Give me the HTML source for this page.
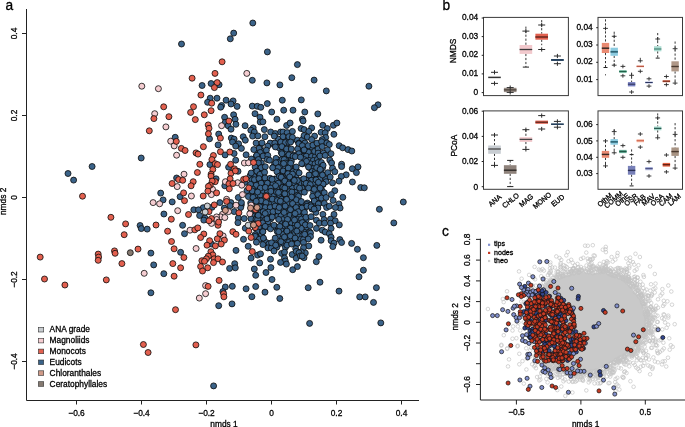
<!DOCTYPE html>
<html><head><meta charset="utf-8"><style>
html,body{margin:0;padding:0;background:#fff;width:685px;height:427px;overflow:hidden}
svg{display:block;font-family:"Liberation Sans",sans-serif;will-change:transform}
.pa circle{stroke:#0a0a0a;stroke-width:0.8}
</style></head><body>
<svg width="685" height="427" viewBox="0 0 685 427">
<g class="pa">
<path d="M26.5 9 V400.5 H419" fill="none" stroke="#222" stroke-width="1"/>
<line x1="76.5" y1="400.5" x2="76.5" y2="404.5" stroke="#222" stroke-width="1"/>
<text transform="translate(76.50 415.60) scale(0.95 1)" font-size="8.8" text-anchor="middle" fill="#000" stroke="#000" stroke-width="0.3">−0.6</text>
<line x1="141.5" y1="400.5" x2="141.5" y2="404.5" stroke="#222" stroke-width="1"/>
<text transform="translate(141.50 415.60) scale(0.95 1)" font-size="8.8" text-anchor="middle" fill="#000" stroke="#000" stroke-width="0.3">−0.4</text>
<line x1="206.5" y1="400.5" x2="206.5" y2="404.5" stroke="#222" stroke-width="1"/>
<text transform="translate(206.50 415.60) scale(0.95 1)" font-size="8.8" text-anchor="middle" fill="#000" stroke="#000" stroke-width="0.3">−0.2</text>
<line x1="271.5" y1="400.5" x2="271.5" y2="404.5" stroke="#222" stroke-width="1"/>
<text transform="translate(271.50 415.60) scale(0.95 1)" font-size="8.8" text-anchor="middle" fill="#000" stroke="#000" stroke-width="0.3">0</text>
<line x1="336.5" y1="400.5" x2="336.5" y2="404.5" stroke="#222" stroke-width="1"/>
<text transform="translate(336.50 415.60) scale(0.95 1)" font-size="8.8" text-anchor="middle" fill="#000" stroke="#000" stroke-width="0.3">0.2</text>
<line x1="401.5" y1="400.5" x2="401.5" y2="404.5" stroke="#222" stroke-width="1"/>
<text transform="translate(401.50 415.60) scale(0.95 1)" font-size="8.8" text-anchor="middle" fill="#000" stroke="#000" stroke-width="0.3">0.4</text>
<line x1="22" y1="33.5" x2="26.5" y2="33.5" stroke="#222" stroke-width="1"/>
<text transform="translate(17.30 33.50) rotate(-90) scale(0.95 1)" font-size="8.8" text-anchor="middle" fill="#000" stroke="#000" stroke-width="0.3">0.4</text>
<line x1="22" y1="115.5" x2="26.5" y2="115.5" stroke="#222" stroke-width="1"/>
<text transform="translate(17.30 115.50) rotate(-90) scale(0.95 1)" font-size="8.8" text-anchor="middle" fill="#000" stroke="#000" stroke-width="0.3">0.2</text>
<line x1="22" y1="197.5" x2="26.5" y2="197.5" stroke="#222" stroke-width="1"/>
<text transform="translate(17.30 197.50) rotate(-90) scale(0.95 1)" font-size="8.8" text-anchor="middle" fill="#000" stroke="#000" stroke-width="0.3">0</text>
<line x1="22" y1="279.5" x2="26.5" y2="279.5" stroke="#222" stroke-width="1"/>
<text transform="translate(17.30 279.50) rotate(-90) scale(0.95 1)" font-size="8.8" text-anchor="middle" fill="#000" stroke="#000" stroke-width="0.3">−0.2</text>
<line x1="22" y1="361.5" x2="26.5" y2="361.5" stroke="#222" stroke-width="1"/>
<text transform="translate(17.30 361.50) rotate(-90) scale(0.95 1)" font-size="8.8" text-anchor="middle" fill="#000" stroke="#000" stroke-width="0.3">−0.4</text>
<text transform="translate(224.00 426.70) scale(0.95 1)" font-size="8.8" text-anchor="middle" fill="#000" stroke="#000" stroke-width="0.3">nmds 1</text>
<text transform="translate(5.80 201.40) rotate(-90) scale(0.95 1)" font-size="8.8" text-anchor="middle" fill="#000" stroke="#000" stroke-width="0.3">nmds 2</text>
<text transform="translate(5.60 9.80) scale(0.95 1)" font-size="14.5" text-anchor="start" fill="#000" stroke="#000" stroke-width="0.3">a</text>
<circle cx="278.3" cy="139.1" r="3.0" fill="#3b6389"/>
<circle cx="284.6" cy="140.6" r="3.0" fill="#3b6389"/>
<circle cx="287.5" cy="139.9" r="3.0" fill="#3b6389"/>
<circle cx="292.5" cy="139.5" r="3.0" fill="#3b6389"/>
<circle cx="297.2" cy="140.2" r="3.0" fill="#3b6389"/>
<circle cx="302.3" cy="139.6" r="3.0" fill="#3b6389"/>
<circle cx="271.7" cy="143.8" r="3.0" fill="#3b6389"/>
<circle cx="276.0" cy="144.5" r="3.0" fill="#3b6389"/>
<circle cx="281.7" cy="144.7" r="3.0" fill="#3b6389"/>
<circle cx="286.6" cy="144.2" r="3.0" fill="#3b6389"/>
<circle cx="298.8" cy="143.2" r="3.0" fill="#3b6389"/>
<circle cx="304.9" cy="143.0" r="3.0" fill="#3b6389"/>
<circle cx="260.2" cy="147.2" r="3.0" fill="#3b6389"/>
<circle cx="278.8" cy="147.7" r="3.0" fill="#3b6389"/>
<circle cx="282.9" cy="147.9" r="3.0" fill="#3b6389"/>
<circle cx="302.4" cy="147.9" r="3.0" fill="#3b6389"/>
<circle cx="306.7" cy="148.2" r="3.0" fill="#3b6389"/>
<circle cx="312.1" cy="147.2" r="3.0" fill="#3b6389"/>
<circle cx="258.4" cy="151.6" r="3.0" fill="#3b6389"/>
<circle cx="262.3" cy="151.6" r="3.0" fill="#3b6389"/>
<circle cx="281.3" cy="152.5" r="3.0" fill="#3b6389"/>
<circle cx="286.6" cy="152.0" r="3.0" fill="#3b6389"/>
<circle cx="300.3" cy="152.8" r="3.0" fill="#3b6389"/>
<circle cx="304.3" cy="151.3" r="3.0" fill="#3b6389"/>
<circle cx="308.5" cy="152.3" r="3.0" fill="#3b6389"/>
<circle cx="314.0" cy="152.8" r="3.0" fill="#3b6389"/>
<circle cx="256.3" cy="156.2" r="3.0" fill="#3b6389"/>
<circle cx="259.7" cy="155.5" r="3.0" fill="#3b6389"/>
<circle cx="265.2" cy="155.8" r="3.0" fill="#3b6389"/>
<circle cx="283.2" cy="156.2" r="3.0" fill="#3b6389"/>
<circle cx="287.5" cy="156.6" r="3.0" fill="#3b6389"/>
<circle cx="293.7" cy="155.0" r="3.0" fill="#3b6389"/>
<circle cx="298.4" cy="155.6" r="3.0" fill="#3b6389"/>
<circle cx="302.6" cy="156.4" r="3.0" fill="#3b6389"/>
<circle cx="306.3" cy="156.2" r="3.0" fill="#3b6389"/>
<circle cx="311.6" cy="156.5" r="3.0" fill="#3b6389"/>
<circle cx="315.4" cy="156.4" r="3.0" fill="#3b6389"/>
<circle cx="253.5" cy="160.3" r="3.0" fill="#3b6389"/>
<circle cx="258.6" cy="159.9" r="3.0" fill="#3b6389"/>
<circle cx="277.3" cy="159.9" r="3.0" fill="#3b6389"/>
<circle cx="281.9" cy="159.6" r="3.0" fill="#3b6389"/>
<circle cx="285.5" cy="159.6" r="3.0" fill="#3b6389"/>
<circle cx="291.3" cy="158.9" r="3.0" fill="#3b6389"/>
<circle cx="304.1" cy="159.6" r="3.0" fill="#3b6389"/>
<circle cx="309.1" cy="160.4" r="3.0" fill="#3b6389"/>
<circle cx="313.3" cy="160.5" r="3.0" fill="#3b6389"/>
<circle cx="317.4" cy="159.4" r="3.0" fill="#3b6389"/>
<circle cx="255.5" cy="163.3" r="3.0" fill="#3b6389"/>
<circle cx="261.3" cy="162.9" r="3.0" fill="#3b6389"/>
<circle cx="274.6" cy="164.0" r="3.0" fill="#3b6389"/>
<circle cx="279.4" cy="164.8" r="3.0" fill="#3b6389"/>
<circle cx="284.1" cy="163.4" r="3.0" fill="#3b6389"/>
<circle cx="289.0" cy="163.8" r="3.0" fill="#3b6389"/>
<circle cx="302.4" cy="163.8" r="3.0" fill="#3b6389"/>
<circle cx="306.7" cy="163.7" r="3.0" fill="#3b6389"/>
<circle cx="310.7" cy="163.9" r="3.0" fill="#3b6389"/>
<circle cx="315.0" cy="163.8" r="3.0" fill="#3b6389"/>
<circle cx="320.8" cy="163.7" r="3.0" fill="#3b6389"/>
<circle cx="259.3" cy="168.2" r="3.0" fill="#3b6389"/>
<circle cx="263.5" cy="167.5" r="3.0" fill="#3b6389"/>
<circle cx="272.9" cy="167.7" r="3.0" fill="#3b6389"/>
<circle cx="277.3" cy="167.8" r="3.0" fill="#3b6389"/>
<circle cx="280.6" cy="166.9" r="3.0" fill="#3b6389"/>
<circle cx="285.2" cy="167.2" r="3.0" fill="#3b6389"/>
<circle cx="289.9" cy="167.8" r="3.0" fill="#3b6389"/>
<circle cx="295.6" cy="167.9" r="3.0" fill="#3b6389"/>
<circle cx="309.5" cy="167.6" r="3.0" fill="#3b6389"/>
<circle cx="313.0" cy="168.6" r="3.0" fill="#3b6389"/>
<circle cx="318.6" cy="167.5" r="3.0" fill="#3b6389"/>
<circle cx="322.5" cy="167.9" r="3.0" fill="#3b6389"/>
<circle cx="255.4" cy="171.8" r="3.0" fill="#3b6389"/>
<circle cx="259.8" cy="170.8" r="3.0" fill="#3b6389"/>
<circle cx="278.2" cy="172.7" r="3.0" fill="#3b6389"/>
<circle cx="283.1" cy="171.0" r="3.0" fill="#3b6389"/>
<circle cx="288.2" cy="171.1" r="3.0" fill="#3b6389"/>
<circle cx="293.1" cy="171.5" r="3.0" fill="#3b6389"/>
<circle cx="296.7" cy="170.9" r="3.0" fill="#3b6389"/>
<circle cx="312.2" cy="171.4" r="3.0" fill="#3b6389"/>
<circle cx="315.4" cy="171.3" r="3.0" fill="#3b6389"/>
<circle cx="321.1" cy="172.0" r="3.0" fill="#3b6389"/>
<circle cx="250.1" cy="175.7" r="3.0" fill="#3b6389"/>
<circle cx="254.4" cy="176.6" r="3.0" fill="#3b6389"/>
<circle cx="259.3" cy="174.8" r="3.0" fill="#3b6389"/>
<circle cx="262.6" cy="176.0" r="3.0" fill="#3b6389"/>
<circle cx="281.1" cy="176.1" r="3.0" fill="#3b6389"/>
<circle cx="286.9" cy="175.1" r="3.0" fill="#3b6389"/>
<circle cx="291.1" cy="176.2" r="3.0" fill="#3b6389"/>
<circle cx="295.9" cy="175.9" r="3.0" fill="#3b6389"/>
<circle cx="309.6" cy="175.7" r="3.0" fill="#3b6389"/>
<circle cx="313.1" cy="175.1" r="3.0" fill="#3b6389"/>
<circle cx="318.6" cy="176.0" r="3.0" fill="#3b6389"/>
<circle cx="323.2" cy="175.5" r="3.0" fill="#3b6389"/>
<circle cx="252.2" cy="179.7" r="3.0" fill="#3b6389"/>
<circle cx="256.9" cy="180.2" r="3.0" fill="#3b6389"/>
<circle cx="260.4" cy="179.5" r="3.0" fill="#3b6389"/>
<circle cx="264.4" cy="179.6" r="3.0" fill="#3b6389"/>
<circle cx="274.6" cy="179.0" r="3.0" fill="#3b6389"/>
<circle cx="278.3" cy="180.1" r="3.0" fill="#3b6389"/>
<circle cx="283.2" cy="178.9" r="3.0" fill="#3b6389"/>
<circle cx="287.6" cy="180.0" r="3.0" fill="#3b6389"/>
<circle cx="293.1" cy="178.8" r="3.0" fill="#3b6389"/>
<circle cx="297.0" cy="180.7" r="3.0" fill="#3b6389"/>
<circle cx="301.5" cy="179.9" r="3.0" fill="#3b6389"/>
<circle cx="306.5" cy="180.3" r="3.0" fill="#3b6389"/>
<circle cx="311.5" cy="180.3" r="3.0" fill="#3b6389"/>
<circle cx="316.0" cy="179.1" r="3.0" fill="#3b6389"/>
<circle cx="319.9" cy="178.9" r="3.0" fill="#3b6389"/>
<circle cx="325.8" cy="179.0" r="3.0" fill="#3b6389"/>
<circle cx="253.7" cy="183.0" r="3.0" fill="#3b6389"/>
<circle cx="259.1" cy="183.9" r="3.0" fill="#3b6389"/>
<circle cx="263.6" cy="183.1" r="3.0" fill="#3b6389"/>
<circle cx="267.7" cy="183.7" r="3.0" fill="#3b6389"/>
<circle cx="272.7" cy="182.9" r="3.0" fill="#3b6389"/>
<circle cx="276.5" cy="183.7" r="3.0" fill="#3b6389"/>
<circle cx="280.5" cy="183.8" r="3.0" fill="#3b6389"/>
<circle cx="286.5" cy="183.6" r="3.0" fill="#3b6389"/>
<circle cx="290.9" cy="183.9" r="3.0" fill="#3b6389"/>
<circle cx="294.6" cy="183.4" r="3.0" fill="#3b6389"/>
<circle cx="300.8" cy="183.4" r="3.0" fill="#3b6389"/>
<circle cx="304.3" cy="182.9" r="3.0" fill="#3b6389"/>
<circle cx="308.4" cy="183.1" r="3.0" fill="#3b6389"/>
<circle cx="314.5" cy="184.2" r="3.0" fill="#3b6389"/>
<circle cx="318.9" cy="184.7" r="3.0" fill="#3b6389"/>
<circle cx="323.0" cy="184.6" r="3.0" fill="#3b6389"/>
<circle cx="250.9" cy="186.9" r="3.0" fill="#3b6389"/>
<circle cx="256.5" cy="187.3" r="3.0" fill="#3b6389"/>
<circle cx="260.7" cy="188.0" r="3.0" fill="#3b6389"/>
<circle cx="264.4" cy="188.2" r="3.0" fill="#3b6389"/>
<circle cx="269.5" cy="187.6" r="3.0" fill="#3b6389"/>
<circle cx="274.2" cy="188.2" r="3.0" fill="#3b6389"/>
<circle cx="279.6" cy="187.3" r="3.0" fill="#3b6389"/>
<circle cx="282.9" cy="187.3" r="3.0" fill="#3b6389"/>
<circle cx="288.1" cy="186.9" r="3.0" fill="#3b6389"/>
<circle cx="292.2" cy="188.2" r="3.0" fill="#3b6389"/>
<circle cx="297.9" cy="188.7" r="3.0" fill="#3b6389"/>
<circle cx="303.1" cy="188.5" r="3.0" fill="#3b6389"/>
<circle cx="306.4" cy="187.0" r="3.0" fill="#3b6389"/>
<circle cx="310.9" cy="187.6" r="3.0" fill="#3b6389"/>
<circle cx="316.0" cy="187.8" r="3.0" fill="#3b6389"/>
<circle cx="320.2" cy="188.4" r="3.0" fill="#3b6389"/>
<circle cx="249.7" cy="191.6" r="3.0" fill="#3b6389"/>
<circle cx="254.8" cy="192.3" r="3.0" fill="#3b6389"/>
<circle cx="259.4" cy="190.8" r="3.0" fill="#3b6389"/>
<circle cx="262.4" cy="190.7" r="3.0" fill="#3b6389"/>
<circle cx="267.5" cy="191.4" r="3.0" fill="#3b6389"/>
<circle cx="271.3" cy="191.8" r="3.0" fill="#3b6389"/>
<circle cx="276.0" cy="191.3" r="3.0" fill="#3b6389"/>
<circle cx="280.9" cy="192.3" r="3.0" fill="#3b6389"/>
<circle cx="285.8" cy="191.2" r="3.0" fill="#3b6389"/>
<circle cx="289.7" cy="191.6" r="3.0" fill="#3b6389"/>
<circle cx="295.5" cy="192.1" r="3.0" fill="#3b6389"/>
<circle cx="300.6" cy="192.3" r="3.0" fill="#3b6389"/>
<circle cx="313.6" cy="192.4" r="3.0" fill="#3b6389"/>
<circle cx="318.3" cy="191.3" r="3.0" fill="#3b6389"/>
<circle cx="322.1" cy="190.7" r="3.0" fill="#3b6389"/>
<circle cx="251.9" cy="196.7" r="3.0" fill="#3b6389"/>
<circle cx="256.2" cy="195.5" r="3.0" fill="#3b6389"/>
<circle cx="260.4" cy="195.6" r="3.0" fill="#3b6389"/>
<circle cx="265.9" cy="195.6" r="3.0" fill="#3b6389"/>
<circle cx="270.8" cy="195.0" r="3.0" fill="#3b6389"/>
<circle cx="274.1" cy="195.7" r="3.0" fill="#3b6389"/>
<circle cx="278.9" cy="196.4" r="3.0" fill="#3b6389"/>
<circle cx="284.4" cy="196.6" r="3.0" fill="#3b6389"/>
<circle cx="288.5" cy="194.7" r="3.0" fill="#3b6389"/>
<circle cx="293.0" cy="195.8" r="3.0" fill="#3b6389"/>
<circle cx="297.5" cy="195.2" r="3.0" fill="#3b6389"/>
<circle cx="316.7" cy="196.6" r="3.0" fill="#3b6389"/>
<circle cx="320.8" cy="195.1" r="3.0" fill="#3b6389"/>
<circle cx="253.2" cy="198.8" r="3.0" fill="#3b6389"/>
<circle cx="258.5" cy="200.2" r="3.0" fill="#3b6389"/>
<circle cx="263.7" cy="199.9" r="3.0" fill="#3b6389"/>
<circle cx="268.2" cy="198.7" r="3.0" fill="#3b6389"/>
<circle cx="271.8" cy="200.6" r="3.0" fill="#3b6389"/>
<circle cx="275.9" cy="199.2" r="3.0" fill="#3b6389"/>
<circle cx="281.4" cy="199.2" r="3.0" fill="#3b6389"/>
<circle cx="286.1" cy="198.8" r="3.0" fill="#3b6389"/>
<circle cx="290.1" cy="200.6" r="3.0" fill="#3b6389"/>
<circle cx="294.5" cy="200.5" r="3.0" fill="#3b6389"/>
<circle cx="299.2" cy="200.7" r="3.0" fill="#3b6389"/>
<circle cx="314.1" cy="199.0" r="3.0" fill="#3b6389"/>
<circle cx="317.6" cy="200.3" r="3.0" fill="#3b6389"/>
<circle cx="250.7" cy="203.0" r="3.0" fill="#3b6389"/>
<circle cx="257.0" cy="204.6" r="3.0" fill="#3b6389"/>
<circle cx="261.7" cy="203.1" r="3.0" fill="#3b6389"/>
<circle cx="265.0" cy="204.6" r="3.0" fill="#3b6389"/>
<circle cx="269.9" cy="204.1" r="3.0" fill="#3b6389"/>
<circle cx="274.1" cy="202.7" r="3.0" fill="#3b6389"/>
<circle cx="278.8" cy="204.2" r="3.0" fill="#3b6389"/>
<circle cx="284.3" cy="203.8" r="3.0" fill="#3b6389"/>
<circle cx="288.2" cy="203.7" r="3.0" fill="#3b6389"/>
<circle cx="292.8" cy="203.7" r="3.0" fill="#3b6389"/>
<circle cx="298.2" cy="203.1" r="3.0" fill="#3b6389"/>
<circle cx="302.3" cy="204.5" r="3.0" fill="#3b6389"/>
<circle cx="307.4" cy="203.0" r="3.0" fill="#3b6389"/>
<circle cx="312.2" cy="204.3" r="3.0" fill="#3b6389"/>
<circle cx="315.2" cy="203.2" r="3.0" fill="#3b6389"/>
<circle cx="319.9" cy="202.8" r="3.0" fill="#3b6389"/>
<circle cx="253.4" cy="207.7" r="3.0" fill="#3b6389"/>
<circle cx="258.1" cy="207.3" r="3.0" fill="#3b6389"/>
<circle cx="262.7" cy="207.8" r="3.0" fill="#3b6389"/>
<circle cx="268.6" cy="208.5" r="3.0" fill="#3b6389"/>
<circle cx="272.9" cy="208.3" r="3.0" fill="#3b6389"/>
<circle cx="276.4" cy="208.6" r="3.0" fill="#3b6389"/>
<circle cx="280.9" cy="206.9" r="3.0" fill="#3b6389"/>
<circle cx="286.0" cy="208.1" r="3.0" fill="#3b6389"/>
<circle cx="290.3" cy="207.9" r="3.0" fill="#3b6389"/>
<circle cx="294.8" cy="208.6" r="3.0" fill="#3b6389"/>
<circle cx="299.7" cy="207.6" r="3.0" fill="#3b6389"/>
<circle cx="304.5" cy="208.4" r="3.0" fill="#3b6389"/>
<circle cx="317.3" cy="207.5" r="3.0" fill="#3b6389"/>
<circle cx="251.1" cy="211.6" r="3.0" fill="#3b6389"/>
<circle cx="255.9" cy="211.4" r="3.0" fill="#3b6389"/>
<circle cx="261.0" cy="212.4" r="3.0" fill="#3b6389"/>
<circle cx="265.5" cy="210.9" r="3.0" fill="#3b6389"/>
<circle cx="269.3" cy="211.4" r="3.0" fill="#3b6389"/>
<circle cx="274.7" cy="210.9" r="3.0" fill="#3b6389"/>
<circle cx="278.3" cy="211.3" r="3.0" fill="#3b6389"/>
<circle cx="283.3" cy="210.7" r="3.0" fill="#3b6389"/>
<circle cx="288.4" cy="212.5" r="3.0" fill="#3b6389"/>
<circle cx="293.0" cy="212.1" r="3.0" fill="#3b6389"/>
<circle cx="298.2" cy="212.3" r="3.0" fill="#3b6389"/>
<circle cx="302.9" cy="211.5" r="3.0" fill="#3b6389"/>
<circle cx="315.9" cy="212.4" r="3.0" fill="#3b6389"/>
<circle cx="254.8" cy="216.0" r="3.0" fill="#3b6389"/>
<circle cx="257.6" cy="215.5" r="3.0" fill="#3b6389"/>
<circle cx="263.5" cy="216.6" r="3.0" fill="#3b6389"/>
<circle cx="266.7" cy="214.6" r="3.0" fill="#3b6389"/>
<circle cx="272.2" cy="215.5" r="3.0" fill="#3b6389"/>
<circle cx="277.6" cy="216.3" r="3.0" fill="#3b6389"/>
<circle cx="281.1" cy="215.4" r="3.0" fill="#3b6389"/>
<circle cx="286.2" cy="216.4" r="3.0" fill="#3b6389"/>
<circle cx="290.0" cy="215.4" r="3.0" fill="#3b6389"/>
<circle cx="294.4" cy="215.9" r="3.0" fill="#3b6389"/>
<circle cx="298.9" cy="216.5" r="3.0" fill="#3b6389"/>
<circle cx="304.4" cy="215.8" r="3.0" fill="#3b6389"/>
<circle cx="250.9" cy="218.7" r="3.0" fill="#3b6389"/>
<circle cx="256.0" cy="219.2" r="3.0" fill="#3b6389"/>
<circle cx="260.1" cy="220.3" r="3.0" fill="#3b6389"/>
<circle cx="264.7" cy="220.2" r="3.0" fill="#3b6389"/>
<circle cx="270.8" cy="218.8" r="3.0" fill="#3b6389"/>
<circle cx="282.8" cy="219.6" r="3.0" fill="#3b6389"/>
<circle cx="288.1" cy="220.3" r="3.0" fill="#3b6389"/>
<circle cx="293.6" cy="218.7" r="3.0" fill="#3b6389"/>
<circle cx="297.3" cy="219.4" r="3.0" fill="#3b6389"/>
<circle cx="301.5" cy="219.1" r="3.0" fill="#3b6389"/>
<circle cx="306.2" cy="220.0" r="3.0" fill="#3b6389"/>
<circle cx="253.3" cy="224.4" r="3.0" fill="#3b6389"/>
<circle cx="258.8" cy="223.0" r="3.0" fill="#3b6389"/>
<circle cx="263.6" cy="224.5" r="3.0" fill="#3b6389"/>
<circle cx="267.3" cy="224.6" r="3.0" fill="#3b6389"/>
<circle cx="281.9" cy="223.7" r="3.0" fill="#3b6389"/>
<circle cx="285.2" cy="223.6" r="3.0" fill="#3b6389"/>
<circle cx="291.3" cy="223.5" r="3.0" fill="#3b6389"/>
<circle cx="295.3" cy="224.3" r="3.0" fill="#3b6389"/>
<circle cx="299.7" cy="223.6" r="3.0" fill="#3b6389"/>
<circle cx="304.6" cy="224.2" r="3.0" fill="#3b6389"/>
<circle cx="255.3" cy="227.7" r="3.0" fill="#3b6389"/>
<circle cx="260.3" cy="228.0" r="3.0" fill="#3b6389"/>
<circle cx="264.6" cy="227.3" r="3.0" fill="#3b6389"/>
<circle cx="269.3" cy="227.4" r="3.0" fill="#3b6389"/>
<circle cx="274.7" cy="226.8" r="3.0" fill="#3b6389"/>
<circle cx="278.2" cy="227.5" r="3.0" fill="#3b6389"/>
<circle cx="283.1" cy="227.6" r="3.0" fill="#3b6389"/>
<circle cx="287.6" cy="226.8" r="3.0" fill="#3b6389"/>
<circle cx="293.0" cy="228.4" r="3.0" fill="#3b6389"/>
<circle cx="298.2" cy="227.6" r="3.0" fill="#3b6389"/>
<circle cx="301.9" cy="226.7" r="3.0" fill="#3b6389"/>
<circle cx="306.3" cy="227.2" r="3.0" fill="#3b6389"/>
<circle cx="257.7" cy="231.9" r="3.0" fill="#3b6389"/>
<circle cx="262.5" cy="231.6" r="3.0" fill="#3b6389"/>
<circle cx="277.2" cy="231.4" r="3.0" fill="#3b6389"/>
<circle cx="282.0" cy="231.1" r="3.0" fill="#3b6389"/>
<circle cx="286.1" cy="231.7" r="3.0" fill="#3b6389"/>
<circle cx="290.4" cy="230.6" r="3.0" fill="#3b6389"/>
<circle cx="294.5" cy="231.8" r="3.0" fill="#3b6389"/>
<circle cx="299.2" cy="232.1" r="3.0" fill="#3b6389"/>
<circle cx="304.4" cy="232.4" r="3.0" fill="#3b6389"/>
<circle cx="309.7" cy="232.0" r="3.0" fill="#3b6389"/>
<circle cx="255.1" cy="234.7" r="3.0" fill="#3b6389"/>
<circle cx="261.3" cy="235.3" r="3.0" fill="#3b6389"/>
<circle cx="278.7" cy="235.9" r="3.0" fill="#3b6389"/>
<circle cx="283.0" cy="234.6" r="3.0" fill="#3b6389"/>
<circle cx="288.3" cy="235.2" r="3.0" fill="#3b6389"/>
<circle cx="293.8" cy="234.7" r="3.0" fill="#3b6389"/>
<circle cx="298.1" cy="235.3" r="3.0" fill="#3b6389"/>
<circle cx="302.7" cy="235.4" r="3.0" fill="#3b6389"/>
<circle cx="307.0" cy="235.2" r="3.0" fill="#3b6389"/>
<circle cx="258.0" cy="238.6" r="3.0" fill="#3b6389"/>
<circle cx="263.6" cy="239.5" r="3.0" fill="#3b6389"/>
<circle cx="282.4" cy="238.8" r="3.0" fill="#3b6389"/>
<circle cx="285.7" cy="240.5" r="3.0" fill="#3b6389"/>
<circle cx="289.8" cy="239.5" r="3.0" fill="#3b6389"/>
<circle cx="295.2" cy="239.0" r="3.0" fill="#3b6389"/>
<circle cx="300.6" cy="239.3" r="3.0" fill="#3b6389"/>
<circle cx="303.4" cy="239.5" r="3.0" fill="#3b6389"/>
<circle cx="266.2" cy="242.5" r="3.0" fill="#3b6389"/>
<circle cx="269.0" cy="243.8" r="3.0" fill="#3b6389"/>
<circle cx="275.4" cy="243.3" r="3.0" fill="#3b6389"/>
<circle cx="279.5" cy="243.6" r="3.0" fill="#3b6389"/>
<circle cx="283.5" cy="243.4" r="3.0" fill="#3b6389"/>
<circle cx="288.5" cy="242.5" r="3.0" fill="#3b6389"/>
<circle cx="297.0" cy="243.4" r="3.0" fill="#3b6389"/>
<circle cx="267.9" cy="247.9" r="3.0" fill="#3b6389"/>
<circle cx="271.4" cy="248.0" r="3.0" fill="#3b6389"/>
<circle cx="276.8" cy="247.2" r="3.0" fill="#3b6389"/>
<circle cx="285.4" cy="247.3" r="3.0" fill="#3b6389"/>
<circle cx="252.8" cy="23.0" r="3.0" fill="#3b6389"/>
<circle cx="233.7" cy="33.1" r="3.0" fill="#3b6389"/>
<circle cx="230.3" cy="38.8" r="3.0" fill="#3b6389"/>
<circle cx="267.4" cy="51.9" r="3.0" fill="#3b6389"/>
<circle cx="181.5" cy="44.0" r="3.0" fill="#3b6389"/>
<circle cx="297.4" cy="64.6" r="3.0" fill="#3b6389"/>
<circle cx="291.8" cy="77.7" r="3.0" fill="#3b6389"/>
<circle cx="314.1" cy="80.1" r="3.0" fill="#3b6389"/>
<circle cx="326.3" cy="90.9" r="3.0" fill="#3b6389"/>
<circle cx="368.9" cy="86.2" r="3.0" fill="#3b6389"/>
<circle cx="202.1" cy="85.5" r="3.0" fill="#3b6389"/>
<circle cx="211.1" cy="83.5" r="3.0" fill="#3b6389"/>
<circle cx="219.1" cy="84.7" r="3.0" fill="#3b6389"/>
<circle cx="210.2" cy="98.2" r="3.0" fill="#3b6389"/>
<circle cx="217.0" cy="98.2" r="3.0" fill="#3b6389"/>
<circle cx="207.6" cy="102.3" r="3.0" fill="#3b6389"/>
<circle cx="226.1" cy="100.2" r="3.0" fill="#3b6389"/>
<circle cx="233.1" cy="100.9" r="3.0" fill="#3b6389"/>
<circle cx="231.0" cy="104.0" r="3.0" fill="#3b6389"/>
<circle cx="237.1" cy="106.4" r="3.0" fill="#3b6389"/>
<circle cx="221.6" cy="105.5" r="3.0" fill="#3b6389"/>
<circle cx="220.7" cy="107.2" r="3.0" fill="#3b6389"/>
<circle cx="224.6" cy="117.3" r="3.0" fill="#3b6389"/>
<circle cx="233.6" cy="114.8" r="3.0" fill="#3b6389"/>
<circle cx="235.1" cy="119.3" r="3.0" fill="#3b6389"/>
<circle cx="225.2" cy="122.4" r="3.0" fill="#3b6389"/>
<circle cx="235.9" cy="124.3" r="3.0" fill="#3b6389"/>
<circle cx="228.1" cy="125.7" r="3.0" fill="#3b6389"/>
<circle cx="245.1" cy="125.7" r="3.0" fill="#3b6389"/>
<circle cx="231.0" cy="129.2" r="3.0" fill="#3b6389"/>
<circle cx="252.3" cy="80.3" r="3.0" fill="#3b6389"/>
<circle cx="266.9" cy="82.9" r="3.0" fill="#3b6389"/>
<circle cx="279.9" cy="84.9" r="3.0" fill="#3b6389"/>
<circle cx="282.3" cy="100.2" r="3.0" fill="#3b6389"/>
<circle cx="301.3" cy="99.9" r="3.0" fill="#3b6389"/>
<circle cx="267.3" cy="103.6" r="3.0" fill="#3b6389"/>
<circle cx="252.3" cy="106.1" r="3.0" fill="#3b6389"/>
<circle cx="257.3" cy="106.3" r="3.0" fill="#3b6389"/>
<circle cx="260.8" cy="107.3" r="3.0" fill="#3b6389"/>
<circle cx="271.7" cy="112.0" r="3.0" fill="#3b6389"/>
<circle cx="283.7" cy="110.2" r="3.0" fill="#3b6389"/>
<circle cx="293.0" cy="110.2" r="3.0" fill="#3b6389"/>
<circle cx="304.8" cy="112.0" r="3.0" fill="#3b6389"/>
<circle cx="255.0" cy="113.7" r="3.0" fill="#3b6389"/>
<circle cx="260.0" cy="117.2" r="3.0" fill="#3b6389"/>
<circle cx="276.9" cy="119.2" r="3.0" fill="#3b6389"/>
<circle cx="302.4" cy="119.2" r="3.0" fill="#3b6389"/>
<circle cx="317.8" cy="113.9" r="3.0" fill="#3b6389"/>
<circle cx="378.0" cy="104.8" r="3.0" fill="#3b6389"/>
<circle cx="374.4" cy="107.7" r="3.0" fill="#3b6389"/>
<circle cx="175.2" cy="137.3" r="3.0" fill="#3b6389"/>
<circle cx="141.2" cy="158.0" r="3.0" fill="#3b6389"/>
<circle cx="92.1" cy="166.5" r="3.0" fill="#3b6389"/>
<circle cx="68.0" cy="173.5" r="3.0" fill="#3b6389"/>
<circle cx="73.6" cy="180.1" r="3.0" fill="#3b6389"/>
<circle cx="140.1" cy="225.5" r="3.0" fill="#3b6389"/>
<circle cx="141.3" cy="228.6" r="3.0" fill="#3b6389"/>
<circle cx="147.2" cy="229.1" r="3.0" fill="#3b6389"/>
<circle cx="176.6" cy="178.0" r="3.0" fill="#3b6389"/>
<circle cx="160.7" cy="193.1" r="3.0" fill="#3b6389"/>
<circle cx="180.1" cy="196.7" r="3.0" fill="#3b6389"/>
<circle cx="163.1" cy="199.9" r="3.0" fill="#3b6389"/>
<circle cx="172.2" cy="201.9" r="3.0" fill="#3b6389"/>
<circle cx="163.9" cy="214.0" r="3.0" fill="#3b6389"/>
<circle cx="209.5" cy="138.8" r="3.0" fill="#3b6389"/>
<circle cx="218.7" cy="134.1" r="3.0" fill="#3b6389"/>
<circle cx="231.3" cy="138.1" r="3.0" fill="#3b6389"/>
<circle cx="234.1" cy="139.1" r="3.0" fill="#3b6389"/>
<circle cx="232.5" cy="142.0" r="3.0" fill="#3b6389"/>
<circle cx="238.6" cy="143.8" r="3.0" fill="#3b6389"/>
<circle cx="235.7" cy="146.1" r="3.0" fill="#3b6389"/>
<circle cx="218.1" cy="144.9" r="3.0" fill="#3b6389"/>
<circle cx="225.1" cy="154.9" r="3.0" fill="#3b6389"/>
<circle cx="234.1" cy="153.5" r="3.0" fill="#3b6389"/>
<circle cx="235.7" cy="160.2" r="3.0" fill="#3b6389"/>
<circle cx="209.9" cy="164.6" r="3.0" fill="#3b6389"/>
<circle cx="228.6" cy="167.2" r="3.0" fill="#3b6389"/>
<circle cx="238.0" cy="171.3" r="3.0" fill="#3b6389"/>
<circle cx="260.2" cy="122.0" r="3.0" fill="#3b6389"/>
<circle cx="262.9" cy="121.8" r="3.0" fill="#3b6389"/>
<circle cx="286.6" cy="125.5" r="3.0" fill="#3b6389"/>
<circle cx="290.1" cy="123.0" r="3.0" fill="#3b6389"/>
<circle cx="253.2" cy="127.9" r="3.0" fill="#3b6389"/>
<circle cx="250.8" cy="130.2" r="3.0" fill="#3b6389"/>
<circle cx="254.3" cy="132.0" r="3.0" fill="#3b6389"/>
<circle cx="264.3" cy="129.6" r="3.0" fill="#3b6389"/>
<circle cx="270.7" cy="132.0" r="3.0" fill="#3b6389"/>
<circle cx="275.4" cy="133.5" r="3.0" fill="#3b6389"/>
<circle cx="280.7" cy="132.0" r="3.0" fill="#3b6389"/>
<circle cx="283.0" cy="132.0" r="3.0" fill="#3b6389"/>
<circle cx="287.2" cy="132.6" r="3.0" fill="#3b6389"/>
<circle cx="292.4" cy="131.4" r="3.0" fill="#3b6389"/>
<circle cx="252.6" cy="136.1" r="3.0" fill="#3b6389"/>
<circle cx="257.9" cy="135.9" r="3.0" fill="#3b6389"/>
<circle cx="264.9" cy="136.7" r="3.0" fill="#3b6389"/>
<circle cx="274.3" cy="136.1" r="3.0" fill="#3b6389"/>
<circle cx="283.0" cy="136.7" r="3.0" fill="#3b6389"/>
<circle cx="288.9" cy="136.7" r="3.0" fill="#3b6389"/>
<circle cx="292.4" cy="137.3" r="3.0" fill="#3b6389"/>
<circle cx="243.2" cy="136.7" r="3.0" fill="#3b6389"/>
<circle cx="245.3" cy="140.2" r="3.0" fill="#3b6389"/>
<circle cx="241.4" cy="148.4" r="3.0" fill="#3b6389"/>
<circle cx="256.1" cy="143.1" r="3.0" fill="#3b6389"/>
<circle cx="262.0" cy="142.9" r="3.0" fill="#3b6389"/>
<circle cx="270.2" cy="143.1" r="3.0" fill="#3b6389"/>
<circle cx="274.8" cy="143.1" r="3.0" fill="#3b6389"/>
<circle cx="275.4" cy="146.9" r="3.0" fill="#3b6389"/>
<circle cx="267.8" cy="146.1" r="3.0" fill="#3b6389"/>
<circle cx="259.0" cy="148.4" r="3.0" fill="#3b6389"/>
<circle cx="253.8" cy="149.6" r="3.0" fill="#3b6389"/>
<circle cx="266.4" cy="150.2" r="3.0" fill="#3b6389"/>
<circle cx="260.2" cy="152.5" r="3.0" fill="#3b6389"/>
<circle cx="256.7" cy="155.4" r="3.0" fill="#3b6389"/>
<circle cx="263.1" cy="156.0" r="3.0" fill="#3b6389"/>
<circle cx="267.8" cy="155.4" r="3.0" fill="#3b6389"/>
<circle cx="246.1" cy="154.8" r="3.0" fill="#3b6389"/>
<circle cx="251.4" cy="159.0" r="3.0" fill="#3b6389"/>
<circle cx="258.4" cy="159.5" r="3.0" fill="#3b6389"/>
<circle cx="267.2" cy="159.5" r="3.0" fill="#3b6389"/>
<circle cx="258.4" cy="163.0" r="3.0" fill="#3b6389"/>
<circle cx="280.7" cy="142.0" r="3.0" fill="#3b6389"/>
<circle cx="285.4" cy="142.5" r="3.0" fill="#3b6389"/>
<circle cx="288.9" cy="142.5" r="3.0" fill="#3b6389"/>
<circle cx="281.9" cy="146.6" r="3.0" fill="#3b6389"/>
<circle cx="286.6" cy="149.0" r="3.0" fill="#3b6389"/>
<circle cx="291.3" cy="149.0" r="3.0" fill="#3b6389"/>
<circle cx="281.9" cy="153.7" r="3.0" fill="#3b6389"/>
<circle cx="288.9" cy="154.8" r="3.0" fill="#3b6389"/>
<circle cx="293.0" cy="156.0" r="3.0" fill="#3b6389"/>
<circle cx="276.0" cy="158.4" r="3.0" fill="#3b6389"/>
<circle cx="284.2" cy="159.5" r="3.0" fill="#3b6389"/>
<circle cx="291.3" cy="161.3" r="3.0" fill="#3b6389"/>
<circle cx="277.8" cy="162.5" r="3.0" fill="#3b6389"/>
<circle cx="285.4" cy="163.0" r="3.0" fill="#3b6389"/>
<circle cx="303.1" cy="120.9" r="3.0" fill="#3b6389"/>
<circle cx="322.8" cy="125.3" r="3.0" fill="#3b6389"/>
<circle cx="327.3" cy="128.5" r="3.0" fill="#3b6389"/>
<circle cx="333.4" cy="125.3" r="3.0" fill="#3b6389"/>
<circle cx="336.9" cy="123.0" r="3.0" fill="#3b6389"/>
<circle cx="301.1" cy="128.5" r="3.0" fill="#3b6389"/>
<circle cx="304.1" cy="129.6" r="3.0" fill="#3b6389"/>
<circle cx="311.7" cy="127.9" r="3.0" fill="#3b6389"/>
<circle cx="308.8" cy="131.4" r="3.0" fill="#3b6389"/>
<circle cx="321.1" cy="132.3" r="3.0" fill="#3b6389"/>
<circle cx="325.2" cy="132.8" r="3.0" fill="#3b6389"/>
<circle cx="333.9" cy="134.3" r="3.0" fill="#3b6389"/>
<circle cx="304.1" cy="135.5" r="3.0" fill="#3b6389"/>
<circle cx="307.3" cy="137.0" r="3.0" fill="#3b6389"/>
<circle cx="314.6" cy="136.1" r="3.0" fill="#3b6389"/>
<circle cx="311.7" cy="139.6" r="3.0" fill="#3b6389"/>
<circle cx="325.7" cy="137.5" r="3.0" fill="#3b6389"/>
<circle cx="322.2" cy="139.6" r="3.0" fill="#3b6389"/>
<circle cx="290.6" cy="142.0" r="3.0" fill="#3b6389"/>
<circle cx="298.8" cy="143.7" r="3.0" fill="#3b6389"/>
<circle cx="302.3" cy="145.7" r="3.0" fill="#3b6389"/>
<circle cx="308.2" cy="145.7" r="3.0" fill="#3b6389"/>
<circle cx="312.9" cy="145.2" r="3.0" fill="#3b6389"/>
<circle cx="317.0" cy="143.1" r="3.0" fill="#3b6389"/>
<circle cx="321.6" cy="141.7" r="3.0" fill="#3b6389"/>
<circle cx="326.9" cy="142.9" r="3.0" fill="#3b6389"/>
<circle cx="329.3" cy="144.5" r="3.0" fill="#3b6389"/>
<circle cx="339.2" cy="145.7" r="3.0" fill="#3b6389"/>
<circle cx="342.7" cy="147.8" r="3.0" fill="#3b6389"/>
<circle cx="348.0" cy="149.6" r="3.0" fill="#3b6389"/>
<circle cx="297.6" cy="149.0" r="3.0" fill="#3b6389"/>
<circle cx="304.1" cy="149.9" r="3.0" fill="#3b6389"/>
<circle cx="314.6" cy="151.3" r="3.0" fill="#3b6389"/>
<circle cx="318.1" cy="149.0" r="3.0" fill="#3b6389"/>
<circle cx="322.2" cy="146.6" r="3.0" fill="#3b6389"/>
<circle cx="327.5" cy="149.9" r="3.0" fill="#3b6389"/>
<circle cx="331.0" cy="153.7" r="3.0" fill="#3b6389"/>
<circle cx="318.1" cy="153.1" r="3.0" fill="#3b6389"/>
<circle cx="323.4" cy="153.1" r="3.0" fill="#3b6389"/>
<circle cx="298.8" cy="153.7" r="3.0" fill="#3b6389"/>
<circle cx="295.3" cy="156.6" r="3.0" fill="#3b6389"/>
<circle cx="300.5" cy="157.2" r="3.0" fill="#3b6389"/>
<circle cx="319.9" cy="156.0" r="3.0" fill="#3b6389"/>
<circle cx="325.2" cy="155.4" r="3.0" fill="#3b6389"/>
<circle cx="306.4" cy="161.3" r="3.0" fill="#3b6389"/>
<circle cx="301.7" cy="163.6" r="3.0" fill="#3b6389"/>
<circle cx="318.1" cy="162.5" r="3.0" fill="#3b6389"/>
<circle cx="321.4" cy="162.5" r="3.0" fill="#3b6389"/>
<circle cx="329.8" cy="160.1" r="3.0" fill="#3b6389"/>
<circle cx="331.6" cy="163.0" r="3.0" fill="#3b6389"/>
<circle cx="341.6" cy="164.2" r="3.0" fill="#3b6389"/>
<circle cx="351.8" cy="151.0" r="3.0" fill="#3b6389"/>
<circle cx="341.6" cy="166.6" r="3.0" fill="#3b6389"/>
<circle cx="352.3" cy="168.7" r="3.0" fill="#3b6389"/>
<circle cx="358.0" cy="166.9" r="3.0" fill="#3b6389"/>
<circle cx="356.4" cy="172.6" r="3.0" fill="#3b6389"/>
<circle cx="346.2" cy="174.8" r="3.0" fill="#3b6389"/>
<circle cx="341.3" cy="176.4" r="3.0" fill="#3b6389"/>
<circle cx="216.1" cy="178.8" r="3.0" fill="#3b6389"/>
<circle cx="224.8" cy="185.8" r="3.0" fill="#3b6389"/>
<circle cx="238.3" cy="197.5" r="3.0" fill="#3b6389"/>
<circle cx="219.9" cy="202.6" r="3.0" fill="#3b6389"/>
<circle cx="212.0" cy="207.3" r="3.0" fill="#3b6389"/>
<circle cx="230.9" cy="202.6" r="3.0" fill="#3b6389"/>
<circle cx="230.1" cy="205.7" r="3.0" fill="#3b6389"/>
<circle cx="241.3" cy="204.9" r="3.0" fill="#3b6389"/>
<circle cx="240.7" cy="207.5" r="3.0" fill="#3b6389"/>
<circle cx="224.3" cy="208.1" r="3.0" fill="#3b6389"/>
<circle cx="234.2" cy="211.6" r="3.0" fill="#3b6389"/>
<circle cx="203.2" cy="207.7" r="3.0" fill="#3b6389"/>
<circle cx="193.8" cy="209.8" r="3.0" fill="#3b6389"/>
<circle cx="198.5" cy="209.8" r="3.0" fill="#3b6389"/>
<circle cx="199.6" cy="215.5" r="3.0" fill="#3b6389"/>
<circle cx="204.9" cy="218.0" r="3.0" fill="#3b6389"/>
<circle cx="238.3" cy="218.0" r="3.0" fill="#3b6389"/>
<circle cx="244.2" cy="218.6" r="3.0" fill="#3b6389"/>
<circle cx="296.2" cy="167.0" r="3.0" fill="#3b6389"/>
<circle cx="308.5" cy="167.0" r="3.0" fill="#3b6389"/>
<circle cx="323.1" cy="165.3" r="3.0" fill="#3b6389"/>
<circle cx="316.7" cy="167.6" r="3.0" fill="#3b6389"/>
<circle cx="320.2" cy="169.4" r="3.0" fill="#3b6389"/>
<circle cx="332.5" cy="168.2" r="3.0" fill="#3b6389"/>
<circle cx="334.8" cy="171.7" r="3.0" fill="#3b6389"/>
<circle cx="299.1" cy="172.9" r="3.0" fill="#3b6389"/>
<circle cx="309.1" cy="175.0" r="3.0" fill="#3b6389"/>
<circle cx="315.5" cy="173.8" r="3.0" fill="#3b6389"/>
<circle cx="322.5" cy="175.0" r="3.0" fill="#3b6389"/>
<circle cx="327.8" cy="172.7" r="3.0" fill="#3b6389"/>
<circle cx="330.2" cy="177.0" r="3.0" fill="#3b6389"/>
<circle cx="339.0" cy="181.1" r="3.0" fill="#3b6389"/>
<circle cx="352.4" cy="182.0" r="3.0" fill="#3b6389"/>
<circle cx="332.5" cy="182.9" r="3.0" fill="#3b6389"/>
<circle cx="326.1" cy="181.7" r="3.0" fill="#3b6389"/>
<circle cx="323.1" cy="184.0" r="3.0" fill="#3b6389"/>
<circle cx="316.1" cy="179.9" r="3.0" fill="#3b6389"/>
<circle cx="318.4" cy="182.3" r="3.0" fill="#3b6389"/>
<circle cx="303.8" cy="178.8" r="3.0" fill="#3b6389"/>
<circle cx="297.3" cy="180.5" r="3.0" fill="#3b6389"/>
<circle cx="306.1" cy="183.4" r="3.0" fill="#3b6389"/>
<circle cx="310.2" cy="184.6" r="3.0" fill="#3b6389"/>
<circle cx="296.8" cy="187.0" r="3.0" fill="#3b6389"/>
<circle cx="302.0" cy="188.1" r="3.0" fill="#3b6389"/>
<circle cx="308.5" cy="188.1" r="3.0" fill="#3b6389"/>
<circle cx="314.3" cy="189.3" r="3.0" fill="#3b6389"/>
<circle cx="320.2" cy="188.1" r="3.0" fill="#3b6389"/>
<circle cx="324.3" cy="192.8" r="3.0" fill="#3b6389"/>
<circle cx="334.8" cy="190.7" r="3.0" fill="#3b6389"/>
<circle cx="331.3" cy="194.6" r="3.0" fill="#3b6389"/>
<circle cx="304.4" cy="192.2" r="3.0" fill="#3b6389"/>
<circle cx="298.5" cy="196.3" r="3.0" fill="#3b6389"/>
<circle cx="312.6" cy="196.3" r="3.0" fill="#3b6389"/>
<circle cx="317.9" cy="194.6" r="3.0" fill="#3b6389"/>
<circle cx="321.4" cy="198.1" r="3.0" fill="#3b6389"/>
<circle cx="326.1" cy="197.5" r="3.0" fill="#3b6389"/>
<circle cx="333.1" cy="200.4" r="3.0" fill="#3b6389"/>
<circle cx="342.8" cy="197.3" r="3.0" fill="#3b6389"/>
<circle cx="296.2" cy="199.8" r="3.0" fill="#3b6389"/>
<circle cx="301.4" cy="201.6" r="3.0" fill="#3b6389"/>
<circle cx="306.7" cy="204.5" r="3.0" fill="#3b6389"/>
<circle cx="310.8" cy="205.1" r="3.0" fill="#3b6389"/>
<circle cx="314.3" cy="201.0" r="3.0" fill="#3b6389"/>
<circle cx="318.4" cy="203.9" r="3.0" fill="#3b6389"/>
<circle cx="324.3" cy="203.4" r="3.0" fill="#3b6389"/>
<circle cx="326.6" cy="207.5" r="3.0" fill="#3b6389"/>
<circle cx="317.9" cy="208.0" r="3.0" fill="#3b6389"/>
<circle cx="302.0" cy="208.0" r="3.0" fill="#3b6389"/>
<circle cx="338.9" cy="203.9" r="3.0" fill="#3b6389"/>
<circle cx="340.1" cy="208.0" r="3.0" fill="#3b6389"/>
<circle cx="335.4" cy="207.5" r="3.0" fill="#3b6389"/>
<circle cx="255.1" cy="167.0" r="3.0" fill="#3b6389"/>
<circle cx="261.1" cy="167.7" r="3.0" fill="#3b6389"/>
<circle cx="265.3" cy="166.7" r="3.0" fill="#3b6389"/>
<circle cx="269.5" cy="160.2" r="3.0" fill="#3b6389"/>
<circle cx="275.9" cy="162.8" r="3.0" fill="#3b6389"/>
<circle cx="272.7" cy="167.7" r="3.0" fill="#3b6389"/>
<circle cx="278.3" cy="167.7" r="3.0" fill="#3b6389"/>
<circle cx="251.2" cy="173.0" r="3.0" fill="#3b6389"/>
<circle cx="256.9" cy="171.2" r="3.0" fill="#3b6389"/>
<circle cx="260.0" cy="174.4" r="3.0" fill="#3b6389"/>
<circle cx="264.6" cy="172.3" r="3.0" fill="#3b6389"/>
<circle cx="276.9" cy="171.6" r="3.0" fill="#3b6389"/>
<circle cx="254.4" cy="179.7" r="3.0" fill="#3b6389"/>
<circle cx="259.0" cy="178.6" r="3.0" fill="#3b6389"/>
<circle cx="265.0" cy="177.9" r="3.0" fill="#3b6389"/>
<circle cx="270.2" cy="178.3" r="3.0" fill="#3b6389"/>
<circle cx="275.9" cy="179.0" r="3.0" fill="#3b6389"/>
<circle cx="279.4" cy="176.2" r="3.0" fill="#3b6389"/>
<circle cx="261.1" cy="183.2" r="3.0" fill="#3b6389"/>
<circle cx="267.4" cy="183.2" r="3.0" fill="#3b6389"/>
<circle cx="273.0" cy="183.9" r="3.0" fill="#3b6389"/>
<circle cx="278.3" cy="183.2" r="3.0" fill="#3b6389"/>
<circle cx="256.2" cy="185.3" r="3.0" fill="#3b6389"/>
<circle cx="260.4" cy="188.1" r="3.0" fill="#3b6389"/>
<circle cx="265.3" cy="187.4" r="3.0" fill="#3b6389"/>
<circle cx="270.9" cy="188.1" r="3.0" fill="#3b6389"/>
<circle cx="276.6" cy="188.1" r="3.0" fill="#3b6389"/>
<circle cx="252.3" cy="188.8" r="3.0" fill="#3b6389"/>
<circle cx="244.6" cy="182.5" r="3.0" fill="#3b6389"/>
<circle cx="250.5" cy="184.3" r="3.0" fill="#3b6389"/>
<circle cx="283.7" cy="163.5" r="3.0" fill="#3b6389"/>
<circle cx="290.7" cy="163.2" r="3.0" fill="#3b6389"/>
<circle cx="288.3" cy="168.1" r="3.0" fill="#3b6389"/>
<circle cx="287.9" cy="173.7" r="3.0" fill="#3b6389"/>
<circle cx="292.5" cy="174.1" r="3.0" fill="#3b6389"/>
<circle cx="281.2" cy="177.2" r="3.0" fill="#3b6389"/>
<circle cx="272.1" cy="179.3" r="3.0" fill="#3b6389"/>
<circle cx="289.7" cy="176.9" r="3.0" fill="#3b6389"/>
<circle cx="294.3" cy="180.4" r="3.0" fill="#3b6389"/>
<circle cx="284.8" cy="181.1" r="3.0" fill="#3b6389"/>
<circle cx="289.0" cy="183.9" r="3.0" fill="#3b6389"/>
<circle cx="275.6" cy="185.7" r="3.0" fill="#3b6389"/>
<circle cx="284.8" cy="188.1" r="3.0" fill="#3b6389"/>
<circle cx="299.5" cy="188.1" r="3.0" fill="#3b6389"/>
<circle cx="247.0" cy="190.6" r="3.0" fill="#3b6389"/>
<circle cx="252.3" cy="191.0" r="3.0" fill="#3b6389"/>
<circle cx="257.6" cy="192.0" r="3.0" fill="#3b6389"/>
<circle cx="248.4" cy="196.6" r="3.0" fill="#3b6389"/>
<circle cx="253.0" cy="197.3" r="3.0" fill="#3b6389"/>
<circle cx="261.1" cy="200.8" r="3.0" fill="#3b6389"/>
<circle cx="256.2" cy="201.2" r="3.0" fill="#3b6389"/>
<circle cx="270.9" cy="191.3" r="3.0" fill="#3b6389"/>
<circle cx="276.6" cy="192.0" r="3.0" fill="#3b6389"/>
<circle cx="272.3" cy="199.1" r="3.0" fill="#3b6389"/>
<circle cx="277.3" cy="200.5" r="3.0" fill="#3b6389"/>
<circle cx="266.0" cy="202.6" r="3.0" fill="#3b6389"/>
<circle cx="241.4" cy="202.6" r="3.0" fill="#3b6389"/>
<circle cx="259.7" cy="206.8" r="3.0" fill="#3b6389"/>
<circle cx="265.3" cy="207.5" r="3.0" fill="#3b6389"/>
<circle cx="270.2" cy="207.5" r="3.0" fill="#3b6389"/>
<circle cx="275.1" cy="206.1" r="3.0" fill="#3b6389"/>
<circle cx="263.2" cy="211.7" r="3.0" fill="#3b6389"/>
<circle cx="268.1" cy="212.1" r="3.0" fill="#3b6389"/>
<circle cx="273.0" cy="211.7" r="3.0" fill="#3b6389"/>
<circle cx="278.0" cy="211.0" r="3.0" fill="#3b6389"/>
<circle cx="278.5" cy="192.4" r="3.0" fill="#3b6389"/>
<circle cx="284.8" cy="193.8" r="3.0" fill="#3b6389"/>
<circle cx="291.9" cy="192.0" r="3.0" fill="#3b6389"/>
<circle cx="291.5" cy="197.0" r="3.0" fill="#3b6389"/>
<circle cx="280.3" cy="201.2" r="3.0" fill="#3b6389"/>
<circle cx="286.6" cy="199.4" r="3.0" fill="#3b6389"/>
<circle cx="292.6" cy="203.6" r="3.0" fill="#3b6389"/>
<circle cx="285.2" cy="206.1" r="3.0" fill="#3b6389"/>
<circle cx="279.2" cy="207.5" r="3.0" fill="#3b6389"/>
<circle cx="290.5" cy="209.6" r="3.0" fill="#3b6389"/>
<circle cx="296.1" cy="207.5" r="3.0" fill="#3b6389"/>
<circle cx="284.1" cy="212.4" r="3.0" fill="#3b6389"/>
<circle cx="298.2" cy="211.7" r="3.0" fill="#3b6389"/>
<circle cx="304.5" cy="212.4" r="3.0" fill="#3b6389"/>
<circle cx="311.9" cy="208.9" r="3.0" fill="#3b6389"/>
<circle cx="360.7" cy="187.5" r="3.0" fill="#3b6389"/>
<circle cx="364.3" cy="187.8" r="3.0" fill="#3b6389"/>
<circle cx="403.3" cy="202.0" r="3.0" fill="#3b6389"/>
<circle cx="379.4" cy="209.3" r="3.0" fill="#3b6389"/>
<circle cx="393.8" cy="222.9" r="3.0" fill="#3b6389"/>
<circle cx="307.0" cy="206.2" r="3.0" fill="#3b6389"/>
<circle cx="311.1" cy="206.8" r="3.0" fill="#3b6389"/>
<circle cx="314.1" cy="209.1" r="3.0" fill="#3b6389"/>
<circle cx="329.3" cy="206.2" r="3.0" fill="#3b6389"/>
<circle cx="305.9" cy="217.3" r="3.0" fill="#3b6389"/>
<circle cx="311.1" cy="216.7" r="3.0" fill="#3b6389"/>
<circle cx="322.9" cy="214.4" r="3.0" fill="#3b6389"/>
<circle cx="334.0" cy="214.4" r="3.0" fill="#3b6389"/>
<circle cx="316.4" cy="220.2" r="3.0" fill="#3b6389"/>
<circle cx="319.3" cy="223.2" r="3.0" fill="#3b6389"/>
<circle cx="324.0" cy="219.6" r="3.0" fill="#3b6389"/>
<circle cx="324.6" cy="223.2" r="3.0" fill="#3b6389"/>
<circle cx="330.5" cy="219.1" r="3.0" fill="#3b6389"/>
<circle cx="335.2" cy="220.8" r="3.0" fill="#3b6389"/>
<circle cx="330.5" cy="223.2" r="3.0" fill="#3b6389"/>
<circle cx="339.3" cy="224.9" r="3.0" fill="#3b6389"/>
<circle cx="302.3" cy="222.6" r="3.0" fill="#3b6389"/>
<circle cx="305.3" cy="224.9" r="3.0" fill="#3b6389"/>
<circle cx="310.0" cy="225.5" r="3.0" fill="#3b6389"/>
<circle cx="316.4" cy="228.4" r="3.0" fill="#3b6389"/>
<circle cx="322.3" cy="230.2" r="3.0" fill="#3b6389"/>
<circle cx="325.2" cy="232.0" r="3.0" fill="#3b6389"/>
<circle cx="331.1" cy="228.4" r="3.0" fill="#3b6389"/>
<circle cx="329.3" cy="233.7" r="3.0" fill="#3b6389"/>
<circle cx="301.2" cy="228.4" r="3.0" fill="#3b6389"/>
<circle cx="304.7" cy="234.3" r="3.0" fill="#3b6389"/>
<circle cx="310.5" cy="233.1" r="3.0" fill="#3b6389"/>
<circle cx="310.5" cy="236.6" r="3.0" fill="#3b6389"/>
<circle cx="308.2" cy="239.0" r="3.0" fill="#3b6389"/>
<circle cx="321.1" cy="240.2" r="3.0" fill="#3b6389"/>
<circle cx="331.1" cy="237.2" r="3.0" fill="#3b6389"/>
<circle cx="331.1" cy="240.7" r="3.0" fill="#3b6389"/>
<circle cx="334.0" cy="243.1" r="3.0" fill="#3b6389"/>
<circle cx="332.8" cy="246.6" r="3.0" fill="#3b6389"/>
<circle cx="339.8" cy="239.6" r="3.0" fill="#3b6389"/>
<circle cx="341.6" cy="242.5" r="3.0" fill="#3b6389"/>
<circle cx="351.6" cy="243.4" r="3.0" fill="#3b6389"/>
<circle cx="357.4" cy="249.3" r="3.0" fill="#3b6389"/>
<circle cx="303.5" cy="242.5" r="3.0" fill="#3b6389"/>
<circle cx="308.8" cy="246.0" r="3.0" fill="#3b6389"/>
<circle cx="303.5" cy="247.8" r="3.0" fill="#3b6389"/>
<circle cx="305.3" cy="253.0" r="3.0" fill="#3b6389"/>
<circle cx="301.2" cy="251.9" r="3.0" fill="#3b6389"/>
<circle cx="245.3" cy="228.2" r="3.0" fill="#3b6389"/>
<circle cx="257.6" cy="219.4" r="3.0" fill="#3b6389"/>
<circle cx="258.2" cy="215.3" r="3.0" fill="#3b6389"/>
<circle cx="265.2" cy="213.5" r="3.0" fill="#3b6389"/>
<circle cx="262.9" cy="222.9" r="3.0" fill="#3b6389"/>
<circle cx="268.1" cy="221.7" r="3.0" fill="#3b6389"/>
<circle cx="265.2" cy="226.4" r="3.0" fill="#3b6389"/>
<circle cx="270.5" cy="228.8" r="3.0" fill="#3b6389"/>
<circle cx="262.9" cy="231.7" r="3.0" fill="#3b6389"/>
<circle cx="267.0" cy="218.8" r="3.0" fill="#3b6389"/>
<circle cx="272.2" cy="217.0" r="3.0" fill="#3b6389"/>
<circle cx="295.1" cy="213.5" r="3.0" fill="#3b6389"/>
<circle cx="278.7" cy="219.4" r="3.0" fill="#3b6389"/>
<circle cx="287.5" cy="219.4" r="3.0" fill="#3b6389"/>
<circle cx="294.5" cy="220.0" r="3.0" fill="#3b6389"/>
<circle cx="274.0" cy="225.2" r="3.0" fill="#3b6389"/>
<circle cx="279.8" cy="226.4" r="3.0" fill="#3b6389"/>
<circle cx="285.7" cy="224.1" r="3.0" fill="#3b6389"/>
<circle cx="290.4" cy="228.2" r="3.0" fill="#3b6389"/>
<circle cx="297.4" cy="225.2" r="3.0" fill="#3b6389"/>
<circle cx="278.7" cy="231.7" r="3.0" fill="#3b6389"/>
<circle cx="286.9" cy="231.1" r="3.0" fill="#3b6389"/>
<circle cx="296.8" cy="231.1" r="3.0" fill="#3b6389"/>
<circle cx="243.5" cy="239.3" r="3.0" fill="#3b6389"/>
<circle cx="255.2" cy="236.4" r="3.0" fill="#3b6389"/>
<circle cx="259.3" cy="239.3" r="3.0" fill="#3b6389"/>
<circle cx="263.4" cy="238.1" r="3.0" fill="#3b6389"/>
<circle cx="256.4" cy="242.2" r="3.0" fill="#3b6389"/>
<circle cx="262.9" cy="244.6" r="3.0" fill="#3b6389"/>
<circle cx="275.2" cy="238.1" r="3.0" fill="#3b6389"/>
<circle cx="271.6" cy="242.8" r="3.0" fill="#3b6389"/>
<circle cx="275.7" cy="245.2" r="3.0" fill="#3b6389"/>
<circle cx="281.0" cy="241.6" r="3.0" fill="#3b6389"/>
<circle cx="284.5" cy="237.0" r="3.0" fill="#3b6389"/>
<circle cx="290.4" cy="235.8" r="3.0" fill="#3b6389"/>
<circle cx="295.1" cy="238.1" r="3.0" fill="#3b6389"/>
<circle cx="286.9" cy="245.2" r="3.0" fill="#3b6389"/>
<circle cx="291.6" cy="244.0" r="3.0" fill="#3b6389"/>
<circle cx="297.4" cy="243.4" r="3.0" fill="#3b6389"/>
<circle cx="295.7" cy="248.7" r="3.0" fill="#3b6389"/>
<circle cx="274.0" cy="251.0" r="3.0" fill="#3b6389"/>
<circle cx="281.6" cy="253.4" r="3.0" fill="#3b6389"/>
<circle cx="284.5" cy="252.2" r="3.0" fill="#3b6389"/>
<circle cx="292.2" cy="254.5" r="3.0" fill="#3b6389"/>
<circle cx="284.5" cy="258.0" r="3.0" fill="#3b6389"/>
<circle cx="248.2" cy="246.3" r="3.0" fill="#3b6389"/>
<circle cx="257.6" cy="255.1" r="3.0" fill="#3b6389"/>
<circle cx="260.5" cy="253.9" r="3.0" fill="#3b6389"/>
<circle cx="251.1" cy="258.0" r="3.0" fill="#3b6389"/>
<circle cx="270.5" cy="259.2" r="3.0" fill="#3b6389"/>
<circle cx="203.8" cy="220.1" r="3.0" fill="#3b6389"/>
<circle cx="182.6" cy="225.3" r="3.0" fill="#3b6389"/>
<circle cx="184.5" cy="233.7" r="3.0" fill="#3b6389"/>
<circle cx="211.5" cy="244.0" r="3.0" fill="#3b6389"/>
<circle cx="237.9" cy="222.7" r="3.0" fill="#3b6389"/>
<circle cx="180.6" cy="252.3" r="3.0" fill="#3b6389"/>
<circle cx="236.0" cy="250.4" r="3.0" fill="#3b6389"/>
<circle cx="234.7" cy="263.7" r="3.0" fill="#3b6389"/>
<circle cx="229.6" cy="268.4" r="3.0" fill="#3b6389"/>
<circle cx="235.3" cy="267.8" r="3.0" fill="#3b6389"/>
<circle cx="150.9" cy="253.1" r="3.0" fill="#3b6389"/>
<circle cx="153.7" cy="264.9" r="3.0" fill="#3b6389"/>
<circle cx="163.8" cy="273.7" r="3.0" fill="#3b6389"/>
<circle cx="150.9" cy="292.8" r="3.0" fill="#3b6389"/>
<circle cx="225.3" cy="287.0" r="3.0" fill="#3b6389"/>
<circle cx="232.3" cy="286.3" r="3.0" fill="#3b6389"/>
<circle cx="222.9" cy="291.6" r="3.0" fill="#3b6389"/>
<circle cx="246.1" cy="288.8" r="3.0" fill="#3b6389"/>
<circle cx="218.7" cy="305.7" r="3.0" fill="#3b6389"/>
<circle cx="232.0" cy="303.9" r="3.0" fill="#3b6389"/>
<circle cx="251.9" cy="296.7" r="3.0" fill="#3b6389"/>
<circle cx="259.7" cy="262.9" r="3.0" fill="#3b6389"/>
<circle cx="285.3" cy="261.0" r="3.0" fill="#3b6389"/>
<circle cx="280.5" cy="262.4" r="3.0" fill="#3b6389"/>
<circle cx="286.4" cy="264.1" r="3.0" fill="#3b6389"/>
<circle cx="296.2" cy="251.4" r="3.0" fill="#3b6389"/>
<circle cx="299.0" cy="252.8" r="3.0" fill="#3b6389"/>
<circle cx="296.2" cy="258.2" r="3.0" fill="#3b6389"/>
<circle cx="300.4" cy="255.9" r="3.0" fill="#3b6389"/>
<circle cx="304.0" cy="257.7" r="3.0" fill="#3b6389"/>
<circle cx="292.7" cy="269.7" r="3.0" fill="#3b6389"/>
<circle cx="297.4" cy="266.6" r="3.0" fill="#3b6389"/>
<circle cx="270.9" cy="267.6" r="3.0" fill="#3b6389"/>
<circle cx="254.3" cy="269.0" r="3.0" fill="#3b6389"/>
<circle cx="255.7" cy="275.3" r="3.0" fill="#3b6389"/>
<circle cx="266.0" cy="272.5" r="3.0" fill="#3b6389"/>
<circle cx="272.0" cy="279.5" r="3.0" fill="#3b6389"/>
<circle cx="255.7" cy="286.5" r="3.0" fill="#3b6389"/>
<circle cx="265.0" cy="292.2" r="3.0" fill="#3b6389"/>
<circle cx="276.8" cy="287.3" r="3.0" fill="#3b6389"/>
<circle cx="279.8" cy="298.5" r="3.0" fill="#3b6389"/>
<circle cx="308.2" cy="287.7" r="3.0" fill="#3b6389"/>
<circle cx="302.2" cy="256.1" r="3.0" fill="#3b6389"/>
<circle cx="318.9" cy="256.6" r="3.0" fill="#3b6389"/>
<circle cx="316.3" cy="261.7" r="3.0" fill="#3b6389"/>
<circle cx="376.8" cy="245.4" r="3.0" fill="#3b6389"/>
<circle cx="363.4" cy="257.7" r="3.0" fill="#3b6389"/>
<circle cx="363.4" cy="270.2" r="3.0" fill="#3b6389"/>
<circle cx="359.0" cy="276.8" r="3.0" fill="#3b6389"/>
<circle cx="320.0" cy="282.2" r="3.0" fill="#3b6389"/>
<circle cx="339.0" cy="291.1" r="3.0" fill="#3b6389"/>
<circle cx="376.4" cy="287.7" r="3.0" fill="#3b6389"/>
<circle cx="359.7" cy="296.9" r="3.0" fill="#3b6389"/>
<circle cx="365.2" cy="296.9" r="3.0" fill="#3b6389"/>
<circle cx="373.5" cy="302.4" r="3.0" fill="#3b6389"/>
<circle cx="309.6" cy="323.4" r="3.0" fill="#3b6389"/>
<circle cx="380.8" cy="322.9" r="3.0" fill="#3b6389"/>
<circle cx="213.6" cy="385.9" r="3.0" fill="#3b6389"/>
<circle cx="246.8" cy="73.4" r="3.0" fill="#f5cdd1"/>
<circle cx="141.8" cy="86.2" r="3.0" fill="#f5cdd1"/>
<circle cx="158.4" cy="88.7" r="3.0" fill="#f5cdd1"/>
<circle cx="154.7" cy="113.7" r="3.0" fill="#f5cdd1"/>
<circle cx="165.9" cy="126.9" r="3.0" fill="#f5cdd1"/>
<circle cx="221.6" cy="125.7" r="3.0" fill="#f5cdd1"/>
<circle cx="170.7" cy="141.2" r="3.0" fill="#f5cdd1"/>
<circle cx="174.2" cy="145.9" r="3.0" fill="#f5cdd1"/>
<circle cx="176.6" cy="155.2" r="3.0" fill="#f5cdd1"/>
<circle cx="184.0" cy="174.2" r="3.0" fill="#f5cdd1"/>
<circle cx="177.2" cy="186.6" r="3.0" fill="#f5cdd1"/>
<circle cx="153.1" cy="202.6" r="3.0" fill="#f5cdd1"/>
<circle cx="159.6" cy="203.8" r="3.0" fill="#f5cdd1"/>
<circle cx="177.7" cy="210.7" r="3.0" fill="#f5cdd1"/>
<circle cx="244.4" cy="163.0" r="3.0" fill="#f5cdd1"/>
<circle cx="248.5" cy="162.8" r="3.0" fill="#f5cdd1"/>
<circle cx="212.5" cy="189.3" r="3.0" fill="#f5cdd1"/>
<circle cx="211.4" cy="194.6" r="3.0" fill="#f5cdd1"/>
<circle cx="191.4" cy="196.0" r="3.0" fill="#f5cdd1"/>
<circle cx="225.4" cy="181.7" r="3.0" fill="#f5cdd1"/>
<circle cx="237.7" cy="182.7" r="3.0" fill="#f5cdd1"/>
<circle cx="241.8" cy="185.2" r="3.0" fill="#f5cdd1"/>
<circle cx="242.4" cy="194.6" r="3.0" fill="#f5cdd1"/>
<circle cx="226.6" cy="199.3" r="3.0" fill="#f5cdd1"/>
<circle cx="236.0" cy="205.2" r="3.0" fill="#f5cdd1"/>
<circle cx="228.6" cy="211.6" r="3.0" fill="#f5cdd1"/>
<circle cx="222.5" cy="214.3" r="3.0" fill="#f5cdd1"/>
<circle cx="220.7" cy="216.9" r="3.0" fill="#f5cdd1"/>
<circle cx="224.8" cy="217.5" r="3.0" fill="#f5cdd1"/>
<circle cx="216.6" cy="216.9" r="3.0" fill="#f5cdd1"/>
<circle cx="251.1" cy="205.1" r="3.0" fill="#f5cdd1"/>
<circle cx="249.8" cy="213.8" r="3.0" fill="#f5cdd1"/>
<circle cx="216.7" cy="219.5" r="3.0" fill="#f5cdd1"/>
<circle cx="211.5" cy="223.4" r="3.0" fill="#f5cdd1"/>
<circle cx="190.0" cy="230.2" r="3.0" fill="#f5cdd1"/>
<circle cx="223.1" cy="235.9" r="3.0" fill="#f5cdd1"/>
<circle cx="196.1" cy="248.5" r="3.0" fill="#f5cdd1"/>
<circle cx="144.2" cy="273.3" r="3.0" fill="#f5cdd1"/>
<circle cx="199.3" cy="298.1" r="3.0" fill="#f5cdd1"/>
<circle cx="205.6" cy="285.6" r="3.0" fill="#f5cdd1"/>
<circle cx="205.6" cy="293.7" r="3.0" fill="#f5cdd1"/>
<circle cx="222.1" cy="61.8" r="3.0" fill="#e3604f"/>
<circle cx="215.0" cy="73.4" r="3.0" fill="#e3604f"/>
<circle cx="192.1" cy="78.2" r="3.0" fill="#e3604f"/>
<circle cx="163.7" cy="106.8" r="3.0" fill="#e3604f"/>
<circle cx="190.6" cy="112.4" r="3.0" fill="#e3604f"/>
<circle cx="153.9" cy="118.6" r="3.0" fill="#e3604f"/>
<circle cx="168.9" cy="116.7" r="3.0" fill="#e3604f"/>
<circle cx="149.3" cy="130.8" r="3.0" fill="#e3604f"/>
<circle cx="217.2" cy="82.6" r="3.0" fill="#e3604f"/>
<circle cx="214.4" cy="87.6" r="3.0" fill="#e3604f"/>
<circle cx="200.9" cy="95.0" r="3.0" fill="#e3604f"/>
<circle cx="211.7" cy="103.2" r="3.0" fill="#e3604f"/>
<circle cx="193.5" cy="106.7" r="3.0" fill="#e3604f"/>
<circle cx="211.1" cy="110.7" r="3.0" fill="#e3604f"/>
<circle cx="204.3" cy="114.8" r="3.0" fill="#e3604f"/>
<circle cx="195.3" cy="119.6" r="3.0" fill="#e3604f"/>
<circle cx="228.9" cy="121.0" r="3.0" fill="#e3604f"/>
<circle cx="208.2" cy="124.9" r="3.0" fill="#e3604f"/>
<circle cx="209.0" cy="128.3" r="3.0" fill="#e3604f"/>
<circle cx="176.3" cy="141.4" r="3.0" fill="#e3604f"/>
<circle cx="181.3" cy="148.4" r="3.0" fill="#e3604f"/>
<circle cx="185.1" cy="150.5" r="3.0" fill="#e3604f"/>
<circle cx="196.0" cy="152.9" r="3.0" fill="#e3604f"/>
<circle cx="198.0" cy="154.1" r="3.0" fill="#e3604f"/>
<circle cx="199.8" cy="164.3" r="3.0" fill="#e3604f"/>
<circle cx="197.4" cy="172.5" r="3.0" fill="#e3604f"/>
<circle cx="82.5" cy="196.2" r="3.0" fill="#e3604f"/>
<circle cx="110.9" cy="217.3" r="3.0" fill="#e3604f"/>
<circle cx="125.6" cy="223.9" r="3.0" fill="#e3604f"/>
<circle cx="124.2" cy="234.7" r="3.0" fill="#e3604f"/>
<circle cx="178.7" cy="179.6" r="3.0" fill="#e3604f"/>
<circle cx="182.7" cy="180.3" r="3.0" fill="#e3604f"/>
<circle cx="172.1" cy="183.5" r="3.0" fill="#e3604f"/>
<circle cx="183.6" cy="192.9" r="3.0" fill="#e3604f"/>
<circle cx="184.5" cy="200.7" r="3.0" fill="#e3604f"/>
<circle cx="171.3" cy="219.2" r="3.0" fill="#e3604f"/>
<circle cx="208.4" cy="133.8" r="3.0" fill="#e3604f"/>
<circle cx="220.4" cy="138.1" r="3.0" fill="#e3604f"/>
<circle cx="203.4" cy="146.7" r="3.0" fill="#e3604f"/>
<circle cx="220.4" cy="151.7" r="3.0" fill="#e3604f"/>
<circle cx="229.8" cy="152.0" r="3.0" fill="#e3604f"/>
<circle cx="213.4" cy="155.5" r="3.0" fill="#e3604f"/>
<circle cx="211.9" cy="159.6" r="3.0" fill="#e3604f"/>
<circle cx="215.2" cy="163.7" r="3.0" fill="#e3604f"/>
<circle cx="217.5" cy="164.6" r="3.0" fill="#e3604f"/>
<circle cx="212.8" cy="169.5" r="3.0" fill="#e3604f"/>
<circle cx="230.6" cy="164.3" r="3.0" fill="#e3604f"/>
<circle cx="234.5" cy="168.9" r="3.0" fill="#e3604f"/>
<circle cx="211.1" cy="174.2" r="3.0" fill="#e3604f"/>
<circle cx="231.0" cy="173.3" r="3.0" fill="#e3604f"/>
<circle cx="253.5" cy="162.5" r="3.0" fill="#e3604f"/>
<circle cx="211.0" cy="176.1" r="3.0" fill="#e3604f"/>
<circle cx="215.2" cy="181.7" r="3.0" fill="#e3604f"/>
<circle cx="212.2" cy="181.1" r="3.0" fill="#e3604f"/>
<circle cx="193.2" cy="181.7" r="3.0" fill="#e3604f"/>
<circle cx="191.1" cy="185.8" r="3.0" fill="#e3604f"/>
<circle cx="210.2" cy="185.2" r="3.0" fill="#e3604f"/>
<circle cx="208.4" cy="186.4" r="3.0" fill="#e3604f"/>
<circle cx="207.9" cy="191.1" r="3.0" fill="#e3604f"/>
<circle cx="216.6" cy="192.9" r="3.0" fill="#e3604f"/>
<circle cx="203.2" cy="196.0" r="3.0" fill="#e3604f"/>
<circle cx="235.4" cy="170.9" r="3.0" fill="#e3604f"/>
<circle cx="230.1" cy="178.8" r="3.0" fill="#e3604f"/>
<circle cx="228.9" cy="183.8" r="3.0" fill="#e3604f"/>
<circle cx="233.0" cy="183.5" r="3.0" fill="#e3604f"/>
<circle cx="243.6" cy="179.4" r="3.0" fill="#e3604f"/>
<circle cx="229.3" cy="188.8" r="3.0" fill="#e3604f"/>
<circle cx="226.6" cy="201.4" r="3.0" fill="#e3604f"/>
<circle cx="214.3" cy="204.9" r="3.0" fill="#e3604f"/>
<circle cx="238.9" cy="212.8" r="3.0" fill="#e3604f"/>
<circle cx="209.0" cy="211.6" r="3.0" fill="#e3604f"/>
<circle cx="188.5" cy="214.5" r="3.0" fill="#e3604f"/>
<circle cx="211.4" cy="218.6" r="3.0" fill="#e3604f"/>
<circle cx="245.9" cy="178.8" r="3.0" fill="#e3604f"/>
<circle cx="248.8" cy="187.9" r="3.0" fill="#e3604f"/>
<circle cx="266.4" cy="196.3" r="3.0" fill="#e3604f"/>
<circle cx="255.5" cy="209.6" r="3.0" fill="#e3604f"/>
<circle cx="258.2" cy="223.5" r="3.0" fill="#e3604f"/>
<circle cx="255.2" cy="227.6" r="3.0" fill="#e3604f"/>
<circle cx="248.8" cy="231.1" r="3.0" fill="#e3604f"/>
<circle cx="251.1" cy="237.5" r="3.0" fill="#e3604f"/>
<circle cx="252.3" cy="251.6" r="3.0" fill="#e3604f"/>
<circle cx="209.0" cy="220.8" r="3.0" fill="#e3604f"/>
<circle cx="218.0" cy="225.3" r="3.0" fill="#e3604f"/>
<circle cx="218.6" cy="222.1" r="3.0" fill="#e3604f"/>
<circle cx="194.8" cy="229.8" r="3.0" fill="#e3604f"/>
<circle cx="197.8" cy="227.9" r="3.0" fill="#e3604f"/>
<circle cx="203.8" cy="234.0" r="3.0" fill="#e3604f"/>
<circle cx="200.6" cy="237.5" r="3.0" fill="#e3604f"/>
<circle cx="219.9" cy="233.7" r="3.0" fill="#e3604f"/>
<circle cx="217.3" cy="238.8" r="3.0" fill="#e3604f"/>
<circle cx="224.4" cy="240.1" r="3.0" fill="#e3604f"/>
<circle cx="221.2" cy="244.0" r="3.0" fill="#e3604f"/>
<circle cx="209.6" cy="240.7" r="3.0" fill="#e3604f"/>
<circle cx="207.0" cy="245.2" r="3.0" fill="#e3604f"/>
<circle cx="215.4" cy="245.9" r="3.0" fill="#e3604f"/>
<circle cx="232.8" cy="231.7" r="3.0" fill="#e3604f"/>
<circle cx="236.0" cy="234.3" r="3.0" fill="#e3604f"/>
<circle cx="210.9" cy="251.7" r="3.0" fill="#e3604f"/>
<circle cx="212.8" cy="254.9" r="3.0" fill="#e3604f"/>
<circle cx="208.3" cy="256.2" r="3.0" fill="#e3604f"/>
<circle cx="206.4" cy="258.8" r="3.0" fill="#e3604f"/>
<circle cx="214.1" cy="258.8" r="3.0" fill="#e3604f"/>
<circle cx="218.0" cy="258.8" r="3.0" fill="#e3604f"/>
<circle cx="201.9" cy="260.7" r="3.0" fill="#e3604f"/>
<circle cx="204.5" cy="261.3" r="3.0" fill="#e3604f"/>
<circle cx="213.5" cy="262.6" r="3.0" fill="#e3604f"/>
<circle cx="222.5" cy="262.0" r="3.0" fill="#e3604f"/>
<circle cx="200.6" cy="266.5" r="3.0" fill="#e3604f"/>
<circle cx="207.7" cy="267.8" r="3.0" fill="#e3604f"/>
<circle cx="183.9" cy="257.5" r="3.0" fill="#e3604f"/>
<circle cx="180.6" cy="267.8" r="3.0" fill="#e3604f"/>
<circle cx="156.0" cy="225.0" r="3.0" fill="#e3604f"/>
<circle cx="167.6" cy="231.2" r="3.0" fill="#e3604f"/>
<circle cx="171.5" cy="241.5" r="3.0" fill="#e3604f"/>
<circle cx="174.1" cy="248.8" r="3.0" fill="#e3604f"/>
<circle cx="138.0" cy="249.1" r="3.0" fill="#e3604f"/>
<circle cx="121.9" cy="263.6" r="3.0" fill="#e3604f"/>
<circle cx="172.8" cy="263.6" r="3.0" fill="#e3604f"/>
<circle cx="174.1" cy="276.2" r="3.0" fill="#e3604f"/>
<circle cx="40.2" cy="257.1" r="3.0" fill="#e3604f"/>
<circle cx="98.2" cy="254.1" r="3.0" fill="#e3604f"/>
<circle cx="98.6" cy="257.1" r="3.0" fill="#e3604f"/>
<circle cx="98.2" cy="260.3" r="3.0" fill="#e3604f"/>
<circle cx="114.5" cy="250.9" r="3.0" fill="#e3604f"/>
<circle cx="115.1" cy="253.3" r="3.0" fill="#e3604f"/>
<circle cx="44.5" cy="279.0" r="3.0" fill="#e3604f"/>
<circle cx="64.9" cy="285.0" r="3.0" fill="#e3604f"/>
<circle cx="106.3" cy="279.9" r="3.0" fill="#e3604f"/>
<circle cx="175.5" cy="309.7" r="3.0" fill="#e3604f"/>
<circle cx="143.4" cy="344.5" r="3.0" fill="#e3604f"/>
<circle cx="195.9" cy="344.9" r="3.0" fill="#e3604f"/>
<circle cx="202.5" cy="271.0" r="3.0" fill="#e3604f"/>
<circle cx="219.1" cy="280.4" r="3.0" fill="#e3604f"/>
<circle cx="208.1" cy="286.4" r="3.0" fill="#e3604f"/>
<circle cx="223.6" cy="293.7" r="3.0" fill="#e3604f"/>
<circle cx="223.9" cy="296.8" r="3.0" fill="#e3604f"/>
<circle cx="148.1" cy="352.5" r="3.0" fill="#e3604f"/>
<circle cx="207.3" cy="206.0" r="3.0" fill="#c8ccd0"/>
<circle cx="205.2" cy="212.0" r="3.0" fill="#c8ccd0"/>
<circle cx="248.2" cy="225.2" r="3.0" fill="#c8ccd0"/>
<circle cx="225.4" cy="210.4" r="3.0" fill="#cf9a88"/>
<circle cx="250.5" cy="208.0" r="3.0" fill="#cf9a88"/>
<circle cx="257.0" cy="207.5" r="3.0" fill="#cf9a88"/>
<circle cx="253.5" cy="225.0" r="3.0" fill="#cf9a88"/>
<circle cx="130.3" cy="252.7" r="3.0" fill="#857970"/>
<rect x="38.4" y="327.4" width="5.3" height="4.6" fill="#c8ccd0" stroke="#333" stroke-width="0.6"/>
<text transform="translate(49.60 332.30) scale(0.95 1)" font-size="8.8" text-anchor="start" fill="#000" stroke="#000" stroke-width="0.3">ANA grade</text>
<rect x="38.4" y="338.3" width="5.3" height="4.6" fill="#f5cdd1" stroke="#333" stroke-width="0.6"/>
<text transform="translate(49.60 343.16) scale(0.95 1)" font-size="8.8" text-anchor="start" fill="#000" stroke="#000" stroke-width="0.3">Magnoliids</text>
<rect x="38.4" y="349.1" width="5.3" height="4.6" fill="#e3604f" stroke="#333" stroke-width="0.6"/>
<text transform="translate(49.60 354.02) scale(0.95 1)" font-size="8.8" text-anchor="start" fill="#000" stroke="#000" stroke-width="0.3">Monocots</text>
<rect x="38.4" y="360.0" width="5.3" height="4.6" fill="#3b6389" stroke="#333" stroke-width="0.6"/>
<text transform="translate(49.60 364.88) scale(0.95 1)" font-size="8.8" text-anchor="start" fill="#000" stroke="#000" stroke-width="0.3">Eudicots</text>
<rect x="38.4" y="370.8" width="5.3" height="4.6" fill="#cf9a88" stroke="#333" stroke-width="0.6"/>
<text transform="translate(49.60 375.74) scale(0.95 1)" font-size="8.8" text-anchor="start" fill="#000" stroke="#000" stroke-width="0.3">Chloranthales</text>
<rect x="38.4" y="381.7" width="5.3" height="4.6" fill="#857970" stroke="#333" stroke-width="0.6"/>
<text transform="translate(49.60 386.60) scale(0.95 1)" font-size="8.8" text-anchor="start" fill="#000" stroke="#000" stroke-width="0.3">Ceratophyllales</text>
</g><text transform="translate(442.40 9.80) scale(0.95 1)" font-size="14.5" text-anchor="start" fill="#000" stroke="#000" stroke-width="0.3">b</text>
<rect x="483.5" y="17.4" width="84.89999999999998" height="78.19999999999999" fill="none" stroke="#3a3a3a" stroke-width="1"/>
<rect x="598" y="17.4" width="84.5" height="78.19999999999999" fill="none" stroke="#3a3a3a" stroke-width="1"/>
<rect x="483.5" y="110.9" width="84.89999999999998" height="78.4" fill="none" stroke="#3a3a3a" stroke-width="1"/>
<rect x="598" y="110.9" width="84.5" height="78.4" fill="none" stroke="#3a3a3a" stroke-width="1"/>
<line x1="481.7" y1="18.0" x2="483.5" y2="18.0" stroke="#222" stroke-width="1"/><text transform="translate(478.20 20.10) scale(0.95 1)" font-size="8.8" text-anchor="end" fill="#000" stroke="#000" stroke-width="0.3">0.04</text><line x1="481.7" y1="36.6" x2="483.5" y2="36.6" stroke="#222" stroke-width="1"/><text transform="translate(478.20 38.75) scale(0.95 1)" font-size="8.8" text-anchor="end" fill="#000" stroke="#000" stroke-width="0.3">0.03</text><line x1="481.7" y1="55.3" x2="483.5" y2="55.3" stroke="#222" stroke-width="1"/><text transform="translate(478.20 57.40) scale(0.95 1)" font-size="8.8" text-anchor="end" fill="#000" stroke="#000" stroke-width="0.3">0.02</text><line x1="481.7" y1="73.9" x2="483.5" y2="73.9" stroke="#222" stroke-width="1"/><text transform="translate(478.20 76.05) scale(0.95 1)" font-size="8.8" text-anchor="end" fill="#000" stroke="#000" stroke-width="0.3">0.01</text><line x1="481.7" y1="92.6" x2="483.5" y2="92.6" stroke="#222" stroke-width="1"/><text transform="translate(478.20 94.70) scale(0.95 1)" font-size="8.8" text-anchor="end" fill="#000" stroke="#000" stroke-width="0.3">0</text>
<line x1="596.2" y1="27.7" x2="598" y2="27.7" stroke="#222" stroke-width="1"/><text transform="translate(592.70 29.80) scale(0.95 1)" font-size="8.8" text-anchor="end" fill="#000" stroke="#000" stroke-width="0.3">0.04</text><line x1="596.2" y1="45.0" x2="598" y2="45.0" stroke="#222" stroke-width="1"/><text transform="translate(592.70 47.10) scale(0.95 1)" font-size="8.8" text-anchor="end" fill="#000" stroke="#000" stroke-width="0.3">0.03</text><line x1="596.2" y1="62.3" x2="598" y2="62.3" stroke="#222" stroke-width="1"/><text transform="translate(592.70 64.40) scale(0.95 1)" font-size="8.8" text-anchor="end" fill="#000" stroke="#000" stroke-width="0.3">0.02</text><line x1="596.2" y1="79.6" x2="598" y2="79.6" stroke="#222" stroke-width="1"/><text transform="translate(592.70 81.70) scale(0.95 1)" font-size="8.8" text-anchor="end" fill="#000" stroke="#000" stroke-width="0.3">0.01</text>
<line x1="481.7" y1="111.2" x2="483.5" y2="111.2" stroke="#222" stroke-width="1"/><text transform="translate(478.20 114.12) scale(0.95 1)" font-size="8.8" text-anchor="end" fill="#000" stroke="#000" stroke-width="0.3">0.06</text><line x1="481.7" y1="136.4" x2="483.5" y2="136.4" stroke="#222" stroke-width="1"/><text transform="translate(478.20 139.28) scale(0.95 1)" font-size="8.8" text-anchor="end" fill="#000" stroke="#000" stroke-width="0.3">0.04</text><line x1="481.7" y1="161.5" x2="483.5" y2="161.5" stroke="#222" stroke-width="1"/><text transform="translate(478.20 164.44) scale(0.95 1)" font-size="8.8" text-anchor="end" fill="#000" stroke="#000" stroke-width="0.3">0.02</text><line x1="481.7" y1="186.7" x2="483.5" y2="186.7" stroke="#222" stroke-width="1"/><text transform="translate(478.20 189.60) scale(0.95 1)" font-size="8.8" text-anchor="end" fill="#000" stroke="#000" stroke-width="0.3">0</text>
<line x1="596.2" y1="124.6" x2="598" y2="124.6" stroke="#222" stroke-width="1"/><text transform="translate(592.70 127.22) scale(0.95 1)" font-size="8.8" text-anchor="end" fill="#000" stroke="#000" stroke-width="0.3">0.06</text><line x1="596.2" y1="140.9" x2="598" y2="140.9" stroke="#222" stroke-width="1"/><text transform="translate(592.70 143.55) scale(0.95 1)" font-size="8.8" text-anchor="end" fill="#000" stroke="#000" stroke-width="0.3">0.05</text><line x1="596.2" y1="157.3" x2="598" y2="157.3" stroke="#222" stroke-width="1"/><text transform="translate(592.70 159.88) scale(0.95 1)" font-size="8.8" text-anchor="end" fill="#000" stroke="#000" stroke-width="0.3">0.04</text><line x1="596.2" y1="173.6" x2="598" y2="173.6" stroke="#222" stroke-width="1"/><text transform="translate(592.70 176.21) scale(0.95 1)" font-size="8.8" text-anchor="end" fill="#000" stroke="#000" stroke-width="0.3">0.03</text>
<text transform="translate(456.30 51.05) rotate(-90) scale(0.95 1)" font-size="8.8" text-anchor="middle" fill="#000" stroke="#000" stroke-width="0.3">NMDS</text>
<text transform="translate(456.50 145.60) rotate(-90) scale(0.95 1)" font-size="8.8" text-anchor="middle" fill="#000" stroke="#000" stroke-width="0.3">PCoA</text>
<line x1="488.2" y1="77.4" x2="500.8" y2="77.4" stroke="#333" stroke-width="1.5"/><line x1="491.0" y1="72.3" x2="498.0" y2="72.3" stroke="#2a2a2a" stroke-width="1.0"/><line x1="494.5" y1="70.2" x2="494.5" y2="74.4" stroke="#2a2a2a" stroke-width="1.0"/><line x1="491.0" y1="83.4" x2="498.0" y2="83.4" stroke="#2a2a2a" stroke-width="1.0"/><line x1="494.5" y1="81.3" x2="494.5" y2="85.5" stroke="#2a2a2a" stroke-width="1.0"/>
<rect x="503.9" y="87.8" width="12.6" height="4.3" fill="#978c85"/><line x1="503.9" y1="89.9" x2="516.5" y2="89.9" stroke="#4a403a" stroke-width="1.3"/><line x1="506.7" y1="87.6" x2="513.7" y2="87.6" stroke="#2a2a2a" stroke-width="1.0"/><line x1="510.2" y1="85.5" x2="510.2" y2="89.7" stroke="#2a2a2a" stroke-width="1.0"/><line x1="506.7" y1="92.4" x2="513.7" y2="92.4" stroke="#2a2a2a" stroke-width="1.0"/><line x1="510.2" y1="90.3" x2="510.2" y2="94.5" stroke="#2a2a2a" stroke-width="1.0"/>
<line x1="525.9" y1="26.6" x2="525.9" y2="45.0" stroke="#222" stroke-width="0.9" stroke-dasharray="2.2 1.8"/><line x1="525.9" y1="53.9" x2="525.9" y2="67.1" stroke="#222" stroke-width="0.9" stroke-dasharray="2.2 1.8"/><line x1="522.8" y1="67.1" x2="529.0" y2="67.1" stroke="#222" stroke-width="1"/><rect x="519.6" y="45.0" width="12.6" height="8.9" fill="#f2c9cd"/><line x1="519.6" y1="49.5" x2="532.2" y2="49.5" stroke="#3a3a3a" stroke-width="1.3"/><line x1="522.4" y1="31.1" x2="529.4" y2="31.1" stroke="#2a2a2a" stroke-width="1.0"/><line x1="525.9" y1="29.0" x2="525.9" y2="33.2" stroke="#2a2a2a" stroke-width="1.0"/>
<line x1="541.7" y1="20.1" x2="541.7" y2="33.7" stroke="#222" stroke-width="0.9" stroke-dasharray="2.2 1.8"/><line x1="541.7" y1="39.7" x2="541.7" y2="45.2" stroke="#222" stroke-width="0.9" stroke-dasharray="2.2 1.8"/><rect x="535.4" y="33.7" width="12.6" height="6.0" fill="#e0604f"/><line x1="535.4" y1="37.0" x2="548.0" y2="37.0" stroke="#7a2e24" stroke-width="1.8"/><line x1="538.2" y1="25.0" x2="545.2" y2="25.0" stroke="#2a2a2a" stroke-width="1.0"/><line x1="541.7" y1="22.9" x2="541.7" y2="27.1" stroke="#2a2a2a" stroke-width="1.0"/><line x1="538.2" y1="49.5" x2="545.2" y2="49.5" stroke="#2a2a2a" stroke-width="1.0"/><line x1="541.7" y1="47.4" x2="541.7" y2="51.6" stroke="#2a2a2a" stroke-width="1.0"/>
<rect x="551.1" y="59.0" width="12.6" height="1.9" fill="#2b4d6b"/><line x1="551.1" y1="60.0" x2="563.7" y2="60.0" stroke="#1d3550" stroke-width="1.0"/><line x1="553.9" y1="56.0" x2="560.9" y2="56.0" stroke="#2a2a2a" stroke-width="1.0"/><line x1="557.4" y1="53.9" x2="557.4" y2="58.1" stroke="#2a2a2a" stroke-width="1.0"/><line x1="553.9" y1="63.7" x2="560.9" y2="63.7" stroke="#2a2a2a" stroke-width="1.0"/><line x1="557.4" y1="61.6" x2="557.4" y2="65.8" stroke="#2a2a2a" stroke-width="1.0"/>
<line x1="605.5" y1="19.3" x2="605.5" y2="42.9" stroke="#222" stroke-width="0.9" stroke-dasharray="2.2 1.8"/><line x1="605.5" y1="53.0" x2="605.5" y2="67.5" stroke="#222" stroke-width="0.9" stroke-dasharray="2.2 1.8"/><line x1="603.5" y1="67.5" x2="607.5" y2="67.5" stroke="#222" stroke-width="1"/><line x1="605.5" y1="74.2" x2="605.5" y2="75.4" stroke="#333" stroke-width="0.9"/><rect x="601.8" y="42.9" width="7.4" height="10.1" fill="#e98a72"/><line x1="601.8" y1="48.2" x2="609.2" y2="48.2" stroke="#3a2a25" stroke-width="1.5"/><line x1="603.1" y1="28.4" x2="607.9" y2="28.4" stroke="#2a2a2a" stroke-width="0.9"/><line x1="605.5" y1="26.5" x2="605.5" y2="30.3" stroke="#2a2a2a" stroke-width="0.9"/>
<line x1="614.2" y1="31.7" x2="614.2" y2="47.7" stroke="#222" stroke-width="0.9" stroke-dasharray="2.2 1.8"/><line x1="614.2" y1="55.8" x2="614.2" y2="65.2" stroke="#222" stroke-width="0.9" stroke-dasharray="2.2 1.8"/><rect x="610.5" y="47.7" width="7.4" height="8.1" fill="#8ccbe0"/><line x1="610.5" y1="51.8" x2="617.9" y2="51.8" stroke="#2e6474" stroke-width="1.8"/><line x1="611.8" y1="36.3" x2="616.6" y2="36.3" stroke="#2a2a2a" stroke-width="0.9"/><line x1="614.2" y1="34.4" x2="614.2" y2="38.2" stroke="#2a2a2a" stroke-width="0.9"/><line x1="611.8" y1="65.2" x2="616.6" y2="65.2" stroke="#2a2a2a" stroke-width="0.9"/><line x1="614.2" y1="63.3" x2="614.2" y2="67.1" stroke="#2a2a2a" stroke-width="0.9"/>
<rect x="619.2" y="70.2" width="7.4" height="2.6" fill="#6ab49a"/><line x1="619.2" y1="71.5" x2="626.6" y2="71.5" stroke="#1e6048" stroke-width="1.1"/><line x1="620.5" y1="66.4" x2="625.3" y2="66.4" stroke="#2a2a2a" stroke-width="0.9"/><line x1="622.9" y1="64.5" x2="622.9" y2="68.3" stroke="#2a2a2a" stroke-width="0.9"/><line x1="620.5" y1="75.8" x2="625.3" y2="75.8" stroke="#2a2a2a" stroke-width="0.9"/><line x1="622.9" y1="73.9" x2="622.9" y2="77.7" stroke="#2a2a2a" stroke-width="0.9"/>
<line x1="631.6" y1="72.6" x2="631.6" y2="82.1" stroke="#222" stroke-width="0.9" stroke-dasharray="2.2 1.8"/><rect x="627.9" y="82.1" width="7.4" height="4.3" fill="#7880c0"/><line x1="627.9" y1="84.2" x2="635.3" y2="84.2" stroke="#2a2f55" stroke-width="1.0"/><line x1="629.2" y1="75.3" x2="634.0" y2="75.3" stroke="#2a2a2a" stroke-width="0.9"/><line x1="631.6" y1="73.4" x2="631.6" y2="77.2" stroke="#2a2a2a" stroke-width="0.9"/><line x1="629.2" y1="92.0" x2="634.0" y2="92.0" stroke="#2a2a2a" stroke-width="0.9"/><line x1="631.6" y1="90.1" x2="631.6" y2="93.9" stroke="#2a2a2a" stroke-width="0.9"/>
<line x1="640.3" y1="57.8" x2="640.3" y2="59.0" stroke="#333" stroke-width="0.9"/><rect x="636.6" y="65.6" width="7.4" height="1.6" fill="#ee9a80"/><line x1="636.6" y1="66.3" x2="644.0" y2="66.3" stroke="#b04a38" stroke-width="1.0"/><line x1="637.9" y1="60.8" x2="642.7" y2="60.8" stroke="#2a2a2a" stroke-width="0.9"/><line x1="640.3" y1="58.9" x2="640.3" y2="62.7" stroke="#2a2a2a" stroke-width="0.9"/><line x1="637.9" y1="71.3" x2="642.7" y2="71.3" stroke="#2a2a2a" stroke-width="0.9"/><line x1="640.3" y1="69.4" x2="640.3" y2="73.2" stroke="#2a2a2a" stroke-width="0.9"/>
<rect x="645.3" y="81.6" width="7.4" height="1.8" fill="#9ca4d0"/><line x1="645.3" y1="82.5" x2="652.7" y2="82.5" stroke="#2a3560" stroke-width="1.0"/><line x1="646.6" y1="78.8" x2="651.4" y2="78.8" stroke="#2a2a2a" stroke-width="0.9"/><line x1="649.0" y1="76.9" x2="649.0" y2="80.7" stroke="#2a2a2a" stroke-width="0.9"/><line x1="646.6" y1="86.1" x2="651.4" y2="86.1" stroke="#2a2a2a" stroke-width="0.9"/><line x1="649.0" y1="84.2" x2="649.0" y2="88.0" stroke="#2a2a2a" stroke-width="0.9"/>
<line x1="657.7" y1="33.0" x2="657.7" y2="46.2" stroke="#222" stroke-width="0.9" stroke-dasharray="2.2 1.8"/><line x1="657.7" y1="51.3" x2="657.7" y2="58.1" stroke="#222" stroke-width="0.9" stroke-dasharray="2.2 1.8"/><line x1="655.7" y1="58.1" x2="659.7" y2="58.1" stroke="#222" stroke-width="1"/><rect x="654.0" y="46.2" width="7.4" height="5.1" fill="#acdcd2"/><line x1="654.0" y1="49.0" x2="661.4" y2="49.0" stroke="#3c7a6a" stroke-width="1.1"/><line x1="655.3" y1="39.0" x2="660.1" y2="39.0" stroke="#2a2a2a" stroke-width="0.9"/><line x1="657.7" y1="37.1" x2="657.7" y2="40.9" stroke="#2a2a2a" stroke-width="0.9"/>
<rect x="662.7" y="80.3" width="7.4" height="1.9" fill="#e06848"/><line x1="662.7" y1="81.2" x2="670.1" y2="81.2" stroke="#6a2418" stroke-width="1.0"/><line x1="664.0" y1="76.5" x2="668.8" y2="76.5" stroke="#2a2a2a" stroke-width="0.9"/><line x1="666.4" y1="74.6" x2="666.4" y2="78.4" stroke="#2a2a2a" stroke-width="0.9"/><line x1="664.0" y1="84.6" x2="668.8" y2="84.6" stroke="#2a2a2a" stroke-width="0.9"/><line x1="666.4" y1="82.7" x2="666.4" y2="86.5" stroke="#2a2a2a" stroke-width="0.9"/>
<line x1="675.1" y1="41.5" x2="675.1" y2="61.3" stroke="#222" stroke-width="0.9" stroke-dasharray="2.2 1.8"/><line x1="675.1" y1="71.4" x2="675.1" y2="83.1" stroke="#222" stroke-width="0.9" stroke-dasharray="2.2 1.8"/><rect x="671.4" y="61.3" width="7.4" height="10.1" fill="#b09888"/><line x1="671.4" y1="66.5" x2="678.8" y2="66.5" stroke="#4a3a30" stroke-width="1.4"/><line x1="672.7" y1="48.7" x2="677.5" y2="48.7" stroke="#2a2a2a" stroke-width="0.9"/><line x1="675.1" y1="46.8" x2="675.1" y2="50.6" stroke="#2a2a2a" stroke-width="0.9"/><line x1="672.7" y1="83.1" x2="677.5" y2="83.1" stroke="#2a2a2a" stroke-width="0.9"/><line x1="675.1" y1="81.2" x2="675.1" y2="85.0" stroke="#2a2a2a" stroke-width="0.9"/>
<line x1="494.5" y1="135.0" x2="494.5" y2="145.5" stroke="#222" stroke-width="0.9" stroke-dasharray="2.2 1.8"/><line x1="494.5" y1="153.8" x2="494.5" y2="165.4" stroke="#222" stroke-width="0.9" stroke-dasharray="2.2 1.8"/><rect x="488.2" y="145.5" width="12.6" height="8.3" fill="#c8cdd2"/><line x1="488.2" y1="149.0" x2="500.8" y2="149.0" stroke="#444" stroke-width="1.3"/><line x1="491.0" y1="135.0" x2="498.0" y2="135.0" stroke="#2a2a2a" stroke-width="1.0"/><line x1="494.5" y1="132.9" x2="494.5" y2="137.1" stroke="#2a2a2a" stroke-width="1.0"/><line x1="491.0" y1="165.4" x2="498.0" y2="165.4" stroke="#2a2a2a" stroke-width="1.0"/><line x1="494.5" y1="163.3" x2="494.5" y2="167.5" stroke="#2a2a2a" stroke-width="1.0"/>
<line x1="510.2" y1="160.4" x2="510.2" y2="165.2" stroke="#222" stroke-width="0.9" stroke-dasharray="2.2 1.8"/><line x1="510.2" y1="173.8" x2="510.2" y2="186.6" stroke="#222" stroke-width="0.9" stroke-dasharray="2.2 1.8"/><line x1="507.1" y1="160.4" x2="513.4" y2="160.4" stroke="#222" stroke-width="1"/><line x1="507.1" y1="186.6" x2="513.4" y2="186.6" stroke="#222" stroke-width="1"/><rect x="503.9" y="165.2" width="12.6" height="8.6" fill="#8e827b"/><line x1="503.9" y1="170.2" x2="516.5" y2="170.2" stroke="#2f2a28" stroke-width="1.4"/>
<line x1="525.9" y1="129.7" x2="525.9" y2="137.2" stroke="#222" stroke-width="0.9" stroke-dasharray="2.2 1.8"/><line x1="525.9" y1="141.9" x2="525.9" y2="149.4" stroke="#222" stroke-width="0.9" stroke-dasharray="2.2 1.8"/><rect x="519.6" y="137.2" width="12.6" height="4.7" fill="#f2c9cd"/><line x1="519.6" y1="139.4" x2="532.2" y2="139.4" stroke="#444" stroke-width="1.3"/><line x1="522.4" y1="129.7" x2="529.4" y2="129.7" stroke="#2a2a2a" stroke-width="1.0"/><line x1="525.9" y1="127.6" x2="525.9" y2="131.8" stroke="#2a2a2a" stroke-width="1.0"/><line x1="522.4" y1="149.4" x2="529.4" y2="149.4" stroke="#2a2a2a" stroke-width="1.0"/><line x1="525.9" y1="147.3" x2="525.9" y2="151.5" stroke="#2a2a2a" stroke-width="1.0"/>
<rect x="535.4" y="120.6" width="12.6" height="3.2" fill="#e0604f"/><line x1="535.4" y1="122.2" x2="548.0" y2="122.2" stroke="#3a1a14" stroke-width="1.0"/><line x1="538.2" y1="115.6" x2="545.2" y2="115.6" stroke="#2a2a2a" stroke-width="1.0"/><line x1="541.7" y1="113.5" x2="541.7" y2="117.7" stroke="#2a2a2a" stroke-width="1.0"/><line x1="538.2" y1="129.0" x2="545.2" y2="129.0" stroke="#2a2a2a" stroke-width="1.0"/><line x1="541.7" y1="126.9" x2="541.7" y2="131.1" stroke="#2a2a2a" stroke-width="1.0"/>
<rect x="551.1" y="123.5" width="12.6" height="1.4" fill="#2b4d6b"/><line x1="551.1" y1="124.2" x2="563.7" y2="124.2" stroke="#1d3550" stroke-width="1.0"/><line x1="553.9" y1="121.4" x2="560.9" y2="121.4" stroke="#2a2a2a" stroke-width="1.0"/><line x1="557.4" y1="119.3" x2="557.4" y2="123.5" stroke="#2a2a2a" stroke-width="1.0"/><line x1="553.9" y1="127.2" x2="560.9" y2="127.2" stroke="#2a2a2a" stroke-width="1.0"/><line x1="557.4" y1="125.1" x2="557.4" y2="129.3" stroke="#2a2a2a" stroke-width="1.0"/>
<line x1="605.5" y1="140.9" x2="605.5" y2="150.9" stroke="#222" stroke-width="0.9" stroke-dasharray="2.2 1.8"/><line x1="605.5" y1="157.8" x2="605.5" y2="169.6" stroke="#222" stroke-width="0.9" stroke-dasharray="2.2 1.8"/><rect x="601.8" y="150.9" width="7.4" height="6.9" fill="#e98a72"/><line x1="601.8" y1="154.4" x2="609.2" y2="154.4" stroke="#3a2a25" stroke-width="1.4"/><line x1="603.1" y1="140.9" x2="607.9" y2="140.9" stroke="#2a2a2a" stroke-width="0.9"/><line x1="605.5" y1="139.0" x2="605.5" y2="142.8" stroke="#2a2a2a" stroke-width="0.9"/><line x1="603.1" y1="165.9" x2="607.9" y2="165.9" stroke="#2a2a2a" stroke-width="0.9"/><line x1="605.5" y1="164.0" x2="605.5" y2="167.8" stroke="#2a2a2a" stroke-width="0.9"/>
<line x1="614.2" y1="129.1" x2="614.2" y2="139.1" stroke="#222" stroke-width="0.9" stroke-dasharray="2.2 1.8"/><line x1="614.2" y1="144.7" x2="614.2" y2="152.8" stroke="#222" stroke-width="0.9" stroke-dasharray="2.2 1.8"/><rect x="610.5" y="139.1" width="7.4" height="5.6" fill="#8ccbe0"/><line x1="610.5" y1="141.9" x2="617.9" y2="141.9" stroke="#2a6070" stroke-width="1.6"/><line x1="611.8" y1="131.6" x2="616.6" y2="131.6" stroke="#2a2a2a" stroke-width="0.9"/><line x1="614.2" y1="129.7" x2="614.2" y2="133.5" stroke="#2a2a2a" stroke-width="0.9"/><line x1="611.8" y1="152.8" x2="616.6" y2="152.8" stroke="#2a2a2a" stroke-width="0.9"/><line x1="614.2" y1="150.9" x2="614.2" y2="154.7" stroke="#2a2a2a" stroke-width="0.9"/>
<rect x="619.2" y="149.9" width="7.4" height="3.2" fill="#6ab09a"/><line x1="619.2" y1="151.5" x2="626.6" y2="151.5" stroke="#1f5a48" stroke-width="1.3"/><line x1="620.5" y1="145.6" x2="625.3" y2="145.6" stroke="#2a2a2a" stroke-width="0.9"/><line x1="622.9" y1="143.7" x2="622.9" y2="147.5" stroke="#2a2a2a" stroke-width="0.9"/><line x1="620.5" y1="157.3" x2="625.3" y2="157.3" stroke="#2a2a2a" stroke-width="0.9"/><line x1="622.9" y1="155.4" x2="622.9" y2="159.2" stroke="#2a2a2a" stroke-width="0.9"/>
<line x1="631.6" y1="149.4" x2="631.6" y2="165.9" stroke="#222" stroke-width="0.9" stroke-dasharray="2.2 1.8"/><line x1="631.6" y1="174.7" x2="631.6" y2="185.9" stroke="#222" stroke-width="0.9" stroke-dasharray="2.2 1.8"/><line x1="629.6" y1="154.6" x2="633.6" y2="154.6" stroke="#222" stroke-width="1"/><line x1="629.6" y1="185.9" x2="633.6" y2="185.9" stroke="#222" stroke-width="1"/><rect x="627.9" y="165.9" width="7.4" height="8.8" fill="#7880b8"/><line x1="627.9" y1="170.4" x2="635.3" y2="170.4" stroke="#2a2f55" stroke-width="1.4"/>
<rect x="636.6" y="139.3" width="7.4" height="2.9" fill="#f2b4a0"/><line x1="636.6" y1="140.7" x2="644.0" y2="140.7" stroke="#d06048" stroke-width="1.0"/><line x1="637.9" y1="134.0" x2="642.7" y2="134.0" stroke="#2a2a2a" stroke-width="0.9"/><line x1="640.3" y1="132.1" x2="640.3" y2="135.9" stroke="#2a2a2a" stroke-width="0.9"/><line x1="637.9" y1="147.1" x2="642.7" y2="147.1" stroke="#2a2a2a" stroke-width="0.9"/><line x1="640.3" y1="145.2" x2="640.3" y2="149.0" stroke="#2a2a2a" stroke-width="0.9"/>
<rect x="645.3" y="167.0" width="7.4" height="3.2" fill="#a8b0d8"/><line x1="645.3" y1="168.6" x2="652.7" y2="168.6" stroke="#3a4070" stroke-width="0.9"/><line x1="646.6" y1="161.6" x2="651.4" y2="161.6" stroke="#2a2a2a" stroke-width="0.9"/><line x1="649.0" y1="159.7" x2="649.0" y2="163.5" stroke="#2a2a2a" stroke-width="0.9"/><line x1="646.6" y1="176.0" x2="651.4" y2="176.0" stroke="#2a2a2a" stroke-width="0.9"/><line x1="649.0" y1="174.1" x2="649.0" y2="177.9" stroke="#2a2a2a" stroke-width="0.9"/>
<line x1="657.7" y1="113.4" x2="657.7" y2="126.5" stroke="#222" stroke-width="0.9" stroke-dasharray="2.2 1.8"/><line x1="657.7" y1="130.3" x2="657.7" y2="137.8" stroke="#222" stroke-width="0.9" stroke-dasharray="2.2 1.8"/><rect x="654.0" y="126.5" width="7.4" height="3.8" fill="#a8dcd0"/><line x1="654.0" y1="128.4" x2="661.4" y2="128.4" stroke="#2a5a50" stroke-width="1.3"/><line x1="655.3" y1="117.9" x2="660.1" y2="117.9" stroke="#2a2a2a" stroke-width="0.9"/><line x1="657.7" y1="116.0" x2="657.7" y2="119.8" stroke="#2a2a2a" stroke-width="0.9"/><line x1="655.3" y1="137.8" x2="660.1" y2="137.8" stroke="#2a2a2a" stroke-width="0.9"/><line x1="657.7" y1="135.9" x2="657.7" y2="139.7" stroke="#2a2a2a" stroke-width="0.9"/>
<rect x="662.7" y="162.9" width="7.4" height="3.7" fill="#e06040"/><line x1="662.7" y1="164.7" x2="670.1" y2="164.7" stroke="#5a1a10" stroke-width="1.2"/><line x1="664.0" y1="155.0" x2="668.8" y2="155.0" stroke="#2a2a2a" stroke-width="0.9"/><line x1="666.4" y1="153.1" x2="666.4" y2="156.9" stroke="#2a2a2a" stroke-width="0.9"/><line x1="664.0" y1="171.9" x2="668.8" y2="171.9" stroke="#2a2a2a" stroke-width="0.9"/><line x1="666.4" y1="170.0" x2="666.4" y2="173.8" stroke="#2a2a2a" stroke-width="0.9"/>
<line x1="675.1" y1="123.1" x2="675.1" y2="147.5" stroke="#222" stroke-width="0.9" stroke-dasharray="2.2 1.8"/><line x1="675.1" y1="155.9" x2="675.1" y2="168.1" stroke="#222" stroke-width="0.9" stroke-dasharray="2.2 1.8"/><rect x="671.4" y="147.5" width="7.4" height="8.4" fill="#a89484"/><line x1="671.4" y1="151.6" x2="678.8" y2="151.6" stroke="#4a3a30" stroke-width="1.4"/><line x1="672.7" y1="134.4" x2="677.5" y2="134.4" stroke="#2a2a2a" stroke-width="0.9"/><line x1="675.1" y1="132.5" x2="675.1" y2="136.3" stroke="#2a2a2a" stroke-width="0.9"/><line x1="672.7" y1="168.1" x2="677.5" y2="168.1" stroke="#2a2a2a" stroke-width="0.9"/><line x1="675.1" y1="166.2" x2="675.1" y2="170.0" stroke="#2a2a2a" stroke-width="0.9"/>
<text transform="translate(496.50 202.40) rotate(-40) scale(0.95 1)" font-size="7.3" text-anchor="middle" fill="#000" stroke="#000" stroke-width="0.3">ANA</text>
<text transform="translate(512.20 202.40) rotate(-40) scale(0.95 1)" font-size="7.3" text-anchor="middle" fill="#000" stroke="#000" stroke-width="0.3">CHLO</text>
<text transform="translate(527.90 202.40) rotate(-40) scale(0.95 1)" font-size="7.3" text-anchor="middle" fill="#000" stroke="#000" stroke-width="0.3">MAG</text>
<text transform="translate(543.70 202.40) rotate(-40) scale(0.95 1)" font-size="7.3" text-anchor="middle" fill="#000" stroke="#000" stroke-width="0.3">MONO</text>
<text transform="translate(559.40 202.40) rotate(-40) scale(0.95 1)" font-size="7.3" text-anchor="middle" fill="#000" stroke="#000" stroke-width="0.3">EUD</text>
<text transform="translate(606.40 201.70) rotate(-40) scale(0.95 1)" font-size="7.3" text-anchor="middle" fill="#000" stroke="#000" stroke-width="0.3">OthM</text>
<text transform="translate(615.10 201.70) rotate(-40) scale(0.95 1)" font-size="7.3" text-anchor="middle" fill="#000" stroke="#000" stroke-width="0.3">COMM</text>
<text transform="translate(623.80 201.70) rotate(-40) scale(0.95 1)" font-size="7.3" text-anchor="middle" fill="#000" stroke="#000" stroke-width="0.3">OthE</text>
<text transform="translate(632.50 201.70) rotate(-40) scale(0.95 1)" font-size="7.3" text-anchor="middle" fill="#000" stroke="#000" stroke-width="0.3">OSR</text>
<text transform="translate(641.20 201.70) rotate(-40) scale(0.95 1)" font-size="7.3" text-anchor="middle" fill="#000" stroke="#000" stroke-width="0.3">FAB</text>
<text transform="translate(649.90 201.70) rotate(-40) scale(0.95 1)" font-size="7.3" text-anchor="middle" fill="#000" stroke="#000" stroke-width="0.3">MAV</text>
<text transform="translate(658.60 201.70) rotate(-40) scale(0.95 1)" font-size="7.3" text-anchor="middle" fill="#000" stroke="#000" stroke-width="0.3">OSA</text>
<text transform="translate(667.30 201.70) rotate(-40) scale(0.95 1)" font-size="7.3" text-anchor="middle" fill="#000" stroke="#000" stroke-width="0.3">CAM</text>
<text transform="translate(676.00 201.70) rotate(-40) scale(0.95 1)" font-size="7.3" text-anchor="middle" fill="#000" stroke="#000" stroke-width="0.3">LAM</text><text transform="translate(442.00 236.40) scale(0.95 1)" font-size="14.5" text-anchor="start" fill="#000" stroke="#000" stroke-width="0.3">c</text>
<defs><clipPath id="cc"><rect x="481" y="230" width="204" height="169.5"/></clipPath></defs>
<g clip-path="url(#cc)">
<polygon points="548,290 552,282 561,277 572,274 582,272 593,273.5 603,272 614,276 625,280.5 631,287 637,295 641.5,301.5 644,310 646,320 645,330 641,340 634,348 626,354 615,360 605,366 596,370 585,372 570,371 558,368 545,360 535,340 535,310 540,295" fill="#c9c9c9"/>
<g fill="none" stroke="#c4c4c4" stroke-width="0.7"><circle cx="600.4" cy="270.6" r="1.8"/><circle cx="608.6" cy="364.9" r="1.8"/><circle cx="597.9" cy="376.3" r="1.8"/><circle cx="646.0" cy="334.5" r="1.8"/><circle cx="599.8" cy="263.8" r="1.8"/><circle cx="572.0" cy="371.9" r="1.8"/><circle cx="617.9" cy="273.4" r="1.8"/><circle cx="546.6" cy="364.7" r="1.8"/><circle cx="551.7" cy="364.1" r="1.8"/><circle cx="587.9" cy="372.8" r="1.8"/><circle cx="589.2" cy="266.8" r="1.8"/><circle cx="565.2" cy="272.2" r="1.8"/><circle cx="536.5" cy="304.2" r="1.8"/><circle cx="628.7" cy="279.0" r="1.8"/><circle cx="545.8" cy="291.2" r="1.8"/><circle cx="648.4" cy="329.2" r="1.8"/><circle cx="641.7" cy="301.7" r="1.8"/><circle cx="539.1" cy="353.1" r="1.8"/><circle cx="547.1" cy="290.2" r="1.8"/><circle cx="551.0" cy="370.2" r="1.8"/><circle cx="645.5" cy="301.8" r="1.8"/><circle cx="608.0" cy="272.7" r="1.8"/><circle cx="644.8" cy="335.2" r="1.8"/><circle cx="644.4" cy="303.6" r="1.8"/><circle cx="584.6" cy="373.0" r="1.8"/><circle cx="628.7" cy="277.6" r="1.8"/><circle cx="593.1" cy="267.4" r="1.8"/><circle cx="532.3" cy="340.0" r="1.8"/><circle cx="537.5" cy="345.5" r="1.8"/><circle cx="626.9" cy="269.3" r="1.8"/><circle cx="618.3" cy="269.5" r="1.8"/><circle cx="611.3" cy="274.9" r="1.8"/><circle cx="590.5" cy="376.2" r="1.8"/><circle cx="622.8" cy="278.4" r="1.8"/><circle cx="534.2" cy="305.8" r="1.8"/><circle cx="628.1" cy="362.3" r="1.8"/><circle cx="575.7" cy="373.9" r="1.8"/><circle cx="629.7" cy="282.0" r="1.8"/><circle cx="655.6" cy="315.2" r="1.8"/><circle cx="621.6" cy="278.2" r="1.8"/><circle cx="546.2" cy="373.4" r="1.8"/><circle cx="638.2" cy="293.6" r="1.8"/><circle cx="650.3" cy="314.1" r="1.8"/><circle cx="613.1" cy="362.2" r="1.8"/><circle cx="630.7" cy="280.7" r="1.8"/><circle cx="625.9" cy="354.7" r="1.8"/><circle cx="539.0" cy="349.6" r="1.8"/><circle cx="545.6" cy="361.8" r="1.8"/><circle cx="617.1" cy="275.6" r="1.8"/><circle cx="613.7" cy="275.2" r="1.8"/><circle cx="633.9" cy="354.0" r="1.8"/><circle cx="610.6" cy="268.1" r="1.8"/><circle cx="606.0" cy="267.1" r="1.8"/><circle cx="646.1" cy="295.4" r="1.8"/><circle cx="535.5" cy="290.9" r="1.8"/><circle cx="540.7" cy="355.0" r="1.8"/><circle cx="610.3" cy="366.4" r="1.8"/><circle cx="650.2" cy="366.5" r="1.8"/><circle cx="648.2" cy="300.9" r="1.8"/><circle cx="560.7" cy="269.3" r="1.8"/><circle cx="544.2" cy="288.2" r="1.8"/><circle cx="546.3" cy="378.9" r="1.8"/><circle cx="637.0" cy="284.6" r="1.8"/><circle cx="623.9" cy="355.4" r="1.8"/><circle cx="592.8" cy="258.8" r="1.8"/><circle cx="557.8" cy="271.5" r="1.8"/><circle cx="646.6" cy="324.5" r="1.8"/><circle cx="542.9" cy="359.7" r="1.8"/><circle cx="632.7" cy="284.3" r="1.8"/><circle cx="626.0" cy="276.9" r="1.8"/><circle cx="572.1" cy="376.8" r="1.8"/><circle cx="592.7" cy="376.4" r="1.8"/><circle cx="582.6" cy="372.8" r="1.8"/><circle cx="584.9" cy="270.6" r="1.8"/><circle cx="566.3" cy="372.5" r="1.8"/><circle cx="639.7" cy="285.3" r="1.8"/><circle cx="580.6" cy="372.5" r="1.8"/><circle cx="562.2" cy="370.2" r="1.8"/><circle cx="610.0" cy="364.2" r="1.8"/><circle cx="639.9" cy="297.6" r="1.8"/><circle cx="655.3" cy="288.2" r="1.8"/><circle cx="596.3" cy="268.5" r="1.8"/><circle cx="603.0" cy="368.9" r="1.8"/><circle cx="573.6" cy="268.8" r="1.8"/><circle cx="529.7" cy="305.6" r="1.8"/><circle cx="625.6" cy="281.0" r="1.8"/><circle cx="632.3" cy="287.5" r="1.8"/><circle cx="557.9" cy="274.8" r="1.8"/><circle cx="568.2" cy="371.6" r="1.8"/><circle cx="624.9" cy="356.1" r="1.8"/><circle cx="544.5" cy="361.6" r="1.8"/><circle cx="563.1" cy="374.1" r="1.8"/><circle cx="636.1" cy="287.5" r="1.8"/><circle cx="544.1" cy="359.7" r="1.8"/><circle cx="608.5" cy="383.2" r="1.8"/><circle cx="526.8" cy="321.1" r="1.8"/><circle cx="622.4" cy="376.8" r="1.8"/><circle cx="618.4" cy="272.0" r="1.8"/><circle cx="618.3" cy="362.0" r="1.8"/><circle cx="652.8" cy="320.0" r="1.8"/><circle cx="646.7" cy="314.9" r="1.8"/><circle cx="537.5" cy="300.6" r="1.8"/><circle cx="658.2" cy="353.3" r="1.8"/><circle cx="526.8" cy="358.6" r="1.8"/><circle cx="644.7" cy="346.6" r="1.8"/><circle cx="587.1" cy="269.5" r="1.8"/><circle cx="599.4" cy="269.2" r="1.8"/><circle cx="543.4" cy="290.8" r="1.8"/><circle cx="615.5" cy="269.2" r="1.8"/><circle cx="539.4" cy="285.2" r="1.8"/><circle cx="555.0" cy="277.6" r="1.8"/><circle cx="550.7" cy="363.9" r="1.8"/><circle cx="645.8" cy="297.2" r="1.8"/><circle cx="606.8" cy="369.2" r="1.8"/><circle cx="623.8" cy="279.9" r="1.8"/><circle cx="628.6" cy="277.5" r="1.8"/><circle cx="540.7" cy="353.2" r="1.8"/><circle cx="536.8" cy="298.9" r="1.8"/><circle cx="550.3" cy="262.4" r="1.8"/><circle cx="562.6" cy="276.3" r="1.8"/><circle cx="566.4" cy="274.9" r="1.8"/><circle cx="645.9" cy="305.7" r="1.8"/><circle cx="575.9" cy="371.9" r="1.8"/><circle cx="592.9" cy="266.5" r="1.8"/><circle cx="593.9" cy="371.3" r="1.8"/><circle cx="586.5" cy="265.5" r="1.8"/><circle cx="571.4" cy="372.6" r="1.8"/><circle cx="533.4" cy="324.6" r="1.8"/><circle cx="532.4" cy="339.0" r="1.8"/><circle cx="562.3" cy="274.3" r="1.8"/><circle cx="603.4" cy="271.8" r="1.8"/><circle cx="649.0" cy="317.7" r="1.8"/><circle cx="528.9" cy="294.4" r="1.8"/><circle cx="618.9" cy="358.7" r="1.8"/><circle cx="640.4" cy="294.8" r="1.8"/><circle cx="605.6" cy="269.8" r="1.8"/><circle cx="642.9" cy="357.8" r="1.8"/><circle cx="556.8" cy="277.1" r="1.8"/><circle cx="644.6" cy="312.5" r="1.8"/><circle cx="577.0" cy="372.2" r="1.8"/><circle cx="538.1" cy="351.1" r="1.8"/><circle cx="533.7" cy="344.0" r="1.8"/><circle cx="625.6" cy="280.9" r="1.8"/><circle cx="552.8" cy="365.1" r="1.8"/><circle cx="595.6" cy="374.5" r="1.8"/><circle cx="611.7" cy="274.8" r="1.8"/><circle cx="645.5" cy="333.4" r="1.8"/><circle cx="621.2" cy="278.0" r="1.8"/><circle cx="629.3" cy="366.3" r="1.8"/><circle cx="611.3" cy="368.6" r="1.8"/><circle cx="630.6" cy="281.0" r="1.8"/><circle cx="576.9" cy="373.6" r="1.8"/><circle cx="528.1" cy="299.0" r="1.8"/><circle cx="645.6" cy="342.5" r="1.8"/><circle cx="583.8" cy="268.5" r="1.8"/><circle cx="619.0" cy="277.8" r="1.8"/><circle cx="555.2" cy="275.5" r="1.8"/><circle cx="638.2" cy="289.8" r="1.8"/><circle cx="619.0" cy="360.9" r="1.8"/><circle cx="603.5" cy="373.7" r="1.8"/><circle cx="582.4" cy="379.5" r="1.8"/><circle cx="648.1" cy="314.0" r="1.8"/><circle cx="577.9" cy="372.9" r="1.8"/><circle cx="597.9" cy="383.4" r="1.8"/><circle cx="573.4" cy="268.0" r="1.8"/><circle cx="649.3" cy="309.5" r="1.8"/><circle cx="595.0" cy="375.0" r="1.8"/><circle cx="566.1" cy="372.1" r="1.8"/><circle cx="533.4" cy="298.6" r="1.8"/><circle cx="541.8" cy="292.3" r="1.8"/><circle cx="603.6" cy="265.3" r="1.8"/><circle cx="647.1" cy="311.4" r="1.8"/><circle cx="646.5" cy="310.0" r="1.8"/><circle cx="535.1" cy="358.1" r="1.8"/><circle cx="633.5" cy="285.9" r="1.8"/><circle cx="533.5" cy="303.0" r="1.8"/><circle cx="614.1" cy="275.9" r="1.8"/><circle cx="639.3" cy="287.4" r="1.8"/><circle cx="553.6" cy="375.9" r="1.8"/><circle cx="610.4" cy="372.8" r="1.8"/><circle cx="578.2" cy="377.2" r="1.8"/><circle cx="645.8" cy="315.6" r="1.8"/><circle cx="642.5" cy="337.8" r="1.8"/><circle cx="618.7" cy="367.7" r="1.8"/><circle cx="631.1" cy="283.3" r="1.8"/><circle cx="643.6" cy="306.7" r="1.8"/><circle cx="645.4" cy="311.1" r="1.8"/><circle cx="618.6" cy="268.1" r="1.8"/><circle cx="533.1" cy="315.7" r="1.8"/><circle cx="632.9" cy="355.4" r="1.8"/><circle cx="536.7" cy="304.2" r="1.8"/><circle cx="613.3" cy="364.7" r="1.8"/><circle cx="648.0" cy="314.4" r="1.8"/><circle cx="521.9" cy="308.4" r="1.8"/><circle cx="605.9" cy="269.8" r="1.8"/><circle cx="640.8" cy="295.0" r="1.8"/><circle cx="552.8" cy="369.5" r="1.8"/><circle cx="537.0" cy="293.3" r="1.8"/><circle cx="641.6" cy="300.1" r="1.8"/><circle cx="610.0" cy="367.4" r="1.8"/><circle cx="564.0" cy="276.0" r="1.8"/><circle cx="646.6" cy="327.0" r="1.8"/><circle cx="646.4" cy="337.2" r="1.8"/><circle cx="623.2" cy="361.5" r="1.8"/><circle cx="628.9" cy="352.2" r="1.8"/><circle cx="554.1" cy="280.1" r="1.8"/><circle cx="599.9" cy="383.4" r="1.8"/><circle cx="648.7" cy="325.3" r="1.8"/><circle cx="569.5" cy="274.5" r="1.8"/><circle cx="550.8" cy="275.3" r="1.8"/><circle cx="650.6" cy="330.3" r="1.8"/><circle cx="612.7" cy="261.6" r="1.8"/><circle cx="638.7" cy="358.5" r="1.8"/><circle cx="636.2" cy="367.5" r="1.8"/><circle cx="604.5" cy="366.3" r="1.8"/><circle cx="644.3" cy="336.9" r="1.8"/><circle cx="531.4" cy="285.3" r="1.8"/><circle cx="548.6" cy="376.2" r="1.8"/><circle cx="535.9" cy="285.7" r="1.8"/><circle cx="556.0" cy="368.0" r="1.8"/><circle cx="571.4" cy="270.9" r="1.8"/><circle cx="639.5" cy="343.5" r="1.8"/><circle cx="629.4" cy="354.6" r="1.8"/><circle cx="544.5" cy="360.9" r="1.8"/><circle cx="636.4" cy="288.0" r="1.8"/><circle cx="562.7" cy="374.1" r="1.8"/><circle cx="651.3" cy="331.7" r="1.8"/><circle cx="625.6" cy="279.2" r="1.8"/><circle cx="649.3" cy="327.7" r="1.8"/><circle cx="556.6" cy="271.7" r="1.8"/><circle cx="646.9" cy="312.5" r="1.8"/><circle cx="555.1" cy="368.2" r="1.8"/><circle cx="562.7" cy="369.3" r="1.8"/><circle cx="588.7" cy="373.0" r="1.8"/><circle cx="618.1" cy="360.6" r="1.8"/><circle cx="531.3" cy="317.0" r="1.8"/><circle cx="615.3" cy="259.6" r="1.8"/><circle cx="568.3" cy="274.9" r="1.8"/><circle cx="556.5" cy="276.0" r="1.8"/><circle cx="547.8" cy="285.1" r="1.8"/><circle cx="538.6" cy="297.3" r="1.8"/><circle cx="569.6" cy="272.0" r="1.8"/><circle cx="573.5" cy="272.2" r="1.8"/><circle cx="640.8" cy="295.3" r="1.8"/><circle cx="601.4" cy="370.6" r="1.8"/><circle cx="650.7" cy="316.5" r="1.8"/><circle cx="645.4" cy="329.7" r="1.8"/><circle cx="539.0" cy="286.9" r="1.8"/><circle cx="637.3" cy="350.3" r="1.8"/><circle cx="582.5" cy="375.2" r="1.8"/><circle cx="579.3" cy="269.6" r="1.8"/><circle cx="560.4" cy="368.8" r="1.8"/><circle cx="593.4" cy="272.5" r="1.8"/><circle cx="642.7" cy="284.6" r="1.8"/><circle cx="595.9" cy="272.4" r="1.8"/><circle cx="645.7" cy="326.5" r="1.8"/><circle cx="631.9" cy="356.0" r="1.8"/><circle cx="617.7" cy="275.2" r="1.8"/><circle cx="645.2" cy="332.1" r="1.8"/><circle cx="606.4" cy="263.0" r="1.8"/><circle cx="589.0" cy="271.5" r="1.8"/><circle cx="538.2" cy="356.2" r="1.8"/><circle cx="534.5" cy="302.8" r="1.8"/><circle cx="575.0" cy="265.4" r="1.8"/><circle cx="548.9" cy="365.3" r="1.8"/><circle cx="630.9" cy="279.9" r="1.8"/><circle cx="622.6" cy="274.2" r="1.8"/><circle cx="649.6" cy="300.6" r="1.8"/><circle cx="570.0" cy="373.4" r="1.8"/><circle cx="550.2" cy="279.7" r="1.8"/><circle cx="610.1" cy="370.1" r="1.8"/><circle cx="634.1" cy="350.5" r="1.8"/><circle cx="646.1" cy="321.8" r="1.8"/><circle cx="649.7" cy="332.8" r="1.8"/><circle cx="571.2" cy="379.5" r="1.8"/><circle cx="643.0" cy="304.1" r="1.8"/><circle cx="645.3" cy="332.2" r="1.8"/><circle cx="626.4" cy="359.8" r="1.8"/><circle cx="558.3" cy="272.2" r="1.8"/><circle cx="628.7" cy="283.9" r="1.8"/><circle cx="544.9" cy="361.3" r="1.8"/><circle cx="600.2" cy="271.5" r="1.8"/><circle cx="566.5" cy="372.6" r="1.8"/><circle cx="542.9" cy="359.9" r="1.8"/><circle cx="564.9" cy="372.4" r="1.8"/><circle cx="540.2" cy="350.4" r="1.8"/><circle cx="600.6" cy="268.8" r="1.8"/><circle cx="625.2" cy="278.0" r="1.8"/><circle cx="633.9" cy="350.3" r="1.8"/><circle cx="608.7" cy="273.2" r="1.8"/><circle cx="574.2" cy="273.1" r="1.8"/><circle cx="612.0" cy="372.4" r="1.8"/><circle cx="605.2" cy="270.3" r="1.8"/><circle cx="638.6" cy="343.1" r="1.8"/><circle cx="553.7" cy="366.5" r="1.8"/><circle cx="642.4" cy="302.6" r="1.8"/><circle cx="671.3" cy="291.5" r="1.8"/><circle cx="566.9" cy="373.8" r="1.8"/><circle cx="648.1" cy="315.2" r="1.8"/><circle cx="638.4" cy="343.8" r="1.8"/><circle cx="626.0" cy="275.3" r="1.8"/><circle cx="623.1" cy="360.0" r="1.8"/><circle cx="602.5" cy="270.3" r="1.8"/><circle cx="648.9" cy="314.5" r="1.8"/><circle cx="633.3" cy="352.5" r="1.8"/><circle cx="573.8" cy="273.5" r="1.8"/><circle cx="540.4" cy="379.6" r="1.8"/><circle cx="595.7" cy="378.9" r="1.8"/><circle cx="549.3" cy="284.6" r="1.8"/><circle cx="655.1" cy="317.7" r="1.8"/><circle cx="640.3" cy="341.7" r="1.8"/><circle cx="566.1" cy="374.0" r="1.8"/><circle cx="625.1" cy="357.5" r="1.8"/><circle cx="558.6" cy="276.9" r="1.8"/><circle cx="643.2" cy="336.3" r="1.8"/><circle cx="605.7" cy="270.0" r="1.8"/><circle cx="643.2" cy="288.1" r="1.8"/><circle cx="582.2" cy="376.6" r="1.8"/><circle cx="562.7" cy="275.2" r="1.8"/><circle cx="637.5" cy="288.2" r="1.8"/><circle cx="552.7" cy="365.4" r="1.8"/><circle cx="547.1" cy="370.4" r="1.8"/><circle cx="534.9" cy="316.4" r="1.8"/><circle cx="565.2" cy="269.2" r="1.8"/><circle cx="561.3" cy="275.6" r="1.8"/><circle cx="599.9" cy="271.3" r="1.8"/><circle cx="607.5" cy="272.4" r="1.8"/><circle cx="573.7" cy="376.3" r="1.8"/><circle cx="580.6" cy="376.1" r="1.8"/><circle cx="646.2" cy="324.5" r="1.8"/><circle cx="628.2" cy="281.0" r="1.8"/><circle cx="639.7" cy="347.5" r="1.8"/><circle cx="570.0" cy="269.1" r="1.8"/><circle cx="645.8" cy="315.0" r="1.8"/><circle cx="619.7" cy="357.4" r="1.8"/><circle cx="600.5" cy="272.0" r="1.8"/><circle cx="602.8" cy="271.5" r="1.8"/><circle cx="580.5" cy="271.1" r="1.8"/><circle cx="529.3" cy="320.9" r="1.8"/><circle cx="624.3" cy="356.3" r="1.8"/><circle cx="657.7" cy="328.3" r="1.8"/><circle cx="596.4" cy="372.0" r="1.8"/><circle cx="532.9" cy="329.4" r="1.8"/><circle cx="529.0" cy="295.9" r="1.8"/><circle cx="534.3" cy="366.3" r="1.8"/><circle cx="655.2" cy="310.5" r="1.8"/><circle cx="651.0" cy="325.4" r="1.8"/><circle cx="536.0" cy="292.8" r="1.8"/><circle cx="525.9" cy="312.6" r="1.8"/><circle cx="553.6" cy="277.7" r="1.8"/><circle cx="615.9" cy="359.6" r="1.8"/><circle cx="560.5" cy="267.2" r="1.8"/><circle cx="590.2" cy="270.7" r="1.8"/><circle cx="624.5" cy="355.3" r="1.8"/><circle cx="597.3" cy="266.7" r="1.8"/><circle cx="541.0" cy="355.5" r="1.8"/><circle cx="612.8" cy="275.1" r="1.8"/><circle cx="638.4" cy="347.1" r="1.8"/><circle cx="595.2" cy="374.7" r="1.8"/><circle cx="605.0" cy="267.1" r="1.8"/><circle cx="632.6" cy="354.7" r="1.8"/><circle cx="649.9" cy="341.1" r="1.8"/><circle cx="536.4" cy="293.8" r="1.8"/><circle cx="643.2" cy="335.8" r="1.8"/><circle cx="566.0" cy="373.9" r="1.8"/><circle cx="556.9" cy="276.9" r="1.8"/><circle cx="546.1" cy="282.3" r="1.8"/><circle cx="558.8" cy="370.9" r="1.8"/><circle cx="575.8" cy="373.9" r="1.8"/><circle cx="646.4" cy="301.8" r="1.8"/><circle cx="612.2" cy="372.3" r="1.8"/><circle cx="641.7" cy="294.8" r="1.8"/><circle cx="607.6" cy="269.8" r="1.8"/><circle cx="647.6" cy="318.4" r="1.8"/><circle cx="640.6" cy="343.4" r="1.8"/><circle cx="540.1" cy="351.0" r="1.8"/><circle cx="559.8" cy="376.9" r="1.8"/><circle cx="538.0" cy="297.8" r="1.8"/><circle cx="651.2" cy="347.9" r="1.8"/><circle cx="637.4" cy="351.6" r="1.8"/><circle cx="583.4" cy="372.4" r="1.8"/><circle cx="597.1" cy="269.1" r="1.8"/><circle cx="601.9" cy="373.2" r="1.8"/><circle cx="579.0" cy="272.6" r="1.8"/><circle cx="600.0" cy="371.5" r="1.8"/><circle cx="551.3" cy="369.6" r="1.8"/><circle cx="562.1" cy="276.6" r="1.8"/><circle cx="574.0" cy="374.8" r="1.8"/><circle cx="533.6" cy="306.6" r="1.8"/><circle cx="523.6" cy="293.1" r="1.8"/><circle cx="672.7" cy="346.8" r="1.8"/><circle cx="570.1" cy="371.4" r="1.8"/><circle cx="614.0" cy="363.3" r="1.8"/><circle cx="550.6" cy="365.3" r="1.8"/><circle cx="558.2" cy="372.5" r="1.8"/><circle cx="625.3" cy="268.5" r="1.8"/><circle cx="612.2" cy="274.9" r="1.8"/><circle cx="566.0" cy="273.7" r="1.8"/><circle cx="589.3" cy="376.3" r="1.8"/><circle cx="594.2" cy="372.2" r="1.8"/><circle cx="575.2" cy="270.5" r="1.8"/><circle cx="546.1" cy="361.3" r="1.8"/><circle cx="566.3" cy="255.4" r="1.8"/><circle cx="548.7" cy="286.9" r="1.8"/><circle cx="655.5" cy="341.1" r="1.8"/><circle cx="550.0" cy="373.4" r="1.8"/><circle cx="637.1" cy="290.4" r="1.8"/><circle cx="606.4" cy="270.5" r="1.8"/><circle cx="601.7" cy="267.5" r="1.8"/><circle cx="540.2" cy="354.9" r="1.8"/><circle cx="631.8" cy="349.7" r="1.8"/><circle cx="546.0" cy="361.2" r="1.8"/><circle cx="620.9" cy="368.4" r="1.8"/><circle cx="597.7" cy="377.3" r="1.8"/><circle cx="630.3" cy="282.6" r="1.8"/><circle cx="547.5" cy="289.9" r="1.8"/><circle cx="648.2" cy="328.6" r="1.8"/><circle cx="638.0" cy="344.9" r="1.8"/><circle cx="641.5" cy="294.3" r="1.8"/><circle cx="601.4" cy="269.0" r="1.8"/><circle cx="616.8" cy="273.6" r="1.8"/><circle cx="531.2" cy="317.3" r="1.8"/><circle cx="598.1" cy="371.5" r="1.8"/><circle cx="532.4" cy="339.6" r="1.8"/><circle cx="648.7" cy="322.9" r="1.8"/><circle cx="644.5" cy="306.5" r="1.8"/><circle cx="637.0" cy="280.7" r="1.8"/><circle cx="554.8" cy="368.4" r="1.8"/><circle cx="635.4" cy="292.3" r="1.8"/><circle cx="551.4" cy="282.6" r="1.8"/><circle cx="610.5" cy="272.3" r="1.8"/><circle cx="646.5" cy="333.9" r="1.8"/><circle cx="647.1" cy="324.7" r="1.8"/><circle cx="529.6" cy="293.0" r="1.8"/><circle cx="587.2" cy="372.3" r="1.8"/><circle cx="545.3" cy="290.3" r="1.8"/><circle cx="556.4" cy="278.6" r="1.8"/><circle cx="625.1" cy="276.2" r="1.8"/><circle cx="578.8" cy="272.4" r="1.8"/><circle cx="629.1" cy="279.2" r="1.8"/><circle cx="614.1" cy="271.4" r="1.8"/><circle cx="603.4" cy="368.7" r="1.8"/><circle cx="596.9" cy="376.1" r="1.8"/><circle cx="647.2" cy="332.0" r="1.8"/><circle cx="647.8" cy="299.2" r="1.8"/><circle cx="552.6" cy="280.6" r="1.8"/><circle cx="633.9" cy="286.3" r="1.8"/><circle cx="591.2" cy="271.6" r="1.8"/><circle cx="646.9" cy="320.1" r="1.8"/><circle cx="533.1" cy="340.4" r="1.8"/><circle cx="536.4" cy="348.5" r="1.8"/><circle cx="627.3" cy="354.5" r="1.8"/><circle cx="559.7" cy="277.5" r="1.8"/><circle cx="643.4" cy="344.4" r="1.8"/><circle cx="615.6" cy="379.0" r="1.8"/><circle cx="608.9" cy="269.4" r="1.8"/><circle cx="548.2" cy="286.1" r="1.8"/><circle cx="629.1" cy="281.7" r="1.8"/><circle cx="610.9" cy="274.9" r="1.8"/><circle cx="614.5" cy="275.7" r="1.8"/><circle cx="633.4" cy="287.5" r="1.8"/><circle cx="607.8" cy="269.2" r="1.8"/><circle cx="590.9" cy="373.4" r="1.8"/><circle cx="535.0" cy="355.8" r="1.8"/><circle cx="577.6" cy="271.1" r="1.8"/><circle cx="569.0" cy="273.5" r="1.8"/><circle cx="530.4" cy="356.3" r="1.8"/><circle cx="567.0" cy="267.3" r="1.8"/><circle cx="550.7" cy="281.9" r="1.8"/><circle cx="561.5" cy="372.2" r="1.8"/><circle cx="557.9" cy="368.4" r="1.8"/><circle cx="532.8" cy="339.6" r="1.8"/><circle cx="626.2" cy="269.8" r="1.8"/><circle cx="575.7" cy="271.3" r="1.8"/><circle cx="547.5" cy="285.4" r="1.8"/><circle cx="571.6" cy="272.8" r="1.8"/><circle cx="631.1" cy="353.6" r="1.8"/><circle cx="577.5" cy="263.9" r="1.8"/><circle cx="595.5" cy="370.8" r="1.8"/><circle cx="620.6" cy="360.4" r="1.8"/><circle cx="550.7" cy="272.3" r="1.8"/><circle cx="537.4" cy="295.4" r="1.8"/><circle cx="641.8" cy="350.7" r="1.8"/><circle cx="656.2" cy="305.8" r="1.8"/><circle cx="652.3" cy="332.3" r="1.8"/><circle cx="534.0" cy="325.4" r="1.8"/><circle cx="572.3" cy="371.4" r="1.8"/><circle cx="559.0" cy="370.4" r="1.8"/><circle cx="589.5" cy="264.8" r="1.8"/><circle cx="530.8" cy="300.5" r="1.8"/><circle cx="618.8" cy="362.7" r="1.8"/><circle cx="638.9" cy="295.5" r="1.8"/><circle cx="654.7" cy="292.5" r="1.8"/><circle cx="568.4" cy="371.1" r="1.8"/><circle cx="652.9" cy="310.2" r="1.8"/><circle cx="563.5" cy="381.3" r="1.8"/><circle cx="589.3" cy="373.3" r="1.8"/><circle cx="588.9" cy="373.5" r="1.8"/><circle cx="628.2" cy="281.1" r="1.8"/><circle cx="556.9" cy="368.4" r="1.8"/><circle cx="628.2" cy="281.4" r="1.8"/><circle cx="618.8" cy="276.8" r="1.8"/><circle cx="580.6" cy="269.6" r="1.8"/><circle cx="638.0" cy="351.1" r="1.8"/><circle cx="616.9" cy="273.8" r="1.8"/><circle cx="651.6" cy="321.4" r="1.8"/><circle cx="618.4" cy="359.2" r="1.8"/><circle cx="576.0" cy="376.8" r="1.8"/><circle cx="634.2" cy="264.6" r="1.8"/><circle cx="628.7" cy="353.6" r="1.8"/><circle cx="624.4" cy="356.1" r="1.8"/><circle cx="548.4" cy="283.5" r="1.8"/><circle cx="604.0" cy="271.3" r="1.8"/><circle cx="534.6" cy="337.6" r="1.8"/><circle cx="632.7" cy="286.7" r="1.8"/><circle cx="602.4" cy="271.2" r="1.8"/><circle cx="547.1" cy="362.3" r="1.8"/><circle cx="545.4" cy="290.8" r="1.8"/><circle cx="549.4" cy="368.2" r="1.8"/><circle cx="650.9" cy="330.9" r="1.8"/><circle cx="534.6" cy="323.5" r="1.8"/><circle cx="546.4" cy="280.2" r="1.8"/><circle cx="648.8" cy="296.1" r="1.8"/><circle cx="548.4" cy="364.6" r="1.8"/><circle cx="552.6" cy="371.8" r="1.8"/><circle cx="563.8" cy="265.3" r="1.8"/><circle cx="603.9" cy="271.3" r="1.8"/><circle cx="631.3" cy="350.1" r="1.8"/><circle cx="583.2" cy="374.8" r="1.8"/><circle cx="623.4" cy="377.3" r="1.8"/><circle cx="625.5" cy="358.3" r="1.8"/><circle cx="647.4" cy="321.6" r="1.8"/><circle cx="545.6" cy="366.2" r="1.8"/><circle cx="531.7" cy="335.6" r="1.8"/><circle cx="617.5" cy="268.0" r="1.8"/><circle cx="548.6" cy="284.0" r="1.8"/><circle cx="652.5" cy="334.2" r="1.8"/><circle cx="613.1" cy="271.6" r="1.8"/><circle cx="637.2" cy="344.5" r="1.8"/><circle cx="614.9" cy="276.3" r="1.8"/><circle cx="595.4" cy="268.6" r="1.8"/><circle cx="577.8" cy="372.2" r="1.8"/><circle cx="546.3" cy="361.5" r="1.8"/><circle cx="646.0" cy="350.8" r="1.8"/><circle cx="536.4" cy="346.9" r="1.8"/><circle cx="598.7" cy="267.9" r="1.8"/><circle cx="583.3" cy="257.8" r="1.8"/><circle cx="564.2" cy="371.3" r="1.8"/><circle cx="599.6" cy="271.4" r="1.8"/><circle cx="605.8" cy="266.0" r="1.8"/><circle cx="605.2" cy="265.6" r="1.8"/><circle cx="629.8" cy="284.6" r="1.8"/><circle cx="539.3" cy="294.7" r="1.8"/><circle cx="634.1" cy="352.0" r="1.8"/><circle cx="596.6" cy="372.6" r="1.8"/><circle cx="633.3" cy="363.0" r="1.8"/><circle cx="558.2" cy="271.6" r="1.8"/><circle cx="532.7" cy="341.2" r="1.8"/><circle cx="535.2" cy="341.6" r="1.8"/><circle cx="610.2" cy="376.6" r="1.8"/><circle cx="591.8" cy="267.6" r="1.8"/><circle cx="618.8" cy="275.3" r="1.8"/><circle cx="543.1" cy="291.1" r="1.8"/><circle cx="612.4" cy="269.4" r="1.8"/><circle cx="575.6" cy="375.3" r="1.8"/><circle cx="538.0" cy="299.8" r="1.8"/><circle cx="596.1" cy="370.6" r="1.8"/><circle cx="591.8" cy="270.8" r="1.8"/><circle cx="647.0" cy="317.1" r="1.8"/><circle cx="542.5" cy="269.1" r="1.8"/><circle cx="579.4" cy="372.7" r="1.8"/><circle cx="646.3" cy="316.3" r="1.8"/><circle cx="591.1" cy="371.9" r="1.8"/><circle cx="532.9" cy="285.8" r="1.8"/><circle cx="575.9" cy="271.2" r="1.8"/><circle cx="646.2" cy="311.2" r="1.8"/><circle cx="646.2" cy="316.8" r="1.8"/><circle cx="620.0" cy="360.8" r="1.8"/><circle cx="590.2" cy="259.3" r="1.8"/><circle cx="591.6" cy="263.0" r="1.8"/><circle cx="618.3" cy="361.5" r="1.8"/><circle cx="614.2" cy="369.0" r="1.8"/><circle cx="533.7" cy="341.7" r="1.8"/><circle cx="555.4" cy="366.5" r="1.8"/><circle cx="628.4" cy="276.7" r="1.8"/><circle cx="625.9" cy="278.0" r="1.8"/><circle cx="650.6" cy="315.2" r="1.8"/><circle cx="527.3" cy="309.5" r="1.8"/><circle cx="540.2" cy="353.2" r="1.8"/><circle cx="610.6" cy="271.0" r="1.8"/><circle cx="550.0" cy="268.2" r="1.8"/><circle cx="577.4" cy="270.5" r="1.8"/><circle cx="556.5" cy="374.0" r="1.8"/><circle cx="621.2" cy="273.6" r="1.8"/><circle cx="551.9" cy="376.4" r="1.8"/><circle cx="549.3" cy="272.8" r="1.8"/><circle cx="635.0" cy="292.3" r="1.8"/><circle cx="610.7" cy="363.0" r="1.8"/><circle cx="645.1" cy="331.6" r="1.8"/><circle cx="606.9" cy="271.0" r="1.8"/><circle cx="516.4" cy="338.2" r="1.8"/><circle cx="586.5" cy="374.8" r="1.8"/><circle cx="544.0" cy="371.4" r="1.8"/><circle cx="560.7" cy="267.3" r="1.8"/><circle cx="624.4" cy="362.3" r="1.8"/><circle cx="549.4" cy="286.3" r="1.8"/><circle cx="588.9" cy="272.4" r="1.8"/><circle cx="532.8" cy="320.8" r="1.8"/><circle cx="538.8" cy="349.6" r="1.8"/><circle cx="626.4" cy="360.9" r="1.8"/><circle cx="531.2" cy="347.9" r="1.8"/><circle cx="549.4" cy="373.5" r="1.8"/><circle cx="606.4" cy="270.9" r="1.8"/><circle cx="613.5" cy="362.9" r="1.8"/><circle cx="565.5" cy="266.1" r="1.8"/><circle cx="623.5" cy="279.0" r="1.8"/><circle cx="603.9" cy="269.4" r="1.8"/><circle cx="559.1" cy="370.7" r="1.8"/><circle cx="617.3" cy="363.2" r="1.8"/><circle cx="603.2" cy="269.7" r="1.8"/><circle cx="646.1" cy="319.0" r="1.8"/><circle cx="560.4" cy="277.3" r="1.8"/><circle cx="533.5" cy="300.5" r="1.8"/><circle cx="572.4" cy="269.1" r="1.8"/><circle cx="652.8" cy="318.8" r="1.8"/><circle cx="554.7" cy="368.3" r="1.8"/><circle cx="573.3" cy="268.9" r="1.8"/><circle cx="527.1" cy="320.2" r="1.8"/><circle cx="605.9" cy="252.1" r="1.8"/><circle cx="625.7" cy="278.6" r="1.8"/><circle cx="649.3" cy="323.0" r="1.8"/><circle cx="564.9" cy="379.6" r="1.8"/><circle cx="546.4" cy="362.8" r="1.8"/><circle cx="538.8" cy="362.1" r="1.8"/><circle cx="571.9" cy="273.3" r="1.8"/><circle cx="575.8" cy="375.5" r="1.8"/><circle cx="637.6" cy="277.5" r="1.8"/><circle cx="533.2" cy="309.2" r="1.8"/><circle cx="590.0" cy="373.7" r="1.8"/><circle cx="545.4" cy="286.9" r="1.8"/><circle cx="580.3" cy="374.0" r="1.8"/><circle cx="641.1" cy="299.3" r="1.8"/><circle cx="532.6" cy="314.5" r="1.8"/><circle cx="597.6" cy="378.2" r="1.8"/><circle cx="549.8" cy="284.4" r="1.8"/><circle cx="617.2" cy="361.1" r="1.8"/><circle cx="647.7" cy="312.2" r="1.8"/><circle cx="550.7" cy="270.8" r="1.8"/><circle cx="645.3" cy="327.6" r="1.8"/><circle cx="644.5" cy="305.7" r="1.8"/><circle cx="557.9" cy="374.5" r="1.8"/><circle cx="644.5" cy="333.0" r="1.8"/><circle cx="610.1" cy="271.3" r="1.8"/><circle cx="534.7" cy="328.1" r="1.8"/><circle cx="629.4" cy="351.7" r="1.8"/><circle cx="649.1" cy="308.0" r="1.8"/><circle cx="642.4" cy="342.5" r="1.8"/><circle cx="598.5" cy="272.2" r="1.8"/><circle cx="625.7" cy="280.6" r="1.8"/><circle cx="650.6" cy="334.4" r="1.8"/><circle cx="612.9" cy="368.5" r="1.8"/><circle cx="581.8" cy="372.3" r="1.8"/><circle cx="607.5" cy="366.2" r="1.8"/><circle cx="643.2" cy="298.6" r="1.8"/><circle cx="609.7" cy="274.1" r="1.8"/><circle cx="535.4" cy="347.3" r="1.8"/><circle cx="650.5" cy="333.2" r="1.8"/><circle cx="588.6" cy="379.0" r="1.8"/><circle cx="579.6" cy="272.1" r="1.8"/><circle cx="624.5" cy="277.2" r="1.8"/><circle cx="536.7" cy="345.1" r="1.8"/><circle cx="580.3" cy="379.6" r="1.8"/><circle cx="608.3" cy="273.9" r="1.8"/><circle cx="647.9" cy="295.4" r="1.8"/><circle cx="550.2" cy="367.8" r="1.8"/><circle cx="596.4" cy="268.4" r="1.8"/><circle cx="635.3" cy="284.6" r="1.8"/><circle cx="571.2" cy="259.8" r="1.8"/><circle cx="603.2" cy="369.0" r="1.8"/><circle cx="541.2" cy="276.2" r="1.8"/><circle cx="616.2" cy="273.5" r="1.8"/><circle cx="548.3" cy="285.1" r="1.8"/><circle cx="620.6" cy="275.0" r="1.8"/><circle cx="564.2" cy="371.0" r="1.8"/><circle cx="549.7" cy="370.6" r="1.8"/><circle cx="614.0" cy="361.9" r="1.8"/><circle cx="573.5" cy="268.2" r="1.8"/><circle cx="543.8" cy="278.4" r="1.8"/><circle cx="646.2" cy="318.2" r="1.8"/><circle cx="582.8" cy="372.5" r="1.8"/><circle cx="529.2" cy="315.8" r="1.8"/><circle cx="624.3" cy="271.5" r="1.8"/><circle cx="602.1" cy="268.3" r="1.8"/><circle cx="547.9" cy="283.1" r="1.8"/><circle cx="642.4" cy="298.6" r="1.8"/><circle cx="615.7" cy="275.9" r="1.8"/><circle cx="532.9" cy="340.9" r="1.8"/><circle cx="624.4" cy="270.1" r="1.8"/><circle cx="627.3" cy="358.2" r="1.8"/><circle cx="590.4" cy="268.4" r="1.8"/><circle cx="636.7" cy="345.5" r="1.8"/><circle cx="647.8" cy="311.9" r="1.8"/><circle cx="640.9" cy="295.5" r="1.8"/><circle cx="638.8" cy="296.4" r="1.8"/><circle cx="644.0" cy="334.7" r="1.8"/><circle cx="560.2" cy="276.2" r="1.8"/><circle cx="639.6" cy="297.2" r="1.8"/><circle cx="650.8" cy="318.4" r="1.8"/><circle cx="534.1" cy="314.0" r="1.8"/><circle cx="545.2" cy="289.7" r="1.8"/><circle cx="548.2" cy="362.5" r="1.8"/><circle cx="577.2" cy="379.4" r="1.8"/><circle cx="635.7" cy="348.7" r="1.8"/><circle cx="635.1" cy="287.6" r="1.8"/><circle cx="584.1" cy="376.2" r="1.8"/><circle cx="546.3" cy="290.3" r="1.8"/><circle cx="624.3" cy="357.3" r="1.8"/><circle cx="618.3" cy="359.5" r="1.8"/><circle cx="627.0" cy="353.8" r="1.8"/><circle cx="590.3" cy="378.4" r="1.8"/><circle cx="628.4" cy="276.7" r="1.8"/><circle cx="647.0" cy="325.1" r="1.8"/><circle cx="637.4" cy="349.4" r="1.8"/><circle cx="639.5" cy="291.7" r="1.8"/><circle cx="546.8" cy="290.1" r="1.8"/><circle cx="573.5" cy="371.3" r="1.8"/><circle cx="620.5" cy="358.5" r="1.8"/><circle cx="543.6" cy="291.3" r="1.8"/><circle cx="655.5" cy="339.6" r="1.8"/><circle cx="638.8" cy="296.1" r="1.8"/><circle cx="567.7" cy="272.1" r="1.8"/><circle cx="602.1" cy="374.6" r="1.8"/><circle cx="637.6" cy="353.0" r="1.8"/><circle cx="617.3" cy="377.8" r="1.8"/><circle cx="563.1" cy="276.0" r="1.8"/><circle cx="580.9" cy="377.0" r="1.8"/><circle cx="547.4" cy="286.8" r="1.8"/><circle cx="606.9" cy="371.6" r="1.8"/><circle cx="586.1" cy="372.1" r="1.8"/><circle cx="568.2" cy="370.8" r="1.8"/><circle cx="660.9" cy="339.8" r="1.8"/><circle cx="638.1" cy="290.9" r="1.8"/><circle cx="634.7" cy="283.4" r="1.8"/><circle cx="582.7" cy="379.7" r="1.8"/><circle cx="631.2" cy="354.1" r="1.8"/><circle cx="598.8" cy="372.4" r="1.8"/><circle cx="581.6" cy="270.0" r="1.8"/><circle cx="578.6" cy="271.5" r="1.8"/><circle cx="613.7" cy="362.0" r="1.8"/><circle cx="645.7" cy="332.7" r="1.8"/><circle cx="640.5" cy="360.0" r="1.8"/><circle cx="590.9" cy="270.5" r="1.8"/><circle cx="543.9" cy="270.6" r="1.8"/><circle cx="620.9" cy="269.6" r="1.8"/><circle cx="535.6" cy="351.4" r="1.8"/><circle cx="572.7" cy="262.8" r="1.8"/><circle cx="649.8" cy="312.5" r="1.8"/><circle cx="642.7" cy="298.5" r="1.8"/><circle cx="643.2" cy="350.9" r="1.8"/><circle cx="608.5" cy="369.2" r="1.8"/><circle cx="637.6" cy="349.2" r="1.8"/><circle cx="580.9" cy="267.0" r="1.8"/><circle cx="646.0" cy="313.6" r="1.8"/><circle cx="592.5" cy="273.2" r="1.8"/><circle cx="590.2" cy="380.6" r="1.8"/><circle cx="586.3" cy="271.9" r="1.8"/><circle cx="615.3" cy="362.7" r="1.8"/><circle cx="645.8" cy="315.1" r="1.8"/><circle cx="616.9" cy="359.4" r="1.8"/><circle cx="641.4" cy="348.3" r="1.8"/><circle cx="631.6" cy="356.1" r="1.8"/><circle cx="588.7" cy="270.3" r="1.8"/><circle cx="600.2" cy="270.2" r="1.8"/><circle cx="533.6" cy="303.2" r="1.8"/><circle cx="526.2" cy="348.3" r="1.8"/><circle cx="582.2" cy="269.8" r="1.8"/><circle cx="621.4" cy="361.6" r="1.8"/><circle cx="606.7" cy="369.2" r="1.8"/><circle cx="653.4" cy="309.8" r="1.8"/><circle cx="538.4" cy="298.3" r="1.8"/><circle cx="626.8" cy="272.2" r="1.8"/><circle cx="560.7" cy="274.1" r="1.8"/><circle cx="652.4" cy="308.3" r="1.8"/><circle cx="581.9" cy="271.0" r="1.8"/><circle cx="610.7" cy="271.6" r="1.8"/><circle cx="641.6" cy="296.1" r="1.8"/><circle cx="578.6" cy="272.3" r="1.8"/><circle cx="590.0" cy="372.1" r="1.8"/><circle cx="646.6" cy="325.6" r="1.8"/><circle cx="638.9" cy="349.0" r="1.8"/><circle cx="555.9" cy="368.9" r="1.8"/><circle cx="534.3" cy="295.6" r="1.8"/><circle cx="573.5" cy="376.0" r="1.8"/><circle cx="570.6" cy="272.3" r="1.8"/><circle cx="643.9" cy="336.2" r="1.8"/><circle cx="649.8" cy="324.8" r="1.8"/><circle cx="538.2" cy="295.7" r="1.8"/><circle cx="620.5" cy="274.8" r="1.8"/><circle cx="622.9" cy="279.0" r="1.8"/><circle cx="627.1" cy="278.7" r="1.8"/><circle cx="611.1" cy="271.8" r="1.8"/><circle cx="653.5" cy="289.0" r="1.8"/><circle cx="508.0" cy="366.4" r="1.8"/><circle cx="666.2" cy="366.5" r="1.8"/><circle cx="645.4" cy="307.4" r="1.8"/><circle cx="634.7" cy="270.8" r="1.8"/><circle cx="628.4" cy="263.2" r="1.8"/><circle cx="532.6" cy="335.3" r="1.8"/><circle cx="646.2" cy="354.6" r="1.8"/><circle cx="576.4" cy="373.2" r="1.8"/><circle cx="651.4" cy="328.7" r="1.8"/><circle cx="590.2" cy="259.8" r="1.8"/><circle cx="624.3" cy="364.0" r="1.8"/><circle cx="633.8" cy="277.2" r="1.8"/><circle cx="662.4" cy="289.1" r="1.8"/><circle cx="651.5" cy="322.2" r="1.8"/><circle cx="643.1" cy="299.1" r="1.8"/><circle cx="595.3" cy="374.7" r="1.8"/><circle cx="641.4" cy="299.4" r="1.8"/><circle cx="540.3" cy="352.9" r="1.8"/><circle cx="646.5" cy="330.7" r="1.8"/><circle cx="655.3" cy="341.9" r="1.8"/><circle cx="633.6" cy="386.8" r="1.8"/><circle cx="594.8" cy="255.8" r="1.8"/><circle cx="636.9" cy="284.0" r="1.8"/><circle cx="668.1" cy="324.7" r="1.8"/><circle cx="648.8" cy="340.6" r="1.8"/><circle cx="625.0" cy="371.4" r="1.8"/><circle cx="649.1" cy="320.8" r="1.8"/><circle cx="524.9" cy="286.6" r="1.8"/><circle cx="654.2" cy="329.3" r="1.8"/><circle cx="529.1" cy="274.9" r="1.8"/><circle cx="549.5" cy="273.5" r="1.8"/><circle cx="608.7" cy="270.8" r="1.8"/><circle cx="657.5" cy="315.7" r="1.8"/><circle cx="568.8" cy="381.6" r="1.8"/><circle cx="561.3" cy="386.5" r="1.8"/><circle cx="624.2" cy="372.0" r="1.8"/><circle cx="650.9" cy="307.0" r="1.8"/><circle cx="630.4" cy="286.1" r="1.8"/><circle cx="617.9" cy="361.9" r="1.8"/><circle cx="535.1" cy="279.3" r="1.8"/><circle cx="655.8" cy="345.1" r="1.8"/><circle cx="636.6" cy="269.4" r="1.8"/><circle cx="576.7" cy="380.7" r="1.8"/><circle cx="567.7" cy="252.0" r="1.8"/><circle cx="664.1" cy="319.2" r="1.8"/><circle cx="646.2" cy="309.4" r="1.8"/><circle cx="604.8" cy="367.2" r="1.8"/><circle cx="663.8" cy="348.4" r="1.8"/><circle cx="617.6" cy="253.0" r="1.8"/><circle cx="619.0" cy="276.3" r="1.8"/><circle cx="518.4" cy="322.5" r="1.8"/><circle cx="542.1" cy="371.4" r="1.8"/><circle cx="589.7" cy="372.0" r="1.8"/><circle cx="628.7" cy="273.7" r="1.8"/><circle cx="623.3" cy="377.8" r="1.8"/><circle cx="651.0" cy="296.2" r="1.8"/><circle cx="648.2" cy="365.5" r="1.8"/><circle cx="542.3" cy="286.3" r="1.8"/><circle cx="625.7" cy="364.7" r="1.8"/><circle cx="615.2" cy="382.1" r="1.8"/><circle cx="649.7" cy="340.9" r="1.8"/><circle cx="650.3" cy="290.7" r="1.8"/><circle cx="635.6" cy="354.1" r="1.8"/><circle cx="649.1" cy="309.1" r="1.8"/><circle cx="637.9" cy="368.8" r="1.8"/><circle cx="668.0" cy="357.7" r="1.8"/><circle cx="541.2" cy="373.0" r="1.8"/><circle cx="660.6" cy="295.5" r="1.8"/><circle cx="571.3" cy="271.2" r="1.8"/><circle cx="647.6" cy="319.7" r="1.8"/><circle cx="647.1" cy="324.6" r="1.8"/><circle cx="563.6" cy="268.5" r="1.8"/><circle cx="600.3" cy="377.9" r="1.8"/><circle cx="643.1" cy="365.8" r="1.8"/><circle cx="593.6" cy="266.2" r="1.8"/><circle cx="592.8" cy="245.2" r="1.8"/><circle cx="641.7" cy="290.8" r="1.8"/><circle cx="646.5" cy="289.6" r="1.8"/><circle cx="560.5" cy="264.7" r="1.8"/><circle cx="534.6" cy="266.9" r="1.8"/><circle cx="637.0" cy="357.1" r="1.8"/><circle cx="654.8" cy="326.9" r="1.8"/><circle cx="619.4" cy="389.6" r="1.8"/><circle cx="604.5" cy="372.8" r="1.8"/><circle cx="626.5" cy="373.0" r="1.8"/><circle cx="635.5" cy="253.8" r="1.8"/><circle cx="593.7" cy="255.4" r="1.8"/><circle cx="631.9" cy="357.5" r="1.8"/><circle cx="590.7" cy="264.3" r="1.8"/><circle cx="649.0" cy="359.5" r="1.8"/><circle cx="549.6" cy="282.4" r="1.8"/><circle cx="623.7" cy="356.7" r="1.8"/><circle cx="643.4" cy="275.1" r="1.8"/><circle cx="639.5" cy="341.8" r="1.8"/><circle cx="653.9" cy="311.5" r="1.8"/><circle cx="639.6" cy="292.2" r="1.8"/><circle cx="657.1" cy="345.6" r="1.8"/><circle cx="649.1" cy="332.1" r="1.8"/><circle cx="602.0" cy="271.3" r="1.8"/><circle cx="571.4" cy="272.6" r="1.8"/><circle cx="663.8" cy="300.8" r="1.8"/><circle cx="629.7" cy="362.3" r="1.8"/><circle cx="635.1" cy="279.3" r="1.8"/><circle cx="622.0" cy="270.1" r="1.8"/><circle cx="557.5" cy="371.9" r="1.8"/><circle cx="624.8" cy="355.8" r="1.8"/><circle cx="591.7" cy="373.5" r="1.8"/><circle cx="647.1" cy="311.9" r="1.8"/><circle cx="586.3" cy="252.6" r="1.8"/><circle cx="572.4" cy="392.5" r="1.8"/><circle cx="657.9" cy="362.3" r="1.8"/><circle cx="634.8" cy="365.0" r="1.8"/><circle cx="594.8" cy="272.1" r="1.8"/><circle cx="606.9" cy="261.2" r="1.8"/><circle cx="547.9" cy="275.1" r="1.8"/><circle cx="552.1" cy="267.5" r="1.8"/><circle cx="662.3" cy="329.4" r="1.8"/><circle cx="649.4" cy="323.1" r="1.8"/><circle cx="611.2" cy="374.2" r="1.8"/><circle cx="631.4" cy="354.4" r="1.8"/><circle cx="648.8" cy="325.1" r="1.8"/><circle cx="659.5" cy="340.4" r="1.8"/><circle cx="605.5" cy="249.3" r="1.8"/><circle cx="650.0" cy="324.1" r="1.8"/><circle cx="645.9" cy="358.2" r="1.8"/><circle cx="636.9" cy="293.8" r="1.8"/><circle cx="669.2" cy="338.3" r="1.8"/><circle cx="614.7" cy="370.4" r="1.8"/><circle cx="635.1" cy="283.0" r="1.8"/><circle cx="556.3" cy="256.4" r="1.8"/><circle cx="634.5" cy="351.0" r="1.8"/><circle cx="658.0" cy="299.3" r="1.8"/><circle cx="651.2" cy="303.0" r="1.8"/><circle cx="585.1" cy="245.7" r="1.8"/><circle cx="581.0" cy="258.9" r="1.8"/><circle cx="672.0" cy="304.7" r="1.8"/><circle cx="643.8" cy="303.8" r="1.8"/><circle cx="648.7" cy="327.8" r="1.8"/><circle cx="617.3" cy="255.8" r="1.8"/><circle cx="629.2" cy="268.1" r="1.8"/><circle cx="583.1" cy="380.8" r="1.8"/><circle cx="644.4" cy="363.0" r="1.8"/><circle cx="653.0" cy="340.8" r="1.8"/><circle cx="600.8" cy="372.8" r="1.8"/><circle cx="531.2" cy="286.9" r="1.8"/><circle cx="631.9" cy="353.6" r="1.8"/><circle cx="550.3" cy="281.4" r="1.8"/><circle cx="620.3" cy="358.5" r="1.8"/><circle cx="597.5" cy="371.8" r="1.8"/><circle cx="606.4" cy="368.0" r="1.8"/><circle cx="626.9" cy="271.8" r="1.8"/><circle cx="643.9" cy="276.9" r="1.8"/><circle cx="578.4" cy="267.3" r="1.8"/><circle cx="606.9" cy="376.4" r="1.8"/><circle cx="626.3" cy="258.5" r="1.8"/><circle cx="577.9" cy="267.5" r="1.8"/><circle cx="654.9" cy="361.5" r="1.8"/><circle cx="653.8" cy="317.3" r="1.8"/><circle cx="580.2" cy="377.2" r="1.8"/><circle cx="562.1" cy="377.7" r="1.8"/><circle cx="651.0" cy="284.3" r="1.8"/><circle cx="668.3" cy="315.7" r="1.8"/><circle cx="586.1" cy="271.2" r="1.8"/><circle cx="529.9" cy="312.3" r="1.8"/><circle cx="653.4" cy="357.4" r="1.8"/><circle cx="650.1" cy="374.3" r="1.8"/><circle cx="641.5" cy="295.9" r="1.8"/><circle cx="630.7" cy="350.9" r="1.8"/><circle cx="503.7" cy="302.1" r="1.8"/><circle cx="585.2" cy="373.6" r="1.8"/><circle cx="551.5" cy="281.0" r="1.8"/><circle cx="627.7" cy="279.3" r="1.8"/><circle cx="638.0" cy="290.7" r="1.8"/><circle cx="595.9" cy="372.8" r="1.8"/><circle cx="587.8" cy="258.7" r="1.8"/><circle cx="669.7" cy="349.7" r="1.8"/><circle cx="630.1" cy="257.6" r="1.8"/><circle cx="535.2" cy="365.2" r="1.8"/><circle cx="651.9" cy="295.3" r="1.8"/><circle cx="568.5" cy="261.2" r="1.8"/><circle cx="543.0" cy="286.8" r="1.8"/><circle cx="663.1" cy="305.9" r="1.8"/><circle cx="594.5" cy="383.4" r="1.8"/><circle cx="651.7" cy="342.5" r="1.8"/><circle cx="547.1" cy="366.7" r="1.8"/><circle cx="605.8" cy="246.9" r="1.8"/><circle cx="609.3" cy="374.5" r="1.8"/><circle cx="650.1" cy="266.4" r="1.8"/><circle cx="647.8" cy="295.8" r="1.8"/><circle cx="641.1" cy="360.3" r="1.8"/><circle cx="645.0" cy="314.3" r="1.8"/><circle cx="573.1" cy="381.4" r="1.8"/><circle cx="609.5" cy="382.9" r="1.8"/><circle cx="596.8" cy="375.1" r="1.8"/><circle cx="613.4" cy="372.9" r="1.8"/><circle cx="577.3" cy="271.8" r="1.8"/><circle cx="639.6" cy="371.1" r="1.8"/><circle cx="529.5" cy="309.8" r="1.8"/><circle cx="662.7" cy="361.5" r="1.8"/><circle cx="664.3" cy="314.8" r="1.8"/><circle cx="646.3" cy="336.7" r="1.8"/><circle cx="608.0" cy="262.4" r="1.8"/><circle cx="550.3" cy="264.8" r="1.8"/><circle cx="621.4" cy="357.4" r="1.8"/><circle cx="636.3" cy="355.8" r="1.8"/><circle cx="666.6" cy="327.8" r="1.8"/><circle cx="652.1" cy="347.7" r="1.8"/><circle cx="623.5" cy="277.6" r="1.8"/><circle cx="651.9" cy="294.2" r="1.8"/><circle cx="559.9" cy="374.7" r="1.8"/><circle cx="628.9" cy="279.8" r="1.8"/><circle cx="630.2" cy="261.1" r="1.8"/><circle cx="614.2" cy="366.4" r="1.8"/><circle cx="537.1" cy="301.5" r="1.8"/><circle cx="653.4" cy="337.3" r="1.8"/><circle cx="653.1" cy="337.9" r="1.8"/><circle cx="554.9" cy="267.6" r="1.8"/><circle cx="558.1" cy="275.1" r="1.8"/><circle cx="668.3" cy="285.5" r="1.8"/><circle cx="537.1" cy="377.0" r="1.8"/><circle cx="643.4" cy="294.7" r="1.8"/><circle cx="670.8" cy="345.2" r="1.8"/><circle cx="622.5" cy="276.7" r="1.8"/><circle cx="588.7" cy="382.4" r="1.8"/><circle cx="665.1" cy="322.5" r="1.8"/><circle cx="664.8" cy="361.2" r="1.8"/><circle cx="600.9" cy="382.7" r="1.8"/><circle cx="565.3" cy="395.9" r="1.8"/><circle cx="630.4" cy="381.2" r="1.8"/><circle cx="659.8" cy="352.0" r="1.8"/><circle cx="654.8" cy="326.5" r="1.8"/><circle cx="611.6" cy="257.0" r="1.8"/><circle cx="654.8" cy="274.0" r="1.8"/><circle cx="655.5" cy="309.2" r="1.8"/><circle cx="635.0" cy="276.6" r="1.8"/><circle cx="598.7" cy="369.8" r="1.8"/><circle cx="528.5" cy="325.4" r="1.8"/><circle cx="643.8" cy="353.1" r="1.8"/><circle cx="657.2" cy="350.8" r="1.8"/><circle cx="652.3" cy="368.9" r="1.8"/><circle cx="662.2" cy="293.5" r="1.8"/><circle cx="610.1" cy="368.1" r="1.8"/><circle cx="615.5" cy="391.2" r="1.8"/><circle cx="656.3" cy="330.2" r="1.8"/><circle cx="588.4" cy="261.2" r="1.8"/><circle cx="648.0" cy="338.7" r="1.8"/><circle cx="591.3" cy="371.1" r="1.8"/><circle cx="662.1" cy="318.2" r="1.8"/><circle cx="517.0" cy="321.0" r="1.8"/><circle cx="657.0" cy="321.9" r="1.8"/><circle cx="604.5" cy="268.4" r="1.8"/><circle cx="521.3" cy="301.5" r="1.8"/><circle cx="636.0" cy="289.5" r="1.8"/><circle cx="657.8" cy="322.0" r="1.8"/><circle cx="657.6" cy="352.7" r="1.8"/><circle cx="651.3" cy="332.5" r="1.8"/><circle cx="664.3" cy="304.2" r="1.8"/><circle cx="635.1" cy="283.5" r="1.8"/><circle cx="612.6" cy="275.4" r="1.8"/><circle cx="539.1" cy="358.9" r="1.8"/><circle cx="586.3" cy="390.4" r="1.8"/><circle cx="559.6" cy="258.0" r="1.8"/><circle cx="655.5" cy="283.6" r="1.8"/><circle cx="667.4" cy="301.3" r="1.8"/><circle cx="640.8" cy="366.7" r="1.8"/><circle cx="602.8" cy="249.7" r="1.8"/><circle cx="613.6" cy="372.0" r="1.8"/><circle cx="644.5" cy="342.7" r="1.8"/><circle cx="591.9" cy="259.5" r="1.8"/><circle cx="563.7" cy="270.9" r="1.8"/><circle cx="647.6" cy="312.9" r="1.8"/><circle cx="525.9" cy="324.5" r="1.8"/><circle cx="644.7" cy="291.2" r="1.8"/><circle cx="566.1" cy="370.9" r="1.8"/><circle cx="642.6" cy="336.4" r="1.8"/><circle cx="648.1" cy="355.2" r="1.8"/><circle cx="550.9" cy="370.6" r="1.8"/><circle cx="639.9" cy="257.0" r="1.8"/><circle cx="527.3" cy="307.1" r="1.8"/><circle cx="540.6" cy="270.3" r="1.8"/><circle cx="641.7" cy="294.7" r="1.8"/><circle cx="620.5" cy="268.2" r="1.8"/><circle cx="663.6" cy="314.4" r="1.8"/><circle cx="644.5" cy="340.4" r="1.8"/><circle cx="632.9" cy="262.1" r="1.8"/><circle cx="575.3" cy="381.7" r="1.8"/><circle cx="663.4" cy="342.7" r="1.8"/><circle cx="604.4" cy="371.8" r="1.8"/><circle cx="552.2" cy="377.1" r="1.8"/><circle cx="647.4" cy="319.3" r="1.8"/><circle cx="631.0" cy="286.2" r="1.8"/><circle cx="622.7" cy="359.6" r="1.8"/><circle cx="652.7" cy="367.4" r="1.8"/><circle cx="642.4" cy="303.0" r="1.8"/><circle cx="634.9" cy="279.4" r="1.8"/><circle cx="636.9" cy="360.3" r="1.8"/><circle cx="652.5" cy="318.0" r="1.8"/><circle cx="645.1" cy="303.7" r="1.8"/><circle cx="655.9" cy="345.1" r="1.8"/><circle cx="662.0" cy="364.4" r="1.8"/><circle cx="623.1" cy="278.6" r="1.8"/><circle cx="546.5" cy="286.0" r="1.8"/><circle cx="650.4" cy="307.0" r="1.8"/><circle cx="603.8" cy="261.9" r="1.8"/><circle cx="592.6" cy="379.0" r="1.8"/><circle cx="651.0" cy="306.8" r="1.8"/><circle cx="674.7" cy="324.2" r="1.8"/><circle cx="645.8" cy="358.5" r="1.8"/><circle cx="645.0" cy="337.2" r="1.8"/><circle cx="640.4" cy="281.7" r="1.8"/><circle cx="550.8" cy="280.2" r="1.8"/><circle cx="622.8" cy="279.0" r="1.8"/><circle cx="602.5" cy="371.6" r="1.8"/><circle cx="643.2" cy="352.4" r="1.8"/><circle cx="643.5" cy="341.3" r="1.8"/><circle cx="637.5" cy="277.7" r="1.8"/><circle cx="560.2" cy="273.6" r="1.8"/><circle cx="545.5" cy="285.3" r="1.8"/><circle cx="560.7" cy="263.1" r="1.8"/><circle cx="572.4" cy="381.8" r="1.8"/><circle cx="603.1" cy="377.0" r="1.8"/><circle cx="618.3" cy="385.8" r="1.8"/><circle cx="548.5" cy="367.3" r="1.8"/><circle cx="555.2" cy="367.4" r="1.8"/><circle cx="637.8" cy="347.3" r="1.8"/><circle cx="638.0" cy="349.3" r="1.8"/><circle cx="642.8" cy="304.1" r="1.8"/><circle cx="587.8" cy="245.8" r="1.8"/><circle cx="662.3" cy="350.2" r="1.8"/><circle cx="668.3" cy="317.5" r="1.8"/><circle cx="629.4" cy="266.3" r="1.8"/><circle cx="591.4" cy="266.5" r="1.8"/><circle cx="653.4" cy="309.6" r="1.8"/><circle cx="658.0" cy="307.7" r="1.8"/><circle cx="561.3" cy="259.9" r="1.8"/><circle cx="626.7" cy="282.3" r="1.8"/><circle cx="638.4" cy="265.2" r="1.8"/><circle cx="616.8" cy="384.4" r="1.8"/><circle cx="519.0" cy="271.4" r="1.8"/><circle cx="538.9" cy="269.6" r="1.8"/><circle cx="521.6" cy="278.7" r="1.8"/><circle cx="533.6" cy="277.9" r="1.8"/><circle cx="543.6" cy="282.5" r="1.8"/><circle cx="507.0" cy="291.3" r="1.8"/><circle cx="502.8" cy="299.0" r="1.8"/><circle cx="523.7" cy="301.9" r="1.8"/><circle cx="487.9" cy="309.0" r="1.8"/><circle cx="503.8" cy="335.2" r="1.8"/><circle cx="501.4" cy="344.8" r="1.8"/><circle cx="513.1" cy="326.4" r="1.8"/><circle cx="512.5" cy="330.5" r="1.8"/><circle cx="512.5" cy="338.7" r="1.8"/><circle cx="517.8" cy="326.4" r="1.8"/><circle cx="520.2" cy="330.5" r="1.8"/><circle cx="517.8" cy="345.7" r="1.8"/><circle cx="507.3" cy="348.3" r="1.8"/><circle cx="523.7" cy="322.3" r="1.8"/><circle cx="501.3" cy="345.6" r="1.8"/><circle cx="507.1" cy="348.9" r="1.8"/><circle cx="517.4" cy="346.3" r="1.8"/><circle cx="519.3" cy="353.8" r="1.8"/><circle cx="509.0" cy="359.4" r="1.8"/><circle cx="519.3" cy="364.3" r="1.8"/><circle cx="522.5" cy="361.1" r="1.8"/><circle cx="526.4" cy="369.5" r="1.8"/><circle cx="532.2" cy="364.3" r="1.8"/><circle cx="536.0" cy="368.2" r="1.8"/><circle cx="530.2" cy="350.2" r="1.8"/><circle cx="539.9" cy="376.6" r="1.8"/><circle cx="539.3" cy="380.4" r="1.8"/><circle cx="523.8" cy="383.6" r="1.8"/><circle cx="547.6" cy="382.4" r="1.8"/><circle cx="557.9" cy="377.9" r="1.8"/><circle cx="557.3" cy="390.1" r="1.8"/></g>
<g stroke="#111" stroke-width="0.7"><circle cx="582.6" cy="342.8" r="2.05" fill="#33468f"/><circle cx="569.5" cy="328.6" r="2.05" fill="#33468f"/><circle cx="540.4" cy="350.6" r="2.05" fill="#33468f"/><circle cx="557.1" cy="321.5" r="2.05" fill="#33468f"/><circle cx="551.9" cy="358.5" r="2.05" fill="#33468f"/><circle cx="576.5" cy="347.8" r="2.05" fill="#33468f"/><circle cx="553.5" cy="335.2" r="2.05" fill="#33468f"/><circle cx="573.6" cy="325.4" r="2.05" fill="#33468f"/><circle cx="580.9" cy="348.5" r="2.05" fill="#33468f"/><circle cx="555.4" cy="351.8" r="2.05" fill="#33468f"/><circle cx="546.2" cy="329.4" r="2.05" fill="#33468f"/><circle cx="568.5" cy="330.7" r="2.05" fill="#33468f"/><circle cx="568.2" cy="347.3" r="2.05" fill="#33468f"/><circle cx="550.8" cy="336.6" r="2.05" fill="#33468f"/><circle cx="537.2" cy="302.1" r="2.05" fill="#33468f"/><circle cx="553.0" cy="360.1" r="2.05" fill="#33468f"/><circle cx="531.5" cy="330.3" r="2.05" fill="#33468f"/><circle cx="554.3" cy="356.5" r="2.05" fill="#33468f"/><circle cx="556.5" cy="304.5" r="2.05" fill="#33468f"/><circle cx="553.2" cy="343.3" r="2.05" fill="#33468f"/><circle cx="559.3" cy="352.5" r="2.05" fill="#33468f"/><circle cx="547.2" cy="342.5" r="2.05" fill="#33468f"/><circle cx="552.2" cy="360.2" r="2.05" fill="#33468f"/><circle cx="533.2" cy="336.4" r="2.05" fill="#33468f"/><circle cx="559.3" cy="340.7" r="2.05" fill="#33468f"/><circle cx="528.6" cy="307.5" r="2.05" fill="#33468f"/><circle cx="539.0" cy="326.2" r="2.05" fill="#33468f"/><circle cx="542.5" cy="317.6" r="2.05" fill="#33468f"/><circle cx="558.2" cy="314.1" r="2.05" fill="#33468f"/><circle cx="544.7" cy="344.3" r="2.05" fill="#33468f"/><circle cx="553.7" cy="323.6" r="2.05" fill="#33468f"/><circle cx="543.2" cy="341.2" r="2.05" fill="#33468f"/><circle cx="530.6" cy="315.5" r="2.05" fill="#33468f"/><circle cx="563.7" cy="300.3" r="2.05" fill="#33468f"/><circle cx="562.4" cy="358.5" r="2.05" fill="#33468f"/><circle cx="572.4" cy="313.9" r="2.05" fill="#33468f"/><circle cx="572.0" cy="314.6" r="2.05" fill="#33468f"/><circle cx="554.3" cy="318.9" r="2.05" fill="#33468f"/><circle cx="549.6" cy="296.2" r="2.05" fill="#33468f"/><circle cx="554.0" cy="330.1" r="2.05" fill="#33468f"/><circle cx="562.9" cy="328.8" r="2.05" fill="#33468f"/><circle cx="537.2" cy="308.8" r="2.05" fill="#33468f"/><circle cx="560.8" cy="352.3" r="2.05" fill="#33468f"/><circle cx="556.8" cy="324.6" r="2.05" fill="#33468f"/><circle cx="579.6" cy="340.2" r="2.05" fill="#33468f"/><circle cx="559.8" cy="314.1" r="2.05" fill="#33468f"/><circle cx="564.4" cy="338.9" r="2.05" fill="#33468f"/><circle cx="580.1" cy="345.3" r="2.05" fill="#33468f"/><circle cx="558.2" cy="316.2" r="2.05" fill="#33468f"/><circle cx="554.2" cy="331.2" r="2.05" fill="#33468f"/><circle cx="566.0" cy="320.6" r="2.05" fill="#33468f"/><circle cx="534.3" cy="309.6" r="2.05" fill="#33468f"/><circle cx="554.5" cy="316.1" r="2.05" fill="#33468f"/><circle cx="568.6" cy="311.6" r="2.05" fill="#33468f"/><circle cx="563.6" cy="341.9" r="2.05" fill="#33468f"/><circle cx="545.0" cy="306.1" r="2.05" fill="#33468f"/><circle cx="537.5" cy="350.2" r="2.05" fill="#33468f"/><circle cx="561.0" cy="327.0" r="2.05" fill="#33468f"/><circle cx="567.9" cy="347.1" r="2.05" fill="#33468f"/><circle cx="573.7" cy="318.3" r="2.05" fill="#33468f"/><circle cx="556.8" cy="357.0" r="2.05" fill="#33468f"/><circle cx="535.4" cy="300.9" r="2.05" fill="#33468f"/><circle cx="532.9" cy="329.4" r="2.05" fill="#33468f"/><circle cx="542.1" cy="318.8" r="2.05" fill="#33468f"/><circle cx="555.5" cy="347.0" r="2.05" fill="#33468f"/><circle cx="560.4" cy="320.3" r="2.05" fill="#33468f"/><circle cx="560.5" cy="338.1" r="2.05" fill="#33468f"/><circle cx="543.3" cy="317.6" r="2.05" fill="#33468f"/><circle cx="557.5" cy="313.4" r="2.05" fill="#33468f"/><circle cx="548.9" cy="336.0" r="2.05" fill="#33468f"/><circle cx="529.1" cy="336.2" r="2.05" fill="#33468f"/><circle cx="552.9" cy="322.4" r="2.05" fill="#33468f"/><circle cx="525.8" cy="303.7" r="2.05" fill="#33468f"/><circle cx="571.5" cy="344.6" r="2.05" fill="#33468f"/><circle cx="561.5" cy="359.4" r="2.05" fill="#33468f"/><circle cx="565.1" cy="348.5" r="2.05" fill="#33468f"/><circle cx="572.2" cy="310.3" r="2.05" fill="#33468f"/><circle cx="536.4" cy="330.5" r="2.05" fill="#33468f"/><circle cx="550.2" cy="307.6" r="2.05" fill="#33468f"/><circle cx="562.2" cy="360.7" r="2.05" fill="#33468f"/><circle cx="563.9" cy="353.8" r="2.05" fill="#33468f"/><circle cx="571.3" cy="342.8" r="2.05" fill="#33468f"/><circle cx="541.2" cy="332.4" r="2.05" fill="#33468f"/><circle cx="548.3" cy="350.6" r="2.05" fill="#33468f"/><circle cx="550.9" cy="306.6" r="2.05" fill="#33468f"/><circle cx="538.2" cy="309.3" r="2.05" fill="#33468f"/><circle cx="580.5" cy="347.1" r="2.05" fill="#33468f"/><circle cx="532.7" cy="329.2" r="2.05" fill="#33468f"/><circle cx="559.1" cy="307.7" r="2.05" fill="#33468f"/><circle cx="567.0" cy="344.2" r="2.05" fill="#33468f"/><circle cx="563.7" cy="307.1" r="2.05" fill="#33468f"/><circle cx="555.8" cy="353.3" r="2.05" fill="#33468f"/><circle cx="562.0" cy="328.2" r="2.05" fill="#33468f"/><circle cx="579.7" cy="335.3" r="2.05" fill="#33468f"/><circle cx="571.9" cy="344.7" r="2.05" fill="#33468f"/><circle cx="534.9" cy="308.5" r="2.05" fill="#33468f"/><circle cx="536.8" cy="317.6" r="2.05" fill="#33468f"/><circle cx="575.8" cy="331.8" r="2.05" fill="#33468f"/><circle cx="549.6" cy="309.2" r="2.05" fill="#33468f"/><circle cx="553.8" cy="321.9" r="2.05" fill="#33468f"/><circle cx="581.5" cy="347.7" r="2.05" fill="#33468f"/><circle cx="549.3" cy="342.4" r="2.05" fill="#33468f"/><circle cx="538.5" cy="321.0" r="2.05" fill="#33468f"/><circle cx="538.0" cy="306.7" r="2.05" fill="#33468f"/><circle cx="565.6" cy="345.1" r="2.05" fill="#33468f"/><circle cx="570.5" cy="339.2" r="2.05" fill="#33468f"/><circle cx="552.2" cy="316.3" r="2.05" fill="#33468f"/><circle cx="536.0" cy="301.9" r="2.05" fill="#33468f"/><circle cx="550.8" cy="327.6" r="2.05" fill="#33468f"/><circle cx="561.2" cy="354.4" r="2.05" fill="#33468f"/><circle cx="583.5" cy="348.4" r="2.05" fill="#33468f"/><circle cx="567.6" cy="360.4" r="2.05" fill="#33468f"/><circle cx="551.3" cy="305.3" r="2.05" fill="#33468f"/><circle cx="553.2" cy="311.8" r="2.05" fill="#33468f"/><circle cx="567.0" cy="306.2" r="2.05" fill="#33468f"/><circle cx="555.5" cy="349.6" r="2.05" fill="#33468f"/><circle cx="553.0" cy="353.5" r="2.05" fill="#33468f"/><circle cx="561.4" cy="342.4" r="2.05" fill="#33468f"/><circle cx="527.0" cy="302.5" r="2.05" fill="#33468f"/><circle cx="536.8" cy="322.2" r="2.05" fill="#33468f"/><circle cx="566.2" cy="306.3" r="2.05" fill="#33468f"/><circle cx="546.5" cy="299.0" r="2.05" fill="#33468f"/><circle cx="560.0" cy="355.1" r="2.05" fill="#33468f"/><circle cx="553.2" cy="335.6" r="2.05" fill="#33468f"/><circle cx="555.1" cy="342.9" r="2.05" fill="#33468f"/><circle cx="526.7" cy="310.5" r="2.05" fill="#33468f"/><circle cx="558.8" cy="319.6" r="2.05" fill="#33468f"/><circle cx="533.6" cy="304.8" r="2.05" fill="#33468f"/><circle cx="561.9" cy="327.5" r="2.05" fill="#33468f"/><circle cx="534.8" cy="318.0" r="2.05" fill="#33468f"/><circle cx="530.7" cy="320.8" r="2.05" fill="#33468f"/><circle cx="558.9" cy="325.6" r="2.05" fill="#33468f"/><circle cx="576.3" cy="343.6" r="2.05" fill="#33468f"/><circle cx="545.4" cy="319.8" r="2.05" fill="#33468f"/><circle cx="533.4" cy="339.0" r="2.05" fill="#33468f"/><circle cx="560.7" cy="353.8" r="2.05" fill="#33468f"/><circle cx="558.4" cy="331.4" r="2.05" fill="#33468f"/><circle cx="550.3" cy="336.3" r="2.05" fill="#33468f"/><circle cx="529.9" cy="331.1" r="2.05" fill="#33468f"/><circle cx="549.0" cy="344.2" r="2.05" fill="#33468f"/><circle cx="543.4" cy="320.9" r="2.05" fill="#33468f"/><circle cx="545.8" cy="334.4" r="2.05" fill="#33468f"/><circle cx="549.7" cy="340.0" r="2.05" fill="#33468f"/><circle cx="558.9" cy="317.1" r="2.05" fill="#33468f"/><circle cx="562.6" cy="336.1" r="2.05" fill="#33468f"/><circle cx="579.5" cy="340.4" r="2.05" fill="#33468f"/><circle cx="582.9" cy="342.7" r="2.05" fill="#33468f"/><circle cx="547.5" cy="336.8" r="2.05" fill="#33468f"/><circle cx="532.3" cy="331.4" r="2.05" fill="#33468f"/><circle cx="583.1" cy="342.7" r="2.05" fill="#33468f"/><circle cx="573.3" cy="347.1" r="2.05" fill="#33468f"/><circle cx="544.1" cy="336.9" r="2.05" fill="#33468f"/><circle cx="558.2" cy="333.1" r="2.05" fill="#33468f"/><circle cx="539.2" cy="331.4" r="2.05" fill="#33468f"/><circle cx="544.3" cy="322.1" r="2.05" fill="#33468f"/><circle cx="561.4" cy="347.7" r="2.05" fill="#33468f"/><circle cx="551.6" cy="358.9" r="2.05" fill="#33468f"/><circle cx="572.2" cy="343.9" r="2.05" fill="#33468f"/><circle cx="540.4" cy="304.6" r="2.05" fill="#33468f"/><circle cx="573.4" cy="325.3" r="2.05" fill="#33468f"/><circle cx="541.1" cy="303.6" r="2.05" fill="#33468f"/><circle cx="559.7" cy="299.5" r="2.05" fill="#33468f"/><circle cx="550.4" cy="301.4" r="2.05" fill="#33468f"/><circle cx="542.8" cy="339.4" r="2.05" fill="#33468f"/><circle cx="571.9" cy="346.0" r="2.05" fill="#33468f"/><circle cx="555.4" cy="336.1" r="2.05" fill="#33468f"/><circle cx="542.6" cy="354.4" r="2.05" fill="#33468f"/><circle cx="563.8" cy="335.7" r="2.05" fill="#33468f"/><circle cx="550.5" cy="356.8" r="2.05" fill="#33468f"/><circle cx="550.2" cy="314.2" r="2.05" fill="#33468f"/><circle cx="560.0" cy="313.5" r="2.05" fill="#33468f"/><circle cx="554.7" cy="325.0" r="2.05" fill="#33468f"/><circle cx="539.7" cy="340.6" r="2.05" fill="#33468f"/><circle cx="545.0" cy="303.8" r="2.05" fill="#33468f"/><circle cx="562.5" cy="315.8" r="2.05" fill="#33468f"/><circle cx="571.5" cy="345.3" r="2.05" fill="#33468f"/><circle cx="535.9" cy="314.8" r="2.05" fill="#33468f"/><circle cx="559.5" cy="342.5" r="2.05" fill="#33468f"/><circle cx="560.8" cy="298.2" r="2.05" fill="#33468f"/><circle cx="572.0" cy="332.4" r="2.05" fill="#33468f"/><circle cx="543.3" cy="351.9" r="2.05" fill="#33468f"/><circle cx="541.3" cy="340.4" r="2.05" fill="#33468f"/><circle cx="551.0" cy="321.3" r="2.05" fill="#33468f"/><circle cx="564.9" cy="337.1" r="2.05" fill="#33468f"/><circle cx="564.7" cy="311.4" r="2.05" fill="#33468f"/><circle cx="530.0" cy="337.8" r="2.05" fill="#33468f"/><circle cx="554.2" cy="345.9" r="2.05" fill="#33468f"/><circle cx="548.2" cy="343.3" r="2.05" fill="#33468f"/><circle cx="549.0" cy="310.6" r="2.05" fill="#33468f"/><circle cx="564.3" cy="342.3" r="2.05" fill="#33468f"/><circle cx="569.8" cy="352.8" r="2.05" fill="#33468f"/><circle cx="566.6" cy="356.0" r="2.05" fill="#33468f"/><circle cx="549.1" cy="350.8" r="2.05" fill="#33468f"/><circle cx="539.1" cy="314.4" r="2.05" fill="#33468f"/><circle cx="535.0" cy="305.8" r="2.05" fill="#33468f"/><circle cx="573.5" cy="339.0" r="2.05" fill="#33468f"/><circle cx="533.1" cy="304.6" r="2.05" fill="#33468f"/><circle cx="546.0" cy="320.1" r="2.05" fill="#33468f"/><circle cx="562.5" cy="330.8" r="2.05" fill="#33468f"/><circle cx="540.7" cy="316.3" r="2.05" fill="#33468f"/><circle cx="543.3" cy="322.9" r="2.05" fill="#33468f"/><circle cx="549.8" cy="345.7" r="2.05" fill="#33468f"/><circle cx="557.7" cy="320.1" r="2.05" fill="#33468f"/><circle cx="565.2" cy="309.6" r="2.05" fill="#33468f"/><circle cx="526.6" cy="314.1" r="2.05" fill="#33468f"/><circle cx="537.4" cy="334.7" r="2.05" fill="#33468f"/><circle cx="554.7" cy="354.8" r="2.05" fill="#33468f"/><circle cx="576.3" cy="351.9" r="2.05" fill="#33468f"/><circle cx="563.2" cy="329.1" r="2.05" fill="#33468f"/><circle cx="535.4" cy="312.9" r="2.05" fill="#33468f"/><circle cx="541.6" cy="315.7" r="2.05" fill="#33468f"/><circle cx="531.5" cy="303.4" r="2.05" fill="#33468f"/><circle cx="539.8" cy="261.8" r="2.05" fill="#8290cc"/><circle cx="532.8" cy="276.7" r="2.05" fill="#8290cc"/><circle cx="543.0" cy="279.0" r="2.05" fill="#8290cc"/><circle cx="519.6" cy="284.1" r="2.05" fill="#8290cc"/><circle cx="524.8" cy="286.4" r="2.05" fill="#33468f"/><circle cx="528.4" cy="283.1" r="2.05" fill="#8290cc"/><circle cx="539.5" cy="286.1" r="2.05" fill="#8290cc"/><circle cx="523.7" cy="289.9" r="2.05" fill="#8290cc"/><circle cx="527.8" cy="290.2" r="2.05" fill="#8290cc"/><circle cx="531.9" cy="292.5" r="2.05" fill="#8290cc"/><circle cx="536.6" cy="291.3" r="2.05" fill="#33468f"/><circle cx="540.1" cy="293.7" r="2.05" fill="#33468f"/><circle cx="543.6" cy="290.2" r="2.05" fill="#8290cc"/><circle cx="529.5" cy="295.4" r="2.05" fill="#8290cc"/><circle cx="535.4" cy="295.4" r="2.05" fill="#33468f"/><circle cx="542.4" cy="295.4" r="2.05" fill="#33468f"/><circle cx="538.3" cy="298.4" r="2.05" fill="#8290cc"/><circle cx="512.0" cy="299.5" r="2.05" fill="#8290cc"/><circle cx="502.6" cy="309.7" r="2.05" fill="#8290cc"/><circle cx="507.9" cy="311.4" r="2.05" fill="#8290cc"/><circle cx="492.6" cy="315.6" r="2.05" fill="#8290cc"/><circle cx="497.3" cy="315.6" r="2.05" fill="#8290cc"/><circle cx="513.1" cy="308.2" r="2.05" fill="#8290cc"/><circle cx="516.6" cy="305.9" r="2.05" fill="#8290cc"/><circle cx="513.7" cy="314.6" r="2.05" fill="#8290cc"/><circle cx="516.1" cy="317.6" r="2.05" fill="#8290cc"/><circle cx="519.6" cy="317.6" r="2.05" fill="#8290cc"/><circle cx="516.9" cy="321.1" r="2.05" fill="#8290cc"/><circle cx="523.7" cy="311.7" r="2.05" fill="#33468f"/><circle cx="524.8" cy="315.2" r="2.05" fill="#33468f"/><circle cx="506.1" cy="329.9" r="2.05" fill="#8290cc"/><circle cx="524.8" cy="328.1" r="2.05" fill="#33468f"/><circle cx="527.8" cy="327.5" r="2.05" fill="#33468f"/><circle cx="522.5" cy="335.7" r="2.05" fill="#8290cc"/><circle cx="526.6" cy="334.6" r="2.05" fill="#8290cc"/><circle cx="530.7" cy="334.0" r="2.05" fill="#33468f"/><circle cx="522.5" cy="340.4" r="2.05" fill="#8290cc"/><circle cx="525.4" cy="341.6" r="2.05" fill="#8290cc"/><circle cx="529.0" cy="343.4" r="2.05" fill="#8290cc"/><circle cx="534.2" cy="341.6" r="2.05" fill="#8290cc"/><circle cx="530.7" cy="337.5" r="2.05" fill="#33468f"/><circle cx="529.0" cy="317.6" r="2.05" fill="#33468f"/><circle cx="533.0" cy="332.2" r="2.05" fill="#33468f"/><circle cx="553.8" cy="281.5" r="2.05" fill="#8290cc"/><circle cx="571.7" cy="288.3" r="2.05" fill="#8290cc"/><circle cx="578.4" cy="296.4" r="2.05" fill="#33468f"/><circle cx="578.1" cy="298.8" r="2.05" fill="#33468f"/><circle cx="573.5" cy="308.0" r="2.05" fill="#8290cc"/><circle cx="555.2" cy="292.5" r="2.05" fill="#8290cc"/><circle cx="558.7" cy="295.0" r="2.05" fill="#8290cc"/><circle cx="542.6" cy="291.8" r="2.05" fill="#33468f"/><circle cx="546.1" cy="292.5" r="2.05" fill="#33468f"/><circle cx="534.8" cy="292.5" r="2.05" fill="#33468f"/><circle cx="593.9" cy="326.9" r="2.05" fill="#33468f"/><circle cx="572.8" cy="328.4" r="2.05" fill="#8290cc"/><circle cx="585.4" cy="343.2" r="2.05" fill="#8290cc"/><circle cx="573.5" cy="353.7" r="2.05" fill="#8290cc"/><circle cx="580.5" cy="359.3" r="2.05" fill="#8290cc"/><circle cx="573.5" cy="363.5" r="2.05" fill="#8290cc"/><circle cx="584.0" cy="371.3" r="2.05" fill="#8290cc"/><circle cx="580.5" cy="371.3" r="2.05" fill="#8290cc"/><circle cx="572.1" cy="368.5" r="2.05" fill="#8290cc"/><circle cx="567.1" cy="372.7" r="2.05" fill="#8290cc"/><circle cx="570.6" cy="376.2" r="2.05" fill="#8290cc"/><circle cx="590.3" cy="375.1" r="2.05" fill="#8290cc"/><circle cx="596.6" cy="326.3" r="2.05" fill="#8290cc"/><circle cx="598.7" cy="323.5" r="2.05" fill="#8290cc"/><circle cx="550.3" cy="374.1" r="2.05" fill="#8290cc"/><circle cx="551.0" cy="377.6" r="2.05" fill="#8290cc"/><circle cx="544.7" cy="371.3" r="2.05" fill="#8290cc"/><circle cx="548.2" cy="369.9" r="2.05" fill="#8290cc"/><circle cx="558.7" cy="369.2" r="2.05" fill="#8290cc"/><circle cx="527.8" cy="354.4" r="2.05" fill="#8290cc"/><circle cx="527.8" cy="357.9" r="2.05" fill="#8290cc"/><circle cx="534.8" cy="360.7" r="2.05" fill="#8290cc"/><circle cx="541.9" cy="365.0" r="2.05" fill="#8290cc"/><circle cx="544.7" cy="367.8" r="2.05" fill="#8290cc"/><circle cx="527.1" cy="378.3" r="2.05" fill="#8290cc"/><circle cx="501.6" cy="351.7" r="2.05" fill="#8290cc"/><circle cx="529.6" cy="354.3" r="2.05" fill="#8290cc"/><circle cx="543.1" cy="371.4" r="2.05" fill="#8290cc"/><circle cx="545.1" cy="372.3" r="2.05" fill="#8290cc"/><circle cx="519.9" cy="380.0" r="2.05" fill="#8290cc"/><circle cx="530.0" cy="386.2" r="2.05" fill="#8290cc"/><circle cx="541.8" cy="387.5" r="2.05" fill="#8290cc"/><circle cx="606.3" cy="366.4" r="2.05" fill="#8290cc"/><circle cx="577.5" cy="370.9" r="2.05" fill="#8290cc"/><circle cx="599.7" cy="371.6" r="2.05" fill="#33468f"/><circle cx="600.3" cy="375.1" r="2.05" fill="#33468f"/><circle cx="603.5" cy="380.1" r="2.05" fill="#8290cc"/><circle cx="613.8" cy="387.8" r="2.05" fill="#8290cc"/><circle cx="614.8" cy="394.1" r="2.05" fill="#8290cc"/><circle cx="568.4" cy="392.3" r="2.05" fill="#8290cc"/><circle cx="559.9" cy="369.5" r="2.05" fill="#8290cc"/><circle cx="570.5" cy="373.0" r="2.05" fill="#8290cc"/><circle cx="616.9" cy="305.9" r="2.05" fill="#8290cc"/><circle cx="603.5" cy="310.5" r="2.05" fill="#33468f"/><circle cx="658.1" cy="329.7" r="2.05" fill="#8290cc"/><circle cx="662.8" cy="337.5" r="2.05" fill="#33468f"/><circle cx="633.5" cy="335.1" r="2.05" fill="#8290cc"/><circle cx="521.4" cy="287.5" r="2.05" fill="#8290cc"/><circle cx="528.0" cy="289.4" r="2.05" fill="#8290cc"/><circle cx="527.0" cy="292.2" r="2.05" fill="#8290cc"/><circle cx="530.8" cy="292.2" r="2.05" fill="#8290cc"/><circle cx="533.1" cy="290.8" r="2.05" fill="#8290cc"/><circle cx="535.9" cy="291.7" r="2.05" fill="#8290cc"/><circle cx="539.7" cy="292.6" r="2.05" fill="#33468f"/><circle cx="542.5" cy="294.0" r="2.05" fill="#33468f"/><circle cx="543.4" cy="289.8" r="2.05" fill="#8290cc"/><circle cx="542.0" cy="290.8" r="2.05" fill="#33468f"/><circle cx="537.8" cy="295.0" r="2.05" fill="#8290cc"/><circle cx="539.7" cy="296.9" r="2.05" fill="#33468f"/><circle cx="528.4" cy="295.0" r="2.05" fill="#8290cc"/><circle cx="532.2" cy="295.0" r="2.05" fill="#8290cc"/><circle cx="525.1" cy="294.1" r="2.05" fill="#8290cc"/><circle cx="514.4" cy="306.2" r="2.05" fill="#8290cc"/><circle cx="524.7" cy="315.6" r="2.05" fill="#8290cc"/><circle cx="527.5" cy="313.7" r="2.05" fill="#33468f"/><circle cx="546.8" cy="261.5" r="2.05" fill="#8290cc"/></g>
<g stroke="#111" stroke-width="0.7"><circle cx="547.8" cy="356.9" r="2.05" fill="#c63b24"/><circle cx="531.7" cy="307.6" r="2.05" fill="#c63b24"/><circle cx="563.2" cy="347.7" r="2.05" fill="#c63b24"/><circle cx="540.5" cy="302.4" r="2.05" fill="#c63b24"/><circle cx="563.4" cy="334.3" r="2.05" fill="#c63b24"/><circle cx="537.1" cy="342.4" r="2.05" fill="#c63b24"/><circle cx="539.7" cy="298.8" r="2.05" fill="#c63b24"/><circle cx="563.6" cy="304.4" r="2.05" fill="#c63b24"/><circle cx="555.9" cy="310.5" r="2.05" fill="#c63b24"/><circle cx="553.4" cy="360.7" r="2.05" fill="#c63b24"/><circle cx="564.7" cy="352.9" r="2.05" fill="#c63b24"/><circle cx="571.8" cy="349.9" r="2.05" fill="#c63b24"/><circle cx="558.6" cy="311.5" r="2.05" fill="#c63b24"/><circle cx="568.4" cy="346.3" r="2.05" fill="#c63b24"/><circle cx="575.2" cy="336.4" r="2.05" fill="#c63b24"/><circle cx="527.0" cy="315.9" r="2.05" fill="#c63b24"/><circle cx="555.8" cy="306.8" r="2.05" fill="#c63b24"/><circle cx="562.7" cy="306.6" r="2.05" fill="#c63b24"/><circle cx="555.6" cy="318.5" r="2.05" fill="#c63b24"/><circle cx="556.9" cy="320.4" r="2.05" fill="#c63b24"/><circle cx="559.1" cy="308.3" r="2.05" fill="#c63b24"/><circle cx="546.5" cy="339.4" r="2.05" fill="#c63b24"/><circle cx="538.5" cy="305.6" r="2.05" fill="#c63b24"/><circle cx="562.4" cy="349.9" r="2.05" fill="#c63b24"/><circle cx="561.4" cy="337.5" r="2.05" fill="#c63b24"/><circle cx="530.6" cy="324.3" r="2.05" fill="#c63b24"/><circle cx="539.8" cy="306.8" r="2.05" fill="#c63b24"/><circle cx="568.1" cy="313.6" r="2.05" fill="#c63b24"/><circle cx="544.1" cy="304.6" r="2.05" fill="#c63b24"/><circle cx="572.5" cy="318.8" r="2.05" fill="#c63b24"/><circle cx="569.5" cy="306.7" r="2.05" fill="#c63b24"/><circle cx="558.8" cy="354.9" r="2.05" fill="#c63b24"/><circle cx="534.4" cy="347.5" r="2.05" fill="#c63b24"/><circle cx="533.0" cy="309.0" r="2.05" fill="#c63b24"/><circle cx="537.3" cy="345.3" r="2.05" fill="#c63b24"/><circle cx="542.6" cy="304.9" r="2.05" fill="#c63b24"/><circle cx="571.5" cy="325.7" r="2.05" fill="#c63b24"/><circle cx="562.7" cy="360.7" r="2.05" fill="#c63b24"/><circle cx="556.6" cy="360.5" r="2.05" fill="#c63b24"/><circle cx="558.1" cy="350.6" r="2.05" fill="#c63b24"/><circle cx="539.2" cy="335.2" r="2.05" fill="#c63b24"/><circle cx="573.5" cy="315.9" r="2.05" fill="#c63b24"/><circle cx="564.8" cy="309.6" r="2.05" fill="#c63b24"/><circle cx="534.2" cy="317.2" r="2.05" fill="#c63b24"/><circle cx="530.8" cy="322.5" r="2.05" fill="#c63b24"/><circle cx="534.9" cy="337.2" r="2.05" fill="#c63b24"/><circle cx="581.0" cy="348.7" r="2.05" fill="#c63b24"/><circle cx="559.4" cy="342.2" r="2.05" fill="#c63b24"/><circle cx="565.9" cy="307.6" r="2.05" fill="#c63b24"/><circle cx="585.5" cy="339.1" r="2.05" fill="#c63b24"/><circle cx="557.1" cy="327.8" r="2.05" fill="#c63b24"/><circle cx="559.1" cy="310.1" r="2.05" fill="#c63b24"/><circle cx="552.4" cy="303.5" r="2.05" fill="#c63b24"/><circle cx="553.1" cy="305.4" r="2.05" fill="#c63b24"/><circle cx="582.2" cy="348.8" r="2.05" fill="#c63b24"/><circle cx="568.8" cy="356.6" r="2.05" fill="#c63b24"/><circle cx="552.9" cy="338.2" r="2.05" fill="#c63b24"/><circle cx="563.1" cy="304.3" r="2.05" fill="#c63b24"/><circle cx="564.6" cy="318.1" r="2.05" fill="#c63b24"/><circle cx="539.4" cy="353.3" r="2.05" fill="#c63b24"/><circle cx="549.4" cy="301.1" r="2.05" fill="#c63b24"/><circle cx="543.1" cy="346.9" r="2.05" fill="#c63b24"/><circle cx="569.3" cy="358.0" r="2.05" fill="#c63b24"/><circle cx="582.6" cy="347.7" r="2.05" fill="#c63b24"/><circle cx="534.7" cy="309.7" r="2.05" fill="#c63b24"/><circle cx="543.6" cy="315.6" r="2.05" fill="#c63b24"/><circle cx="570.2" cy="358.0" r="2.05" fill="#c63b24"/><circle cx="562.6" cy="326.6" r="2.05" fill="#c63b24"/><circle cx="557.2" cy="336.9" r="2.05" fill="#c63b24"/><circle cx="563.6" cy="323.4" r="2.05" fill="#c63b24"/><circle cx="580.2" cy="339.6" r="2.05" fill="#c63b24"/><circle cx="538.2" cy="316.1" r="2.05" fill="#c63b24"/><circle cx="534.3" cy="338.4" r="2.05" fill="#c63b24"/><circle cx="560.2" cy="336.8" r="2.05" fill="#c63b24"/><circle cx="561.1" cy="340.2" r="2.05" fill="#c63b24"/><circle cx="548.8" cy="308.3" r="2.05" fill="#c63b24"/><circle cx="554.9" cy="327.7" r="2.05" fill="#c63b24"/><circle cx="553.2" cy="331.7" r="2.05" fill="#c63b24"/><circle cx="549.2" cy="320.4" r="2.05" fill="#c63b24"/><circle cx="540.8" cy="347.3" r="2.05" fill="#c63b24"/><circle cx="552.7" cy="312.2" r="2.05" fill="#c63b24"/><circle cx="553.7" cy="339.5" r="2.05" fill="#c63b24"/><circle cx="580.0" cy="335.6" r="2.05" fill="#c63b24"/><circle cx="568.7" cy="304.5" r="2.05" fill="#c63b24"/><circle cx="538.9" cy="301.8" r="2.05" fill="#c63b24"/><circle cx="543.7" cy="323.6" r="2.05" fill="#c63b24"/><circle cx="568.0" cy="358.4" r="2.05" fill="#c63b24"/><circle cx="551.1" cy="314.2" r="2.05" fill="#c63b24"/><circle cx="538.2" cy="332.3" r="2.05" fill="#c63b24"/><circle cx="560.4" cy="337.2" r="2.05" fill="#c63b24"/><circle cx="556.5" cy="312.6" r="2.05" fill="#c63b24"/><circle cx="544.0" cy="335.8" r="2.05" fill="#c63b24"/><circle cx="552.0" cy="335.9" r="2.05" fill="#c63b24"/><circle cx="557.2" cy="298.1" r="2.05" fill="#c63b24"/><circle cx="558.8" cy="362.0" r="2.05" fill="#c63b24"/><circle cx="541.1" cy="322.2" r="2.05" fill="#c63b24"/><circle cx="569.3" cy="336.4" r="2.05" fill="#c63b24"/><circle cx="527.3" cy="306.9" r="2.05" fill="#c63b24"/><circle cx="536.0" cy="319.5" r="2.05" fill="#c63b24"/><circle cx="539.3" cy="341.9" r="2.05" fill="#c63b24"/><circle cx="563.9" cy="346.9" r="2.05" fill="#c63b24"/><circle cx="549.8" cy="329.2" r="2.05" fill="#c63b24"/><circle cx="536.4" cy="302.9" r="2.05" fill="#c63b24"/><circle cx="535.2" cy="327.0" r="2.05" fill="#c63b24"/><circle cx="550.6" cy="321.0" r="2.05" fill="#c63b24"/><circle cx="550.3" cy="302.7" r="2.05" fill="#c63b24"/><circle cx="571.4" cy="319.1" r="2.05" fill="#c63b24"/><circle cx="567.3" cy="345.0" r="2.05" fill="#c63b24"/><circle cx="580.6" cy="348.4" r="2.05" fill="#c63b24"/><circle cx="526.2" cy="319.2" r="2.05" fill="#c63b24"/><circle cx="531.8" cy="340.8" r="2.05" fill="#c63b24"/><circle cx="526.4" cy="312.5" r="2.05" fill="#c63b24"/><circle cx="558.1" cy="331.5" r="2.05" fill="#c63b24"/><circle cx="546.9" cy="346.5" r="2.05" fill="#c63b24"/><circle cx="557.3" cy="340.6" r="2.05" fill="#c63b24"/><circle cx="573.7" cy="321.3" r="2.05" fill="#c63b24"/><circle cx="535.1" cy="335.9" r="2.05" fill="#c63b24"/><circle cx="564.9" cy="330.4" r="2.05" fill="#c63b24"/><circle cx="541.8" cy="325.9" r="2.05" fill="#c63b24"/><circle cx="535.7" cy="301.7" r="2.05" fill="#c63b24"/><circle cx="559.6" cy="357.5" r="2.05" fill="#c63b24"/><circle cx="535.5" cy="324.3" r="2.05" fill="#c63b24"/><circle cx="555.9" cy="353.8" r="2.05" fill="#c63b24"/><circle cx="561.1" cy="300.7" r="2.05" fill="#c63b24"/><circle cx="533.1" cy="312.2" r="2.05" fill="#c63b24"/><circle cx="553.7" cy="332.9" r="2.05" fill="#c63b24"/><circle cx="549.7" cy="329.2" r="2.05" fill="#c63b24"/><circle cx="571.3" cy="313.0" r="2.05" fill="#c63b24"/><circle cx="560.9" cy="345.7" r="2.05" fill="#c63b24"/><circle cx="574.6" cy="336.6" r="2.05" fill="#c63b24"/><circle cx="574.7" cy="341.5" r="2.05" fill="#c63b24"/><circle cx="567.3" cy="331.8" r="2.05" fill="#c63b24"/><circle cx="545.4" cy="350.5" r="2.05" fill="#c63b24"/><circle cx="535.5" cy="306.6" r="2.05" fill="#c63b24"/><circle cx="587.0" cy="338.3" r="2.05" fill="#c63b24"/><circle cx="574.7" cy="349.1" r="2.05" fill="#c63b24"/><circle cx="554.4" cy="322.0" r="2.05" fill="#c63b24"/><circle cx="562.6" cy="329.0" r="2.05" fill="#c63b24"/><circle cx="555.1" cy="354.2" r="2.05" fill="#c63b24"/><circle cx="568.6" cy="306.2" r="2.05" fill="#c63b24"/><circle cx="560.6" cy="352.3" r="2.05" fill="#c63b24"/><circle cx="562.7" cy="321.7" r="2.05" fill="#c63b24"/><circle cx="576.2" cy="336.7" r="2.05" fill="#c63b24"/><circle cx="565.3" cy="307.3" r="2.05" fill="#c63b24"/><circle cx="558.4" cy="298.1" r="2.05" fill="#c63b24"/><circle cx="554.2" cy="355.5" r="2.05" fill="#c63b24"/><circle cx="553.8" cy="333.7" r="2.05" fill="#c63b24"/><circle cx="576.2" cy="341.4" r="2.05" fill="#c63b24"/><circle cx="570.5" cy="309.2" r="2.05" fill="#c63b24"/><circle cx="570.1" cy="330.5" r="2.05" fill="#c63b24"/><circle cx="540.3" cy="315.0" r="2.05" fill="#c63b24"/><circle cx="552.9" cy="328.0" r="2.05" fill="#c63b24"/><circle cx="526.9" cy="322.8" r="2.05" fill="#c63b24"/><circle cx="547.6" cy="302.4" r="2.05" fill="#c63b24"/><circle cx="581.9" cy="344.9" r="2.05" fill="#c63b24"/><circle cx="564.4" cy="343.3" r="2.05" fill="#c63b24"/><circle cx="535.2" cy="337.0" r="2.05" fill="#c63b24"/><circle cx="578.9" cy="335.9" r="2.05" fill="#c63b24"/><circle cx="543.3" cy="354.9" r="2.05" fill="#c63b24"/><circle cx="536.1" cy="323.1" r="2.05" fill="#c63b24"/><circle cx="548.9" cy="337.0" r="2.05" fill="#c63b24"/><circle cx="551.6" cy="326.7" r="2.05" fill="#c63b24"/><circle cx="580.1" cy="343.4" r="2.05" fill="#c63b24"/><circle cx="565.2" cy="311.5" r="2.05" fill="#c63b24"/><circle cx="544.4" cy="360.6" r="2.05" fill="#c63b24"/><circle cx="553.6" cy="322.2" r="2.05" fill="#c63b24"/><circle cx="540.8" cy="329.3" r="2.05" fill="#c63b24"/><circle cx="565.9" cy="356.5" r="2.05" fill="#c63b24"/><circle cx="530.6" cy="311.5" r="2.05" fill="#c63b24"/><circle cx="558.5" cy="297.8" r="2.05" fill="#c63b24"/><circle cx="556.5" cy="304.7" r="2.05" fill="#c63b24"/><circle cx="541.7" cy="301.5" r="2.05" fill="#c63b24"/><circle cx="551.4" cy="354.5" r="2.05" fill="#c63b24"/><circle cx="574.3" cy="326.5" r="2.05" fill="#c63b24"/><circle cx="536.6" cy="321.4" r="2.05" fill="#c63b24"/><circle cx="543.9" cy="330.9" r="2.05" fill="#c63b24"/><circle cx="548.4" cy="311.7" r="2.05" fill="#c63b24"/><circle cx="535.8" cy="302.7" r="2.05" fill="#c63b24"/><circle cx="525.9" cy="323.9" r="2.05" fill="#c63b24"/><circle cx="555.1" cy="350.8" r="2.05" fill="#c63b24"/><circle cx="553.8" cy="339.8" r="2.05" fill="#c63b24"/><circle cx="542.2" cy="319.4" r="2.05" fill="#c63b24"/><circle cx="532.8" cy="335.1" r="2.05" fill="#c63b24"/><circle cx="540.8" cy="302.3" r="2.05" fill="#c63b24"/><circle cx="556.9" cy="310.8" r="2.05" fill="#c63b24"/><circle cx="550.0" cy="354.4" r="2.05" fill="#c63b24"/><circle cx="542.3" cy="306.2" r="2.05" fill="#c63b24"/><circle cx="557.7" cy="347.7" r="2.05" fill="#c63b24"/><circle cx="545.0" cy="311.9" r="2.05" fill="#c63b24"/><circle cx="573.7" cy="324.1" r="2.05" fill="#c63b24"/><circle cx="537.1" cy="339.1" r="2.05" fill="#c63b24"/><circle cx="549.7" cy="343.9" r="2.05" fill="#c63b24"/><circle cx="545.4" cy="350.8" r="2.05" fill="#c63b24"/><circle cx="540.7" cy="310.7" r="2.05" fill="#c63b24"/><circle cx="544.3" cy="299.9" r="2.05" fill="#c63b24"/><circle cx="565.6" cy="326.6" r="2.05" fill="#c63b24"/><circle cx="546.3" cy="330.5" r="2.05" fill="#c63b24"/><circle cx="558.9" cy="303.5" r="2.05" fill="#c63b24"/><circle cx="550.3" cy="327.2" r="2.05" fill="#c63b24"/><circle cx="530.9" cy="315.1" r="2.05" fill="#c63b24"/><circle cx="551.5" cy="321.7" r="2.05" fill="#c63b24"/><circle cx="542.4" cy="301.7" r="2.05" fill="#c63b24"/><circle cx="554.0" cy="343.0" r="2.05" fill="#c63b24"/><circle cx="542.3" cy="333.8" r="2.05" fill="#c63b24"/><circle cx="541.3" cy="357.8" r="2.05" fill="#c63b24"/><circle cx="549.7" cy="309.8" r="2.05" fill="#c63b24"/><circle cx="535.1" cy="323.0" r="2.05" fill="#c63b24"/><circle cx="537.1" cy="353.4" r="2.05" fill="#c63b24"/><circle cx="528.6" cy="317.2" r="2.05" fill="#c63b24"/><circle cx="531.2" cy="303.5" r="2.05" fill="#c63b24"/><circle cx="552.5" cy="314.6" r="2.05" fill="#c63b24"/><circle cx="533.6" cy="323.1" r="2.05" fill="#c63b24"/><circle cx="548.1" cy="337.3" r="2.05" fill="#c63b24"/><circle cx="559.2" cy="358.3" r="2.05" fill="#c63b24"/><circle cx="569.2" cy="359.1" r="2.05" fill="#c63b24"/><circle cx="574.7" cy="344.9" r="2.05" fill="#c63b24"/><circle cx="528.0" cy="325.4" r="2.05" fill="#c63b24"/><circle cx="551.6" cy="300.5" r="2.05" fill="#c63b24"/><circle cx="545.6" cy="313.4" r="2.05" fill="#c63b24"/><circle cx="548.6" cy="296.8" r="2.05" fill="#c63b24"/><circle cx="536.4" cy="355.6" r="2.05" fill="#c63b24"/><circle cx="542.7" cy="339.5" r="2.05" fill="#c63b24"/><circle cx="540.0" cy="297.5" r="2.05" fill="#c63b24"/><circle cx="565.3" cy="327.9" r="2.05" fill="#c63b24"/><circle cx="560.7" cy="354.0" r="2.05" fill="#c63b24"/><circle cx="562.1" cy="358.7" r="2.05" fill="#c63b24"/><circle cx="546.0" cy="297.5" r="2.05" fill="#c63b24"/><circle cx="569.6" cy="312.0" r="2.05" fill="#c63b24"/><circle cx="525.1" cy="318.1" r="2.05" fill="#c63b24"/><circle cx="563.8" cy="325.4" r="2.05" fill="#c63b24"/><circle cx="562.0" cy="357.9" r="2.05" fill="#c63b24"/><circle cx="552.8" cy="357.6" r="2.05" fill="#c63b24"/><circle cx="561.6" cy="343.9" r="2.05" fill="#c63b24"/><circle cx="540.9" cy="334.9" r="2.05" fill="#c63b24"/><circle cx="557.4" cy="311.5" r="2.05" fill="#c63b24"/><circle cx="565.1" cy="348.3" r="2.05" fill="#c63b24"/><circle cx="548.5" cy="360.5" r="2.05" fill="#c63b24"/><circle cx="537.2" cy="326.8" r="2.05" fill="#c63b24"/><circle cx="536.4" cy="351.0" r="2.05" fill="#c63b24"/><circle cx="529.4" cy="322.8" r="2.05" fill="#c63b24"/><circle cx="569.9" cy="324.7" r="2.05" fill="#c63b24"/><circle cx="561.5" cy="319.4" r="2.05" fill="#c63b24"/><circle cx="534.9" cy="321.3" r="2.05" fill="#c63b24"/><circle cx="548.4" cy="354.3" r="2.05" fill="#c63b24"/><circle cx="573.6" cy="326.3" r="2.05" fill="#c63b24"/><circle cx="545.9" cy="361.2" r="2.05" fill="#c63b24"/><circle cx="553.3" cy="359.9" r="2.05" fill="#c63b24"/><circle cx="557.0" cy="302.0" r="2.05" fill="#c63b24"/><circle cx="544.3" cy="313.7" r="2.05" fill="#c63b24"/><circle cx="551.5" cy="303.4" r="2.05" fill="#c63b24"/><circle cx="535.2" cy="330.5" r="2.05" fill="#c63b24"/><circle cx="550.8" cy="304.3" r="2.05" fill="#c63b24"/><circle cx="552.1" cy="342.6" r="2.05" fill="#c63b24"/><circle cx="571.7" cy="356.9" r="2.05" fill="#c63b24"/><circle cx="550.9" cy="329.9" r="2.05" fill="#c63b24"/><circle cx="545.3" cy="303.0" r="2.05" fill="#c63b24"/><circle cx="563.5" cy="311.5" r="2.05" fill="#c63b24"/><circle cx="548.8" cy="336.0" r="2.05" fill="#c63b24"/><circle cx="544.4" cy="348.2" r="2.05" fill="#c63b24"/><circle cx="564.5" cy="316.0" r="2.05" fill="#c63b24"/><circle cx="563.5" cy="351.4" r="2.05" fill="#c63b24"/><circle cx="549.5" cy="338.5" r="2.05" fill="#c63b24"/><circle cx="545.3" cy="317.3" r="2.05" fill="#c63b24"/><circle cx="561.6" cy="307.1" r="2.05" fill="#c63b24"/><circle cx="539.5" cy="324.0" r="2.05" fill="#c63b24"/><circle cx="565.1" cy="332.5" r="2.05" fill="#c63b24"/><circle cx="581.9" cy="349.3" r="2.05" fill="#c63b24"/><circle cx="562.7" cy="342.9" r="2.05" fill="#c63b24"/><circle cx="543.0" cy="302.4" r="2.05" fill="#c63b24"/><circle cx="545.4" cy="310.4" r="2.05" fill="#c63b24"/><circle cx="556.3" cy="323.1" r="2.05" fill="#c63b24"/><circle cx="544.8" cy="329.1" r="2.05" fill="#c63b24"/><circle cx="540.7" cy="350.0" r="2.05" fill="#c63b24"/><circle cx="565.0" cy="338.6" r="2.05" fill="#c63b24"/><circle cx="584.2" cy="343.1" r="2.05" fill="#c63b24"/><circle cx="566.0" cy="352.2" r="2.05" fill="#c63b24"/><circle cx="545.3" cy="324.9" r="2.05" fill="#c63b24"/><circle cx="569.8" cy="331.7" r="2.05" fill="#c63b24"/><circle cx="562.6" cy="310.1" r="2.05" fill="#c63b24"/><circle cx="540.1" cy="301.2" r="2.05" fill="#c63b24"/><circle cx="539.8" cy="311.0" r="2.05" fill="#c63b24"/><circle cx="571.5" cy="327.8" r="2.05" fill="#c63b24"/><circle cx="549.1" cy="354.6" r="2.05" fill="#c63b24"/><circle cx="533.5" cy="309.5" r="2.05" fill="#c63b24"/><circle cx="565.1" cy="326.6" r="2.05" fill="#c63b24"/><circle cx="543.1" cy="356.8" r="2.05" fill="#c63b24"/><circle cx="538.3" cy="296.5" r="2.05" fill="#c63b24"/><circle cx="576.6" cy="335.1" r="2.05" fill="#c63b24"/><circle cx="545.1" cy="317.7" r="2.05" fill="#c63b24"/><circle cx="543.6" cy="313.8" r="2.05" fill="#c63b24"/><circle cx="530.9" cy="285.2" r="2.05" fill="#c63b24"/><circle cx="538.3" cy="289.9" r="2.05" fill="#c63b24"/><circle cx="521.3" cy="293.7" r="2.05" fill="#c63b24"/><circle cx="518.4" cy="294.8" r="2.05" fill="#c63b24"/><circle cx="523.7" cy="295.4" r="2.05" fill="#c63b24"/><circle cx="521.3" cy="296.6" r="2.05" fill="#c63b24"/><circle cx="507.0" cy="297.8" r="2.05" fill="#c63b24"/><circle cx="534.8" cy="297.8" r="2.05" fill="#c63b24"/><circle cx="529.5" cy="300.1" r="2.05" fill="#c63b24"/><circle cx="527.2" cy="303.0" r="2.05" fill="#c63b24"/><circle cx="534.2" cy="301.9" r="2.05" fill="#c63b24"/><circle cx="538.9" cy="301.3" r="2.05" fill="#c63b24"/><circle cx="542.4" cy="303.0" r="2.05" fill="#c63b24"/><circle cx="520.2" cy="306.4" r="2.05" fill="#c63b24"/><circle cx="520.2" cy="311.7" r="2.05" fill="#c63b24"/><circle cx="520.2" cy="314.1" r="2.05" fill="#c63b24"/><circle cx="508.4" cy="323.8" r="2.05" fill="#c63b24"/><circle cx="510.8" cy="345.5" r="2.05" fill="#c63b24"/><circle cx="550.6" cy="286.4" r="2.05" fill="#c63b24"/><circle cx="558.0" cy="288.0" r="2.05" fill="#c63b24"/><circle cx="580.9" cy="308.4" r="2.05" fill="#c63b24"/><circle cx="574.2" cy="324.2" r="2.05" fill="#c63b24"/><circle cx="584.0" cy="333.3" r="2.05" fill="#c63b24"/><circle cx="584.0" cy="338.3" r="2.05" fill="#c63b24"/><circle cx="579.1" cy="346.0" r="2.05" fill="#c63b24"/><circle cx="575.6" cy="349.5" r="2.05" fill="#c63b24"/><circle cx="577.7" cy="361.4" r="2.05" fill="#c63b24"/><circle cx="579.1" cy="365.6" r="2.05" fill="#c63b24"/><circle cx="574.2" cy="373.4" r="2.05" fill="#c63b24"/><circle cx="563.6" cy="369.2" r="2.05" fill="#c63b24"/><circle cx="567.1" cy="368.5" r="2.05" fill="#c63b24"/><circle cx="562.2" cy="365.6" r="2.05" fill="#c63b24"/><circle cx="537.6" cy="361.4" r="2.05" fill="#c63b24"/><circle cx="508.1" cy="383.0" r="2.05" fill="#c63b24"/><circle cx="528.3" cy="389.4" r="2.05" fill="#c63b24"/><circle cx="552.1" cy="386.0" r="2.05" fill="#c63b24"/><circle cx="555.7" cy="387.5" r="2.05" fill="#c63b24"/><circle cx="627.4" cy="349.1" r="2.05" fill="#c63b24"/><circle cx="630.9" cy="350.5" r="2.05" fill="#c63b24"/><circle cx="599.0" cy="390.9" r="2.05" fill="#c63b24"/><circle cx="605.2" cy="312.4" r="2.05" fill="#c63b24"/><circle cx="622.7" cy="311.0" r="2.05" fill="#c63b24"/><circle cx="643.3" cy="329.7" r="2.05" fill="#c63b24"/><circle cx="638.6" cy="336.8" r="2.05" fill="#c63b24"/><circle cx="635.8" cy="341.7" r="2.05" fill="#c63b24"/></g>
</g>
<path d="M480.4 238.7 V400 H685" fill="none" stroke="#222" stroke-width="1"/>
<line x1="516.4" y1="400" x2="516.4" y2="404.5" stroke="#222" stroke-width="1"/>
<text transform="translate(516.40 415.00) scale(0.95 1)" font-size="8.8" text-anchor="middle" fill="#000" stroke="#000" stroke-width="0.3">−0.5</text>
<line x1="580.9" y1="400" x2="580.9" y2="404.5" stroke="#222" stroke-width="1"/>
<text transform="translate(580.85 415.00) scale(0.95 1)" font-size="8.8" text-anchor="middle" fill="#000" stroke="#000" stroke-width="0.3">0</text>
<line x1="645.3" y1="400" x2="645.3" y2="404.5" stroke="#222" stroke-width="1"/>
<text transform="translate(645.30 415.00) scale(0.95 1)" font-size="8.8" text-anchor="middle" fill="#000" stroke="#000" stroke-width="0.3">0.5</text>
<line x1="476" y1="239.4" x2="480.4" y2="239.4" stroke="#222" stroke-width="1"/>
<text transform="translate(469.80 239.42) rotate(-90) scale(0.95 1)" font-size="8.8" text-anchor="middle" fill="#000" stroke="#000" stroke-width="0.3">0.8</text>
<line x1="476" y1="260.1" x2="480.4" y2="260.1" stroke="#222" stroke-width="1"/>
<text transform="translate(469.80 260.14) rotate(-90) scale(0.95 1)" font-size="8.8" text-anchor="middle" fill="#000" stroke="#000" stroke-width="0.3">0.6</text>
<line x1="476" y1="280.9" x2="480.4" y2="280.9" stroke="#222" stroke-width="1"/>
<text transform="translate(469.80 280.86) rotate(-90) scale(0.95 1)" font-size="8.8" text-anchor="middle" fill="#000" stroke="#000" stroke-width="0.3">0.4</text>
<line x1="476" y1="301.6" x2="480.4" y2="301.6" stroke="#222" stroke-width="1"/>
<text transform="translate(469.80 301.58) rotate(-90) scale(0.95 1)" font-size="8.8" text-anchor="middle" fill="#000" stroke="#000" stroke-width="0.3">0.2</text>
<line x1="476" y1="322.3" x2="480.4" y2="322.3" stroke="#222" stroke-width="1"/>
<text transform="translate(469.80 322.30) rotate(-90) scale(0.95 1)" font-size="8.8" text-anchor="middle" fill="#000" stroke="#000" stroke-width="0.3">0</text>
<line x1="476" y1="343.0" x2="480.4" y2="343.0" stroke="#222" stroke-width="1"/>
<text transform="translate(469.80 343.02) rotate(-90) scale(0.95 1)" font-size="8.8" text-anchor="middle" fill="#000" stroke="#000" stroke-width="0.3">−0.2</text>
<line x1="476" y1="363.7" x2="480.4" y2="363.7" stroke="#222" stroke-width="1"/>
<line x1="476" y1="384.5" x2="480.4" y2="384.5" stroke="#222" stroke-width="1"/>
<text transform="translate(469.80 384.46) rotate(-90) scale(0.95 1)" font-size="8.8" text-anchor="middle" fill="#000" stroke="#000" stroke-width="0.3">−0.6</text>
<text transform="translate(585.60 427.40) scale(0.95 1)" font-size="8.8" text-anchor="middle" fill="#000" stroke="#000" stroke-width="0.3">nmds 1</text>
<text transform="translate(458.30 316.70) rotate(-90) scale(0.95 1)" font-size="8.8" text-anchor="middle" fill="#000" stroke="#000" stroke-width="0.3">nmds 2</text>
<rect x="488" y="243.7" width="2.2" height="2.2" fill="#8290cc"/>
<text transform="translate(494.00 245.80) scale(0.95 1)" font-size="7.5" text-anchor="start" fill="#000" stroke="#000" stroke-width="0.3">tips</text>
<rect x="488" y="251.8" width="2.2" height="2.2" fill="#c63b24"/>
<text transform="translate(494.00 254.60) scale(0.95 1)" font-size="7.5" text-anchor="start" fill="#000" stroke="#000" stroke-width="0.3">nodes</text>
<rect x="488" y="259.9" width="2.2" height="2.2" fill="#cfcfcf"/>
<text transform="translate(494.00 262.60) scale(0.95 1)" font-size="7.5" text-anchor="start" fill="#000" stroke="#000" stroke-width="0.3">theo</text>
</svg></body></html>
